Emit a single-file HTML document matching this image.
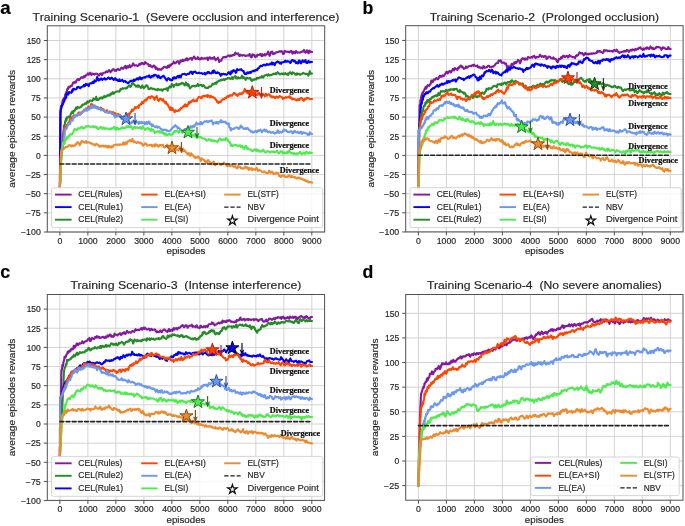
<!DOCTYPE html><html><head><meta charset="utf-8"><style>html,body{margin:0;padding:0;background:#fff;}body{width:685px;height:526px;overflow:hidden;}svg{display:block;}</style></head><body>
<svg width="685" height="526" viewBox="0 0 685 526" style="will-change:transform">
<rect width="685" height="526" fill="#fff"/>
<g>
<g stroke="#d3d3d3" stroke-width="1">
<line x1="59.90" y1="25.8" x2="59.90" y2="232.0"/>
<line x1="87.89" y1="25.8" x2="87.89" y2="232.0"/>
<line x1="115.88" y1="25.8" x2="115.88" y2="232.0"/>
<line x1="143.87" y1="25.8" x2="143.87" y2="232.0"/>
<line x1="171.86" y1="25.8" x2="171.86" y2="232.0"/>
<line x1="199.85" y1="25.8" x2="199.85" y2="232.0"/>
<line x1="227.84" y1="25.8" x2="227.84" y2="232.0"/>
<line x1="255.83" y1="25.8" x2="255.83" y2="232.0"/>
<line x1="283.82" y1="25.8" x2="283.82" y2="232.0"/>
<line x1="311.81" y1="25.8" x2="311.81" y2="232.0"/>
<line x1="47.3" y1="232.00" x2="324.7" y2="232.00"/>
<line x1="47.3" y1="212.85" x2="324.7" y2="212.85"/>
<line x1="47.3" y1="193.70" x2="324.7" y2="193.70"/>
<line x1="47.3" y1="174.55" x2="324.7" y2="174.55"/>
<line x1="47.3" y1="155.40" x2="324.7" y2="155.40"/>
<line x1="47.3" y1="136.25" x2="324.7" y2="136.25"/>
<line x1="47.3" y1="117.10" x2="324.7" y2="117.10"/>
<line x1="47.3" y1="97.95" x2="324.7" y2="97.95"/>
<line x1="47.3" y1="78.80" x2="324.7" y2="78.80"/>
<line x1="47.3" y1="59.65" x2="324.7" y2="59.65"/>
<line x1="47.3" y1="40.50" x2="324.7" y2="40.50"/>
</g>
<clipPath id="cpa"><rect x="47.3" y="25.8" width="277.4" height="206.2"/></clipPath>
<g clip-path="url(#cpa)" fill="none" stroke-width="2.1" stroke-linejoin="round" stroke-linecap="round">
<path d="M59.9,188.0 59.9,187.3 59.9,186.6 59.9,186.2 59.9,185.1 59.9,184.6 59.9,184.1 59.9,182.3 59.9,182.0 59.9,182.0 59.9,180.7 59.9,179.9 59.9,179.8 59.9,178.5 59.9,178.1 59.9,176.0 59.9,176.0 59.9,175.5 60.0,175.2 60.0,174.7 60.0,173.7 60.0,172.1 60.0,171.5 60.0,172.1 60.0,169.6 60.0,168.4 60.0,168.9 60.0,168.8 60.0,167.8 60.0,168.7 60.0,169.5 60.0,166.3 60.0,165.6 60.0,164.8 60.0,164.4 60.0,163.6 60.0,163.0 60.0,162.7 60.0,162.3 60.0,160.2 60.0,160.4 60.0,159.7 60.0,158.5 60.0,158.0 60.0,157.6 60.0,155.5 60.0,154.4 60.0,155.1 60.0,154.1 60.0,153.5 60.0,154.0 60.0,152.2 60.0,150.8 60.1,150.2 60.1,151.9 60.1,151.4 60.1,148.3 60.1,146.7 60.1,147.0 60.1,146.7 60.1,145.1 60.1,144.9 60.1,144.5 60.1,143.3 60.1,143.3 60.1,142.4 60.1,140.4 60.1,141.1 60.1,141.3 60.1,139.8 60.1,138.9 60.1,136.0 60.1,136.9 60.1,136.8 60.1,135.9 60.1,135.0 60.1,134.4 60.1,134.2 60.1,132.4 60.1,130.8 60.1,131.9 60.1,131.6 60.1,129.8 60.1,130.4 60.1,128.8 60.1,128.0 60.1,126.1 60.1,124.5 60.2,127.1 60.2,125.5 60.2,123.9 60.2,124.5 60.2,123.5 60.2,122.6 60.2,122.1 60.2,121.8 60.2,120.5 60.2,119.5 60.2,118.3 60.2,119.2 60.2,118.4 60.2,117.6 60.2,115.6 60.2,113.1 60.2,114.1 60.2,111.9 60.3,112.5 60.4,112.0 60.4,112.3 60.5,112.4 60.6,111.6 60.7,110.4 60.8,109.0 60.8,109.6 60.9,107.3 61.0,105.8 61.2,106.4 61.5,105.7 61.8,105.1 62.0,105.4 62.2,102.9 62.5,101.4 62.7,100.4 63.0,100.5 63.2,99.4 63.4,99.2 63.7,98.4 63.9,99.4 64.1,98.4 64.4,98.4 64.6,97.5 64.9,96.8 65.1,95.6 65.3,94.2 65.6,94.3 65.8,93.7 66.0,94.2 66.3,92.2 66.5,91.8 66.8,92.2 67.0,90.2 67.5,88.6 68.0,88.9 68.5,86.7 69.0,87.5 69.5,87.4 70.0,86.9 70.5,85.9 71.0,86.2 71.5,85.9 72.0,85.7 72.5,84.2 73.0,82.8 73.5,82.3 74.0,82.8 74.5,82.3 75.0,82.8 75.5,81.7 76.0,82.4 76.5,80.7 77.0,79.9 77.6,79.2 78.3,79.0 78.9,80.2 79.6,79.3 80.2,78.6 80.9,77.8 81.5,77.2 82.2,77.8 82.8,77.4 83.5,77.5 84.1,76.0 84.8,76.9 85.4,76.2 86.1,75.0 86.7,74.9 87.4,74.4 88.0,73.4 88.7,74.6 89.4,74.4 90.2,72.7 90.9,74.4 91.6,74.9 92.3,73.6 93.1,73.9 93.8,73.8 94.5,74.6 95.2,74.2 95.9,73.6 96.7,73.8 97.4,74.0 98.1,74.8 98.8,75.7 99.6,74.5 100.3,73.7 101.0,73.4 101.7,75.2 102.3,74.7 103.0,73.1 103.7,72.8 104.3,72.7 105.0,72.8 105.7,72.1 106.3,71.3 107.0,72.1 107.7,72.0 108.4,70.9 109.1,70.1 109.8,70.7 110.5,72.2 111.2,71.3 111.8,70.9 112.5,69.4 113.2,69.1 113.9,69.4 114.6,70.6 115.3,70.0 116.0,71.0 116.7,69.5 117.4,69.7 118.0,68.9 118.7,69.6 119.4,70.0 120.1,69.8 120.8,68.5 121.5,67.5 122.1,68.0 122.8,68.6 123.5,68.6 124.2,67.2 124.9,66.5 125.5,65.8 126.2,68.4 126.9,67.4 127.6,66.2 128.3,67.5 129.0,66.3 129.6,65.2 130.3,67.2 131.0,66.5 131.7,66.3 132.4,65.0 133.1,63.4 133.8,64.6 134.5,65.6 135.2,65.4 135.9,65.1 136.6,65.5 137.3,66.0 138.0,65.7 138.7,65.1 139.4,63.9 140.1,64.7 140.8,64.1 141.5,62.8 142.2,63.7 142.9,63.1 143.6,64.2 144.3,64.1 145.0,62.1 145.7,63.3 146.3,63.1 147.0,63.6 147.7,64.0 148.3,64.2 149.0,66.1 149.7,65.5 150.3,65.0 151.0,66.5 151.7,66.6 152.3,67.3 153.0,66.3 153.7,65.5 154.3,65.7 155.0,66.7 155.7,68.9 156.3,67.5 157.0,68.4 157.7,69.7 158.3,69.8 159.0,68.9 159.7,69.6 160.5,69.4 161.2,69.8 161.9,68.5 162.6,68.6 163.4,67.4 164.1,66.9 164.8,66.7 165.5,67.4 166.3,67.4 167.0,67.9 167.7,66.1 168.3,65.5 169.0,67.3 169.7,66.1 170.3,64.6 171.0,65.3 171.7,64.0 172.3,64.0 173.0,63.4 173.7,61.7 174.3,62.9 175.0,63.4 175.7,63.1 176.4,62.0 177.1,61.5 177.8,61.1 178.5,62.1 179.2,63.8 179.8,62.3 180.5,60.4 181.2,61.4 181.9,61.0 182.6,59.7 183.3,61.1 184.0,60.5 184.7,59.8 185.5,60.3 186.2,58.4 186.9,58.2 187.6,60.4 188.4,59.0 189.1,59.1 189.8,58.4 190.5,58.5 191.3,58.0 192.0,59.8 192.7,58.5 193.5,57.2 194.2,56.5 194.9,57.9 195.6,58.9 196.4,58.7 197.1,58.3 197.8,57.2 198.5,59.0 199.3,59.4 200.0,58.5 200.7,59.4 201.4,57.9 202.1,58.0 202.9,58.6 203.6,58.7 204.3,58.4 205.0,58.4 205.7,58.4 206.4,58.4 207.1,57.6 207.9,60.1 208.6,58.3 209.3,57.3 210.0,57.4 210.7,58.8 211.4,58.6 212.1,57.9 212.9,58.7 213.6,57.6 214.3,57.1 215.0,59.0 215.7,60.1 216.4,59.0 217.1,59.0 217.9,57.7 218.6,59.6 219.3,62.1 220.0,60.6 220.6,60.5 221.3,60.6 221.9,59.0 222.5,58.1 223.2,57.3 223.8,57.1 224.5,57.0 225.1,57.5 225.7,56.8 226.4,57.1 227.0,56.5 227.7,56.0 228.4,55.4 229.1,55.7 229.8,56.4 230.5,55.3 231.2,55.6 231.8,56.0 232.5,55.0 233.2,55.1 233.9,54.6 234.6,55.0 235.3,52.6 236.0,53.4 236.7,53.8 237.4,53.8 238.1,53.3 238.9,55.6 239.6,56.0 240.3,54.6 241.0,55.5 241.7,55.2 242.4,55.6 243.1,55.1 243.9,55.2 244.6,55.3 245.3,56.0 246.0,55.9 246.7,55.8 247.4,55.6 248.1,55.3 248.9,55.6 249.6,53.9 250.3,55.6 251.0,57.3 251.7,57.3 252.4,54.3 253.1,54.6 253.9,55.6 254.6,55.2 255.3,57.2 256.0,56.8 256.7,56.6 257.4,54.7 258.1,55.0 258.9,55.0 259.6,54.8 260.3,53.8 261.0,55.4 261.7,56.2 262.4,54.2 263.1,55.6 263.9,55.3 264.6,54.2 265.3,55.5 266.0,54.1 266.7,54.5 267.4,53.5 268.1,51.5 268.9,54.2 269.6,55.8 270.3,54.6 271.0,51.7 271.7,52.5 272.4,51.7 273.1,54.2 273.9,53.5 274.6,53.8 275.3,52.9 276.0,52.3 276.7,52.4 277.4,52.2 278.1,52.1 278.9,51.7 279.6,51.2 280.3,51.7 281.0,51.5 281.7,51.0 282.4,52.3 283.1,54.0 283.9,53.8 284.6,50.9 285.3,51.2 286.0,51.7 286.7,51.7 287.4,51.6 288.1,52.0 288.9,51.8 289.6,52.3 290.3,51.3 291.0,51.0 291.7,51.3 292.4,53.6 293.1,52.4 293.9,51.7 294.6,53.3 295.3,53.3 296.0,51.0 296.7,51.9 297.5,52.7 298.2,52.4 298.9,52.6 299.6,52.8 300.4,52.3 301.1,51.9 301.8,52.0 302.5,51.4 303.3,51.4 304.0,49.9 304.7,52.0 305.5,52.7 306.2,52.1 306.9,50.4 307.6,50.6 308.4,53.2 309.1,52.8 309.8,50.7 310.5,51.8 311.3,51.9 312.0,52.0" stroke="#84199f"/>
<path d="M59.9,188.0 59.9,187.3 59.9,186.6 59.9,184.1 59.9,186.2 59.9,186.0 59.9,184.2 59.9,183.0 60.0,182.2 60.0,181.4 60.0,180.3 60.0,179.4 60.0,179.1 60.0,178.7 60.0,177.6 60.0,177.2 60.0,176.5 60.0,176.3 60.0,176.4 60.0,175.4 60.0,173.2 60.0,174.6 60.0,171.9 60.0,171.7 60.1,171.1 60.1,169.4 60.1,170.6 60.1,169.1 60.1,168.6 60.1,167.8 60.1,166.3 60.1,165.7 60.1,165.2 60.1,164.3 60.1,164.5 60.1,163.6 60.1,163.4 60.1,164.1 60.1,160.7 60.1,161.1 60.2,161.3 60.2,160.2 60.2,159.1 60.2,158.5 60.2,158.0 60.2,156.8 60.2,156.5 60.2,156.4 60.2,155.1 60.2,153.0 60.2,153.4 60.2,152.1 60.2,150.4 60.2,151.7 60.2,149.8 60.2,149.1 60.3,148.8 60.3,148.8 60.3,145.3 60.3,146.7 60.3,146.5 60.3,145.9 60.3,145.3 60.3,144.7 60.3,144.0 60.3,144.3 60.3,142.8 60.3,140.9 60.3,139.7 60.3,139.9 60.3,138.2 60.3,137.5 60.4,140.6 60.4,138.9 60.4,137.4 60.4,135.4 60.4,134.2 60.4,133.7 60.4,133.2 60.4,133.5 60.4,133.4 60.4,131.6 60.4,129.7 60.4,129.3 60.4,130.1 60.4,126.7 60.4,126.3 60.4,126.5 60.5,125.2 60.5,124.4 60.5,124.1 60.5,123.6 60.5,121.8 60.5,121.4 60.5,121.9 60.5,121.9 60.5,121.0 60.5,118.7 60.5,118.0 60.5,118.4 60.5,117.3 60.5,117.7 60.5,116.4 60.5,115.8 60.6,113.6 60.6,113.0 60.6,112.8 60.6,112.4 60.6,112.0 60.6,112.2 60.6,111.8 60.6,111.3 60.8,109.3 61.1,108.4 61.3,108.4 61.5,107.8 61.8,106.7 62.0,105.2 62.3,105.6 62.6,104.8 62.8,104.2 63.1,103.8 63.4,102.9 63.7,101.9 63.9,101.5 64.2,101.3 64.5,99.5 64.8,99.9 65.1,98.4 65.3,98.7 65.6,97.8 65.9,98.1 66.2,97.4 66.4,95.6 66.7,93.0 67.0,93.8 67.6,94.3 68.2,94.6 68.9,92.1 69.5,92.5 70.1,92.6 70.8,92.4 71.4,92.7 72.0,90.4 72.6,91.3 73.2,88.8 73.9,88.7 74.5,89.4 75.1,89.5 75.8,89.3 76.4,89.1 77.0,87.4 77.7,87.5 78.4,86.8 79.1,87.1 79.8,88.0 80.4,88.2 81.1,87.0 81.8,87.0 82.5,86.5 83.2,86.4 83.9,84.8 84.6,86.2 85.2,85.5 85.9,83.8 86.6,84.9 87.3,84.3 88.0,85.3 88.7,86.2 89.3,83.9 90.0,83.4 90.6,83.2 91.2,83.3 91.9,83.4 92.5,81.9 93.2,82.9 93.8,82.9 94.5,80.4 95.2,81.4 95.8,81.4 96.5,79.5 97.1,77.1 97.8,78.6 98.4,80.4 99.0,79.5 99.7,80.1 100.3,78.9 101.0,78.5 101.7,78.8 102.4,79.8 103.1,78.9 103.9,78.7 104.6,78.2 105.3,79.6 106.0,79.2 106.7,79.1 107.4,78.4 108.1,77.6 108.9,77.8 109.6,78.7 110.3,79.0 111.0,78.1 111.7,77.7 112.4,78.5 113.1,79.3 113.9,79.9 114.6,78.7 115.3,78.1 116.0,80.0 116.7,79.6 117.4,80.3 118.1,80.9 118.8,81.0 119.4,79.4 120.1,81.1 120.8,80.9 121.5,80.3 122.2,79.8 122.9,80.9 123.6,81.8 124.2,81.2 124.9,81.0 125.6,81.3 126.3,82.3 127.0,82.5 127.7,83.1 128.4,83.0 129.1,82.2 129.8,81.5 130.5,81.1 131.2,80.7 131.9,81.1 132.6,80.6 133.3,81.1 134.0,79.6 134.7,80.8 135.3,79.8 136.0,79.7 136.7,78.5 137.4,78.3 138.1,79.6 138.8,79.1 139.5,77.3 140.2,77.3 140.9,79.2 141.6,79.3 142.3,77.8 143.0,77.7 143.7,77.6 144.4,77.2 145.1,77.6 145.8,76.7 146.5,76.5 147.2,76.3 147.9,76.7 148.6,76.6 149.3,75.4 150.0,77.2 150.7,77.6 151.4,77.3 152.1,75.8 152.8,75.7 153.5,76.5 154.2,74.8 154.9,75.2 155.6,74.9 156.3,75.7 157.0,76.1 157.7,77.5 158.4,75.5 159.1,76.4 159.8,77.6 160.5,78.2 161.2,77.4 161.9,76.8 162.6,76.3 163.3,75.7 164.0,76.3 164.7,77.4 165.4,78.5 166.1,79.7 166.8,80.6 167.5,79.3 168.2,78.2 168.9,78.7 169.6,78.8 170.3,80.2 171.0,80.2 171.7,80.0 172.3,80.1 172.9,77.9 173.6,78.4 174.2,77.1 174.9,78.5 175.6,77.9 176.2,78.2 176.8,76.7 177.5,76.4 178.2,75.8 178.8,77.4 179.4,75.8 180.1,76.4 180.8,77.3 181.4,75.2 182.1,74.4 182.7,74.0 183.3,74.0 184.0,74.0 184.7,73.7 185.4,74.5 186.1,74.9 186.9,74.2 187.6,73.9 188.3,73.9 189.0,73.9 189.7,72.9 190.4,72.0 191.1,71.6 191.9,73.2 192.6,74.0 193.3,71.9 194.0,71.9 194.7,71.8 195.4,71.6 196.1,72.8 196.9,73.1 197.6,73.2 198.3,73.0 199.0,72.6 199.7,73.0 200.4,73.2 201.1,73.2 201.9,73.1 202.6,73.9 203.3,73.8 204.0,73.8 204.7,72.9 205.4,74.5 206.1,73.4 206.9,73.4 207.6,72.0 208.3,72.8 209.0,72.0 209.7,73.3 210.4,73.3 211.1,73.4 211.9,72.8 212.6,71.0 213.3,72.8 214.0,70.4 214.7,71.6 215.3,72.7 216.0,73.2 216.7,72.9 217.3,72.2 218.0,73.0 218.7,72.7 219.3,73.3 220.0,74.3 220.7,75.8 221.3,74.3 222.0,73.8 222.7,74.3 223.4,73.7 224.1,73.9 224.9,74.4 225.6,74.2 226.3,74.6 227.0,74.5 227.7,73.5 228.4,72.4 229.1,72.3 229.9,74.1 230.6,74.4 231.3,71.3 232.0,72.6 232.7,70.9 233.5,70.2 234.2,71.0 234.9,70.5 235.6,72.8 236.4,72.4 237.1,69.1 237.8,69.6 238.5,70.0 239.3,69.8 240.0,69.5 240.6,69.7 241.2,69.2 241.8,70.2 242.4,70.4 243.0,71.1 243.6,71.0 244.2,73.1 244.8,74.0 245.4,74.1 246.0,73.4 246.7,73.8 247.3,72.4 248.0,72.2 248.7,73.2 249.3,72.8 250.0,72.0 250.7,72.9 251.3,71.5 252.0,71.5 252.7,71.4 253.3,70.5 254.0,71.3 254.6,71.3 255.2,70.1 255.9,70.1 256.5,69.7 257.1,70.2 257.8,68.7 258.4,68.0 259.0,68.0 259.6,67.0 260.2,66.2 260.9,65.7 261.5,66.0 262.1,66.2 262.8,65.3 263.4,64.7 264.0,65.0 264.7,64.8 265.4,65.5 266.1,64.7 266.9,63.9 267.6,64.7 268.3,64.4 269.0,64.8 269.7,64.2 270.4,63.5 271.1,64.3 271.9,62.4 272.6,64.4 273.3,62.9 274.0,63.8 274.7,65.1 275.4,63.1 276.1,62.5 276.8,62.2 277.5,61.3 278.2,62.2 278.9,62.0 279.6,63.4 280.4,62.5 281.1,63.8 281.8,62.2 282.5,62.4 283.2,62.1 283.9,62.0 284.6,61.9 285.3,60.6 286.0,61.8 286.7,61.8 287.4,61.1 288.1,61.5 288.9,61.6 289.6,61.7 290.3,63.0 291.0,62.3 291.7,60.2 292.4,60.1 293.1,60.2 293.9,61.5 294.6,60.6 295.3,61.5 296.0,63.1 296.7,62.3 297.5,63.4 298.2,63.2 298.9,60.6 299.6,60.6 300.4,62.9 301.1,63.3 301.8,62.2 302.5,60.3 303.3,61.2 304.0,62.0 304.7,60.9 305.5,60.1 306.2,62.8 306.9,62.9 307.6,62.9 308.4,60.9 309.1,61.5 309.8,62.5 310.5,61.9 311.3,62.0 312.0,62.0" stroke="#0000ff"/>
<path d="M59.9,188.0 59.9,187.3 59.9,186.6 60.0,186.7 60.0,184.2 60.0,184.9 60.0,184.2 60.0,182.2 60.1,183.5 60.1,182.0 60.1,180.5 60.1,179.3 60.1,180.0 60.2,179.6 60.2,177.2 60.2,177.1 60.2,176.1 60.2,176.0 60.3,175.3 60.3,173.3 60.3,173.3 60.3,172.6 60.3,171.5 60.4,171.7 60.4,170.4 60.4,171.1 60.4,171.1 60.4,169.6 60.5,165.6 60.5,165.9 60.5,166.7 60.5,165.9 60.5,165.3 60.6,165.6 60.6,163.6 60.6,162.2 60.7,162.2 60.7,161.8 60.8,161.8 60.9,162.1 60.9,160.7 61.0,158.0 61.0,156.8 61.1,157.1 61.2,157.2 61.2,156.6 61.3,156.3 61.4,155.5 61.4,155.2 61.5,152.8 61.6,150.8 61.6,150.4 61.7,152.2 61.8,150.4 61.8,149.4 61.9,148.9 61.9,148.2 62.0,147.3 62.1,146.6 62.1,146.9 62.2,146.7 62.3,145.8 62.3,144.1 62.4,143.9 62.5,141.5 62.5,141.3 62.6,139.8 62.7,141.2 62.7,139.7 62.8,139.2 62.8,138.4 62.9,137.8 63.0,135.9 63.0,134.7 63.1,134.7 63.2,134.0 63.2,133.0 63.3,135.1 63.4,133.4 63.4,132.8 63.5,130.4 63.6,131.3 63.6,132.0 63.7,130.4 63.7,130.6 63.8,129.2 63.9,128.3 63.9,125.9 64.0,126.0 64.2,126.0 64.5,125.5 64.8,124.3 65.0,123.0 65.2,121.0 65.5,121.8 65.8,120.5 66.0,118.6 66.2,119.3 66.5,120.3 66.8,118.1 67.0,117.3 67.5,118.0 68.0,117.3 68.5,116.5 69.0,116.7 69.5,117.2 70.0,117.2 70.5,114.9 71.0,113.7 71.5,112.6 72.0,111.9 72.5,111.4 73.0,113.1 73.5,111.0 74.0,111.0 74.5,111.1 75.0,110.0 75.5,109.1 76.0,107.7 76.5,109.0 77.0,108.5 77.6,106.8 78.3,107.7 78.9,107.7 79.6,107.7 80.2,107.1 80.9,106.5 81.5,106.6 82.2,105.0 82.8,104.4 83.5,104.6 84.1,104.5 84.8,104.0 85.4,103.2 86.1,103.8 86.7,103.0 87.4,101.4 88.0,102.5 88.7,102.4 89.4,100.8 90.1,100.5 90.7,100.6 91.4,100.9 92.1,101.0 92.8,100.3 93.5,98.4 94.2,99.5 94.8,99.0 95.5,99.4 96.2,96.8 96.9,100.0 97.6,99.2 98.3,99.9 98.9,99.5 99.6,98.3 100.3,97.7 101.0,98.4 101.7,97.4 102.3,98.3 103.0,97.4 103.6,97.6 104.3,95.9 104.9,97.1 105.6,96.9 106.2,96.2 106.9,96.2 107.5,95.1 108.2,95.2 108.8,95.6 109.5,94.5 110.1,95.4 110.8,93.7 111.4,94.3 112.1,92.9 112.7,92.1 113.4,93.8 114.0,93.6 114.7,92.4 115.3,92.1 116.0,91.7 116.7,91.6 117.3,91.4 118.0,91.3 118.6,91.5 119.3,91.6 119.9,90.8 120.6,88.9 121.2,89.4 121.9,88.9 122.5,88.2 123.2,88.8 123.8,88.3 124.5,88.3 125.1,88.3 125.8,88.7 126.4,87.7 127.1,88.0 127.7,86.8 128.4,86.2 129.0,85.4 129.7,85.5 130.3,87.0 131.0,86.4 131.7,84.7 132.4,82.6 133.1,83.7 133.8,83.9 134.5,85.0 135.2,85.2 135.9,86.6 136.6,86.5 137.4,85.4 138.1,86.8 138.8,85.4 139.5,86.6 140.2,86.7 140.9,87.9 141.6,87.3 142.3,85.4 143.0,86.8 143.7,88.2 144.4,87.8 145.1,87.1 145.9,85.5 146.6,85.2 147.3,85.6 148.0,87.4 148.7,89.2 149.4,88.9 150.1,88.7 150.9,87.9 151.6,88.4 152.3,88.6 153.0,89.1 153.7,88.8 154.4,89.1 155.1,89.8 155.9,89.6 156.6,89.5 157.3,90.2 158.0,88.9 158.7,89.4 159.4,89.8 160.1,89.9 160.9,89.6 161.6,89.4 162.3,90.9 163.0,89.9 163.7,89.2 164.3,89.2 165.0,88.8 165.7,89.2 166.3,88.5 167.0,88.2 167.7,90.7 168.3,88.5 169.0,87.2 169.7,86.4 170.3,87.4 171.0,87.2 171.7,83.9 172.3,84.7 173.0,85.1 173.7,86.9 174.3,85.6 175.0,84.7 175.7,84.6 176.4,83.7 177.1,85.3 177.8,84.6 178.5,85.2 179.2,83.9 179.8,84.1 180.5,84.3 181.2,83.3 181.9,82.8 182.6,83.5 183.3,83.4 184.0,84.4 184.7,85.4 185.3,84.4 186.0,82.4 186.7,83.9 187.3,85.7 188.0,84.2 188.7,84.7 189.3,86.6 190.0,88.4 190.7,87.5 191.3,87.0 192.0,86.1 192.7,86.2 193.5,85.7 194.2,85.9 194.9,86.4 195.6,85.7 196.4,85.9 197.1,85.4 197.8,83.9 198.5,85.9 199.3,85.4 200.0,85.3 200.7,84.9 201.5,84.8 202.2,86.3 202.9,85.8 203.6,85.2 204.4,86.1 205.1,87.6 205.8,87.7 206.5,87.9 207.3,87.9 208.0,88.0 208.7,87.1 209.3,86.3 210.0,86.7 210.7,86.5 211.3,86.1 212.0,84.8 212.7,83.6 213.3,84.3 214.0,83.8 214.7,83.6 215.3,82.7 216.0,83.8 216.7,83.0 217.3,81.5 218.0,81.5 218.7,80.9 219.3,80.9 220.0,80.4 220.7,80.0 221.3,80.4 222.0,79.6 222.7,79.9 223.3,79.7 224.0,79.2 224.7,80.1 225.5,79.1 226.2,78.8 226.9,78.9 227.6,78.1 228.4,78.2 229.1,78.0 229.8,78.8 230.5,78.9 231.3,78.4 232.0,77.2 232.7,79.1 233.4,78.1 234.1,77.0 234.9,76.4 235.6,76.3 236.3,78.6 237.0,77.3 237.7,78.4 238.4,77.4 239.1,78.2 239.9,78.2 240.6,77.5 241.3,77.6 242.0,75.7 242.7,78.3 243.4,76.9 244.1,77.7 244.8,78.2 245.5,79.9 246.2,78.6 246.9,77.6 247.6,78.3 248.4,78.5 249.1,78.4 249.8,77.8 250.5,78.2 251.2,80.4 251.9,80.9 252.6,79.8 253.3,79.9 254.0,79.8 254.7,79.0 255.4,79.2 256.1,79.6 256.9,77.8 257.6,78.4 258.3,78.0 259.0,78.3 259.7,77.4 260.4,77.5 261.1,77.5 261.9,76.1 262.6,77.0 263.3,77.6 264.0,76.1 264.7,75.4 265.4,75.4 266.1,75.1 266.9,74.6 267.6,75.7 268.3,74.3 269.0,74.7 269.7,75.4 270.4,74.9 271.1,75.3 271.9,74.6 272.6,74.5 273.3,73.7 274.0,74.0 274.7,74.0 275.4,73.2 276.1,74.2 276.9,73.6 277.6,72.1 278.3,72.9 279.0,73.5 279.7,74.4 280.4,74.0 281.1,73.7 281.9,73.5 282.6,74.0 283.3,73.4 284.0,74.3 284.7,73.7 285.4,73.1 286.1,74.1 286.9,74.4 287.6,73.6 288.3,74.9 289.0,73.2 289.7,72.3 290.4,72.4 291.1,73.6 291.9,74.1 292.6,72.3 293.3,73.2 294.0,73.1 294.7,73.4 295.4,74.7 296.1,74.8 296.9,73.3 297.6,74.4 298.3,73.7 299.0,73.8 299.7,74.6 300.4,74.8 301.1,74.1 301.9,74.0 302.6,73.4 303.3,72.9 304.0,73.3 304.7,73.6 305.5,74.1 306.2,73.7 306.9,73.9 307.6,74.0 308.4,75.7 309.1,73.4 309.8,71.2 310.5,73.7 311.3,73.6 312.0,73.6" stroke="#268b26"/>
<path d="M59.9,188.0 59.9,187.3 59.9,186.6 60.0,184.6 60.0,185.4 60.0,184.4 60.0,183.2 60.1,182.3 60.1,181.8 60.1,180.7 60.1,180.7 60.2,179.6 60.2,179.9 60.2,178.9 60.2,176.2 60.3,175.4 60.3,176.1 60.3,175.6 60.4,174.8 60.4,175.3 60.4,173.3 60.4,174.1 60.5,172.6 60.5,171.7 60.5,171.4 60.5,171.1 60.5,171.5 60.6,167.7 60.6,168.0 60.6,167.2 60.6,166.7 60.7,166.0 60.7,165.3 60.7,163.7 60.8,163.2 60.8,164.8 60.8,162.8 60.8,161.6 60.9,161.8 60.9,160.5 60.9,159.3 60.9,157.3 61.0,156.9 61.0,158.5 61.0,157.2 61.1,156.2 61.2,157.0 61.3,155.3 61.4,153.1 61.5,153.4 61.6,152.1 61.7,151.8 61.8,149.5 61.9,149.4 62.0,149.3 62.1,150.3 62.2,147.4 62.3,147.5 62.4,146.7 62.5,145.2 62.6,144.6 62.7,144.8 62.8,145.8 62.9,144.3 63.0,143.2 63.1,143.3 63.1,142.6 63.2,140.4 63.2,140.9 63.3,139.1 63.3,138.3 63.4,138.1 63.4,136.0 63.5,135.5 63.6,135.3 63.6,136.9 63.7,136.6 63.7,134.9 63.8,132.1 63.8,132.2 63.9,131.8 63.9,131.6 64.0,129.2 64.4,128.6 64.7,127.6 65.1,127.4 65.5,128.4 65.8,128.0 66.2,126.0 66.6,125.2 66.9,125.3 67.3,124.3 67.7,124.6 68.1,123.6 68.4,122.6 68.8,122.4 69.2,121.9 69.5,121.4 69.9,119.5 70.3,119.0 70.6,119.4 71.0,118.1 71.7,117.7 72.3,117.0 73.0,116.9 73.7,115.3 74.3,115.9 75.0,116.6 75.7,115.5 76.3,115.0 77.0,115.8 77.7,114.3 78.3,113.0 79.0,112.4 79.6,114.8 80.2,114.7 80.8,112.6 81.4,113.5 82.0,113.0 82.5,111.5 83.1,111.6 83.7,110.7 84.3,109.5 84.9,109.6 85.5,110.4 86.1,108.4 86.7,109.2 87.3,108.4 87.9,107.5 88.5,106.4 89.0,108.3 89.6,107.7 90.2,106.9 90.8,105.6 91.4,103.9 92.0,104.2 92.7,105.8 93.4,106.4 94.1,105.4 94.8,106.1 95.5,107.7 96.2,107.1 96.9,107.1 97.6,107.1 98.3,108.3 99.0,109.0 99.7,108.4 100.3,107.6 101.0,107.7 101.7,108.7 102.3,109.4 103.0,109.0 103.7,109.7 104.3,110.7 105.0,111.2 105.7,111.1 106.3,111.2 107.0,110.2 107.7,112.3 108.3,112.7 109.0,112.0 109.7,111.5 110.3,111.8 111.0,111.9 111.7,112.7 112.3,113.9 113.0,112.1 113.7,113.1 114.3,114.1 115.0,113.2 115.7,113.6 116.3,116.4 117.0,115.0 117.7,114.3 118.3,114.0 119.0,114.7 119.7,114.8 120.3,115.2 121.0,116.2 121.7,117.2 122.3,118.2 123.0,118.3 123.7,118.1 124.3,117.4 125.0,118.4 125.5,117.3 126.0,115.9 126.5,115.6 127.0,114.7 127.5,114.3 128.0,114.1 128.5,114.7 129.0,115.0 129.5,113.4 130.0,113.6 130.5,112.9 131.0,111.7 131.5,111.0 132.0,109.5 132.5,110.9 133.0,110.7 133.5,109.6 134.0,109.3 134.5,108.5 135.0,107.0 135.6,107.7 136.2,108.0 136.8,107.5 137.4,106.7 138.0,107.0 138.6,107.9 139.1,105.0 139.7,105.1 140.3,104.4 140.9,103.6 141.5,104.3 142.1,101.9 142.7,102.2 143.3,103.2 143.9,101.6 144.5,100.6 145.1,100.7 145.7,99.5 146.3,100.4 146.9,99.4 147.4,98.2 148.0,97.5 148.6,97.4 149.2,96.9 149.8,97.8 150.4,98.2 151.0,96.7 151.7,96.2 152.4,96.4 153.1,97.3 153.8,97.9 154.5,100.0 155.2,97.7 155.9,97.2 156.6,96.0 157.4,99.0 158.1,100.3 158.8,100.9 159.5,99.8 160.2,98.5 160.9,98.9 161.6,99.4 162.3,100.2 163.0,99.2 163.5,101.5 164.0,101.3 164.5,101.5 165.0,102.6 165.5,103.4 166.0,102.1 166.5,103.4 167.0,104.0 167.5,104.2 168.0,105.5 168.5,106.2 169.0,107.2 169.5,107.4 170.0,109.8 170.5,107.4 171.0,107.9 171.5,110.1 172.0,109.3 172.5,108.0 173.0,110.3 173.5,110.3 174.0,110.4 174.5,112.2 175.0,111.9 175.6,110.3 176.2,110.6 176.8,110.9 177.4,111.1 178.0,110.8 178.6,110.2 179.2,110.6 179.8,109.9 180.4,108.8 181.0,108.0 181.6,108.1 182.2,107.5 182.8,107.0 183.4,106.0 184.0,106.5 184.6,105.2 185.2,104.3 185.8,106.2 186.5,105.0 187.1,106.3 187.7,105.0 188.3,103.7 188.9,102.1 189.5,103.5 190.2,102.4 190.8,101.4 191.4,101.9 192.0,100.9 192.7,100.3 193.3,99.7 194.0,101.4 194.7,101.0 195.3,100.5 196.0,100.4 196.7,101.2 197.3,99.3 198.0,98.2 198.7,96.9 199.3,97.0 200.0,97.1 200.7,97.8 201.5,98.2 202.2,96.9 202.9,96.0 203.6,96.1 204.4,96.3 205.1,96.0 205.8,95.7 206.5,95.3 207.3,96.8 208.0,95.1 208.7,96.5 209.3,96.0 210.0,97.3 210.7,95.9 211.3,96.3 212.0,97.2 212.6,97.3 213.2,97.1 213.8,97.7 214.3,97.9 214.9,98.3 215.5,99.6 216.1,99.6 216.7,100.7 217.2,102.0 217.8,102.3 218.4,102.9 219.0,101.6 219.6,102.5 220.3,102.0 220.9,101.7 221.6,100.2 222.2,99.7 222.9,99.0 223.5,99.4 224.1,99.3 224.8,98.3 225.4,98.1 226.1,98.2 226.7,97.1 227.4,96.1 228.0,96.8 228.7,96.9 229.3,95.3 230.0,95.8 230.7,95.1 231.3,95.5 232.0,95.7 232.7,94.5 233.3,94.0 234.0,92.8 234.7,93.6 235.3,93.7 236.0,94.8 236.7,94.5 237.5,96.0 238.2,94.3 238.9,94.3 239.6,93.3 240.4,94.1 241.1,93.3 241.8,94.1 242.5,92.6 243.3,92.8 244.0,91.5 244.7,88.9 245.5,90.5 246.2,91.9 246.9,92.7 247.6,92.8 248.4,93.8 249.1,92.9 249.8,93.1 250.5,94.1 251.3,93.9 252.0,93.2 252.7,93.0 253.5,94.1 254.2,94.4 254.9,93.1 255.6,94.3 256.4,94.9 257.1,95.0 257.8,94.6 258.5,92.5 259.3,93.3 260.0,94.8 260.7,95.4 261.4,94.5 262.1,95.1 262.9,94.4 263.6,94.7 264.3,95.3 265.0,96.3 265.7,93.7 266.4,94.5 267.1,95.7 267.9,94.5 268.6,94.3 269.3,94.5 270.0,95.9 270.7,95.6 271.4,97.2 272.1,97.3 272.9,96.3 273.6,96.9 274.3,97.1 275.0,98.2 275.7,97.3 276.4,96.5 277.1,96.9 277.9,97.6 278.6,97.4 279.3,96.0 280.0,96.3 280.7,96.5 281.5,96.7 282.2,97.4 282.9,99.0 283.6,98.0 284.4,98.2 285.1,97.5 285.8,97.0 286.5,97.6 287.3,97.4 288.0,97.5 288.7,96.8 289.4,96.2 290.1,97.9 290.9,97.4 291.6,98.8 292.3,99.4 293.0,98.6 293.7,99.0 294.4,99.1 295.1,99.4 295.9,99.9 296.6,100.4 297.3,100.3 298.0,99.1 298.7,100.0 299.4,100.0 300.1,98.5 300.8,98.0 301.5,98.1 302.2,98.6 302.9,100.0 303.6,100.7 304.3,100.5 305.0,98.7 305.7,98.6 306.4,98.9 307.1,97.9 307.8,97.9 308.5,98.3 309.2,98.6 309.9,98.9 310.6,99.1 311.3,99.0 312.0,99.0" stroke="#ff4500"/>
<path d="M59.9,188.0 59.9,187.3 60.0,186.6 60.0,186.4 60.0,184.2 60.0,183.2 60.1,182.9 60.1,182.7 60.1,182.6 60.2,180.7 60.2,179.6 60.2,179.1 60.3,180.0 60.3,180.4 60.3,177.9 60.4,177.0 60.4,177.4 60.4,175.5 60.4,175.4 60.5,174.7 60.5,173.9 60.5,174.2 60.6,173.4 60.6,171.8 60.6,171.2 60.6,169.4 60.7,169.0 60.7,169.0 60.7,169.4 60.8,168.5 60.8,167.4 60.8,166.8 60.9,166.1 60.9,165.2 60.9,165.1 60.9,163.4 61.0,163.9 61.0,163.3 61.0,161.0 61.1,160.3 61.1,160.0 61.1,160.1 61.2,158.8 61.2,158.1 61.2,158.5 61.2,155.3 61.3,155.5 61.3,156.5 61.3,154.1 61.4,153.5 61.4,152.9 61.6,152.7 61.7,151.7 61.9,150.8 62.0,152.7 62.2,150.3 62.3,149.4 62.5,147.8 62.6,147.2 62.8,148.3 62.9,146.5 63.1,146.4 63.2,144.8 63.4,143.3 63.5,143.5 63.7,142.4 63.8,141.4 64.0,140.7 64.1,138.7 64.1,137.6 64.2,137.1 64.3,137.6 64.3,137.6 64.4,135.8 64.5,134.0 64.5,134.4 64.6,135.2 64.7,134.3 64.7,133.0 64.8,131.5 64.9,131.2 64.9,131.3 65.0,130.9 65.4,129.1 65.8,129.0 66.2,128.2 66.6,128.8 67.0,127.5 67.4,126.4 67.8,125.3 68.2,123.8 68.6,123.7 69.0,123.6 69.4,124.1 69.8,124.2 70.2,123.8 70.6,121.3 71.0,121.0 71.4,120.7 71.8,119.9 72.2,119.3 72.6,120.8 73.0,118.9 73.6,116.9 74.2,117.7 74.8,116.5 75.4,115.2 76.0,115.8 76.6,115.2 77.2,114.8 77.8,114.9 78.3,115.0 78.9,114.6 79.5,113.9 80.1,113.0 80.7,113.9 81.3,113.4 81.9,112.6 82.5,111.3 83.1,111.5 83.7,111.6 84.3,110.5 84.9,109.7 85.5,109.1 86.1,108.7 86.7,110.6 87.2,110.5 87.8,110.0 88.4,109.4 89.0,108.4 89.6,109.5 90.2,106.9 90.8,106.4 91.4,106.3 92.0,108.1 92.7,107.9 93.3,105.6 94.0,106.3 94.6,107.5 95.3,105.7 95.9,107.3 96.6,108.5 97.2,108.3 97.9,107.3 98.5,109.2 99.2,108.3 99.8,108.4 100.5,108.9 101.1,110.3 101.8,109.7 102.4,109.9 103.1,110.2 103.7,110.9 104.4,110.6 105.0,112.1 105.7,111.3 106.3,112.4 107.0,112.1 107.7,112.3 108.3,112.5 109.0,112.8 109.7,112.8 110.3,112.2 111.0,112.7 111.7,113.3 112.3,114.0 113.0,113.5 113.7,114.8 114.3,115.8 115.0,117.3 115.7,115.5 116.3,114.9 117.0,115.2 117.7,116.4 118.3,115.8 119.0,114.9 119.7,116.6 120.3,116.8 121.0,116.5 121.7,119.2 122.3,118.6 123.0,116.6 123.7,116.1 124.3,118.1 125.0,119.9 125.7,119.5 126.3,118.0 127.0,118.6 127.7,120.4 128.3,120.4 129.0,121.6 129.7,123.5 130.3,122.5 131.0,122.5 131.7,123.1 132.3,121.4 133.0,121.6 133.7,121.4 134.4,122.7 135.1,123.3 135.8,122.5 136.5,122.4 137.2,122.4 137.9,122.3 138.6,123.8 139.3,121.9 140.0,123.2 140.7,122.4 141.4,121.8 142.1,123.3 142.8,122.8 143.5,122.8 144.2,122.2 144.9,124.3 145.6,123.1 146.3,122.0 147.0,124.1 147.7,123.5 148.4,121.8 149.1,121.6 149.9,123.8 150.6,123.5 151.3,125.0 152.0,126.1 152.6,124.5 153.2,125.9 153.8,126.3 154.4,126.2 155.0,127.0 155.6,127.1 156.2,126.3 156.8,126.2 157.4,127.6 158.0,127.5 158.7,126.8 159.4,127.3 160.1,128.1 160.9,129.0 161.6,129.8 162.3,129.6 163.0,130.5 163.7,129.5 164.4,129.8 165.1,130.0 165.9,129.6 166.6,130.7 167.3,130.4 168.0,131.0 168.6,131.2 169.2,131.5 169.8,131.0 170.5,130.0 171.1,129.7 171.7,128.8 172.3,128.0 172.9,127.2 173.5,127.4 174.2,126.5 174.8,125.6 175.4,125.2 176.0,126.0 176.5,126.5 177.1,126.7 177.6,128.4 178.2,127.5 178.7,127.8 179.2,128.4 179.8,128.6 180.3,129.8 180.8,130.3 181.4,130.3 181.9,132.2 182.5,132.7 183.0,131.4 183.6,130.4 184.2,131.7 184.8,129.1 185.4,128.9 186.0,132.2 186.6,129.7 187.2,128.4 187.8,129.0 188.4,127.9 189.0,128.2 189.6,128.5 190.2,126.5 190.8,126.3 191.4,127.0 192.0,127.7 192.7,126.3 193.5,125.5 194.2,126.9 194.9,125.5 195.6,124.4 196.4,122.6 197.1,124.4 197.8,124.4 198.5,123.9 199.3,123.5 200.0,124.2 200.7,122.0 201.3,122.6 202.0,124.4 202.7,122.7 203.3,122.8 204.0,121.8 204.7,121.4 205.3,121.5 206.0,121.4 206.7,120.9 207.3,121.6 208.0,122.2 208.7,121.2 209.5,121.4 210.2,120.9 210.9,120.7 211.6,120.4 212.4,122.2 213.1,124.4 213.8,122.7 214.5,122.8 215.3,122.3 216.0,123.3 216.7,121.9 217.4,123.0 218.1,123.7 218.9,121.8 219.6,122.5 220.3,121.4 221.0,120.2 221.7,122.4 222.4,121.3 223.1,121.7 223.9,122.4 224.6,122.1 225.3,121.6 226.0,123.0 226.5,122.8 226.9,123.7 227.4,123.7 227.8,124.2 228.3,123.6 228.8,123.6 229.2,127.1 229.7,127.6 230.2,127.9 230.6,130.0 231.1,130.4 231.5,128.4 232.0,128.9 232.7,129.1 233.5,128.6 234.2,128.6 234.9,128.0 235.6,127.8 236.4,127.5 237.1,127.4 237.8,127.7 238.5,128.9 239.3,128.6 240.0,127.4 240.7,125.6 241.3,127.2 242.0,126.6 242.7,127.9 243.3,128.6 244.0,128.7 244.7,128.9 245.3,128.2 246.0,129.0 246.7,128.6 247.3,127.8 248.0,128.4 248.7,129.6 249.3,130.3 250.0,130.4 250.7,131.4 251.3,131.8 252.0,131.4 252.7,132.5 253.3,132.2 254.0,132.4 254.7,131.6 255.4,131.0 256.1,131.0 256.9,132.2 257.6,130.9 258.3,130.4 259.0,130.9 259.7,130.5 260.4,129.7 261.1,130.5 261.9,132.3 262.6,131.1 263.3,130.3 264.0,129.8 264.7,129.6 265.3,131.3 266.0,130.0 266.7,130.4 267.3,131.6 268.0,132.4 268.7,132.3 269.3,131.3 270.0,131.9 270.7,132.4 271.3,132.9 272.0,132.6 272.7,132.1 273.3,132.3 274.0,133.0 274.7,133.6 275.4,132.8 276.1,133.0 276.9,132.6 277.6,130.3 278.3,130.9 279.0,132.9 279.7,131.9 280.4,131.8 281.1,132.5 281.9,132.4 282.6,131.8 283.3,130.2 284.0,129.5 284.7,130.7 285.4,130.6 286.1,130.0 286.9,131.1 287.6,132.1 288.3,132.3 289.0,132.0 289.7,131.9 290.4,131.3 291.1,131.2 291.9,131.8 292.6,133.3 293.3,132.8 294.0,131.1 294.7,130.8 295.4,132.1 296.1,132.4 296.9,132.6 297.6,131.6 298.3,132.6 299.0,133.3 299.7,133.0 300.4,131.9 301.1,131.9 301.9,134.0 302.6,133.0 303.3,132.3 304.0,132.5 304.7,132.9 305.5,133.2 306.2,133.3 306.9,133.3 307.6,134.9 308.4,134.4 309.1,134.8 309.8,132.3 310.5,133.8 311.3,133.9 312.0,134.0" stroke="#6a98ee"/>
<path d="M59.9,188.0 59.9,187.3 60.0,186.6 60.0,185.7 60.0,185.4 60.1,184.0 60.1,182.7 60.2,182.8 60.2,183.3 60.2,182.5 60.3,181.7 60.3,180.2 60.3,179.5 60.4,178.2 60.4,177.2 60.4,177.3 60.5,176.5 60.5,175.4 60.6,174.7 60.6,173.7 60.6,174.9 60.7,174.3 60.7,173.5 60.7,172.4 60.8,171.5 60.8,170.7 60.8,169.1 60.9,168.9 60.9,168.6 61.0,167.6 61.0,166.7 61.0,165.1 61.1,164.7 61.1,164.2 61.1,163.5 61.2,162.5 61.2,162.2 61.2,161.4 61.3,160.1 61.3,160.3 61.3,159.3 61.4,159.9 61.4,159.7 61.5,159.0 61.5,157.9 61.5,156.9 61.6,155.1 61.6,154.1 61.6,153.5 61.7,153.2 61.7,152.3 61.7,151.7 61.8,151.4 61.8,149.0 61.9,149.2 61.9,147.9 61.9,148.2 62.0,147.0 62.0,147.2 62.3,146.7 62.7,144.1 63.0,144.2 63.3,142.8 63.7,142.7 64.0,143.6 64.3,143.8 64.7,143.0 65.0,141.1 65.3,138.7 65.7,139.9 66.0,140.1 66.3,139.8 66.7,138.5 67.0,137.0 67.6,138.3 68.1,136.4 68.7,136.8 69.2,136.4 69.8,134.5 70.3,134.6 70.9,134.4 71.4,134.3 72.0,134.4 72.6,133.3 73.1,132.5 73.7,131.4 74.2,129.4 74.8,129.0 75.3,129.6 75.9,129.5 76.4,129.6 77.0,130.1 77.7,128.4 78.4,128.3 79.1,128.5 79.9,128.8 80.6,127.7 81.3,127.0 82.0,127.1 82.7,128.0 83.4,128.6 84.1,127.6 84.9,127.8 85.6,126.9 86.3,126.0 87.0,126.4 87.7,126.6 88.4,125.9 89.1,126.2 89.9,126.7 90.6,127.1 91.3,126.7 92.0,126.5 92.7,126.6 93.4,126.2 94.1,127.4 94.9,126.7 95.6,126.4 96.3,127.9 97.0,127.1 97.7,128.8 98.4,129.0 99.1,128.6 99.9,127.7 100.6,127.1 101.3,127.1 102.0,128.0 102.7,129.0 103.4,127.5 104.1,127.5 104.9,129.0 105.6,128.6 106.3,128.4 107.0,128.5 107.7,128.6 108.4,129.1 109.1,129.4 109.8,129.1 110.5,128.4 111.2,129.1 111.9,128.3 112.6,128.7 113.3,127.8 114.0,126.9 114.7,127.1 115.4,129.6 116.1,129.7 116.8,127.7 117.5,127.6 118.2,129.5 118.9,129.0 119.6,129.0 120.3,128.7 121.0,128.2 121.7,128.6 122.4,127.3 123.1,127.6 123.9,128.3 124.6,127.8 125.3,127.9 126.0,127.2 126.7,126.1 127.4,126.8 128.1,127.2 128.8,126.1 129.5,126.9 130.2,127.4 130.9,126.2 131.6,126.6 132.3,128.5 133.0,129.2 133.7,128.1 134.4,127.3 135.1,126.8 135.8,127.9 136.5,127.4 137.2,127.2 137.9,127.9 138.6,127.9 139.3,128.3 140.0,127.1 140.7,127.6 141.4,129.0 142.1,127.3 142.9,126.3 143.6,128.0 144.3,128.6 145.0,129.9 145.7,129.1 146.4,128.5 147.1,128.3 147.9,128.0 148.6,129.3 149.3,128.6 150.0,129.8 150.7,130.9 151.4,128.7 152.1,130.3 152.9,129.6 153.6,130.6 154.3,131.8 155.0,132.8 155.7,132.1 156.4,132.1 157.1,131.7 157.9,131.3 158.6,131.7 159.3,131.1 160.0,132.6 160.7,131.6 161.5,132.6 162.2,131.8 162.9,133.4 163.6,132.6 164.4,134.5 165.1,133.2 165.8,133.4 166.5,135.4 167.3,135.0 168.0,134.7 168.7,134.1 169.4,134.1 170.1,134.8 170.9,134.6 171.6,134.6 172.3,134.5 173.0,132.8 173.7,132.8 174.4,131.2 175.1,131.8 175.9,130.7 176.6,131.3 177.3,130.8 178.0,131.1 178.7,132.5 179.4,132.1 180.1,130.8 180.9,130.2 181.6,131.0 182.3,131.4 183.0,131.4 183.7,132.1 184.4,131.9 185.1,132.5 185.9,132.9 186.6,132.3 187.3,133.1 188.0,133.2 188.7,132.3 189.3,133.8 190.0,133.8 190.7,133.7 191.3,134.1 192.0,134.7 192.7,135.4 193.3,135.1 194.0,136.1 194.7,134.5 195.3,136.6 196.0,136.4 196.7,137.5 197.4,136.7 198.1,137.3 198.9,136.8 199.6,137.3 200.3,137.0 201.0,137.0 201.7,137.9 202.4,138.2 203.1,138.5 203.9,138.8 204.6,138.4 205.3,139.4 206.0,140.0 206.7,140.8 207.4,140.5 208.1,140.1 208.9,139.1 209.6,139.8 210.3,140.4 211.0,139.6 211.7,140.9 212.4,140.8 213.1,140.3 213.9,141.3 214.6,140.5 215.3,141.0 216.0,141.4 216.7,141.4 217.4,142.1 218.1,140.8 218.9,139.7 219.6,138.6 220.3,138.6 221.0,140.2 221.7,139.9 222.4,139.5 223.1,140.2 223.9,139.3 224.6,139.8 225.3,140.2 226.0,138.0 226.5,138.7 227.0,139.2 227.5,139.2 228.0,140.7 228.5,141.2 229.0,141.4 229.5,141.6 230.0,143.3 230.5,143.3 231.0,145.9 231.5,145.5 232.0,145.0 232.7,146.2 233.5,145.2 234.2,145.2 234.9,144.6 235.6,144.9 236.4,145.1 237.1,145.9 237.8,146.3 238.5,145.6 239.3,145.5 240.0,145.4 240.7,147.1 241.3,146.0 242.0,146.6 242.7,146.1 243.3,148.0 244.0,148.9 244.7,147.9 245.3,146.4 246.0,145.9 246.7,147.0 247.3,149.1 248.0,148.2 248.7,149.1 249.5,149.5 250.2,149.8 250.9,149.5 251.6,150.6 252.4,151.3 253.1,150.4 253.8,150.4 254.5,149.4 255.3,150.3 256.0,149.3 256.7,150.9 257.5,149.7 258.2,151.4 258.9,150.6 259.6,151.3 260.4,151.7 261.1,151.6 261.8,150.6 262.5,150.9 263.3,149.7 264.0,150.9 264.8,152.1 265.6,152.8 266.4,152.0 267.2,151.2 268.0,151.1 268.7,151.4 269.4,152.2 270.1,152.5 270.8,151.8 271.5,151.7 272.2,151.3 272.9,152.0 273.6,151.5 274.4,152.5 275.1,152.2 275.8,151.9 276.5,151.0 277.2,150.6 277.9,152.5 278.6,153.5 279.3,153.1 280.0,152.3 280.7,151.2 281.4,151.5 282.1,151.3 282.8,153.6 283.5,153.0 284.2,152.3 284.9,153.3 285.6,153.5 286.4,152.6 287.1,151.8 287.8,153.0 288.5,150.9 289.2,150.8 289.9,152.2 290.6,152.7 291.3,153.4 292.0,153.1 292.7,153.1 293.4,154.1 294.1,153.1 294.8,153.7 295.5,153.8 296.2,154.4 296.9,153.3 297.6,153.2 298.4,153.8 299.1,153.0 299.8,152.1 300.5,152.0 301.2,153.9 301.9,153.9 302.6,153.8 303.3,152.8 304.0,152.6 304.7,153.8 305.5,153.7 306.2,151.8 306.9,151.8 307.6,152.7 308.4,153.7 309.1,153.0 309.8,152.0 310.5,153.0 311.3,153.0 312.0,153.0" stroke="#4deb4d"/>
<path d="M59.9,188.0 59.9,187.3 59.9,186.6 60.0,184.8 60.0,185.3 60.0,184.7 60.0,185.1 60.0,183.6 60.1,182.6 60.1,180.5 60.1,181.0 60.1,180.8 60.2,179.3 60.2,179.3 60.2,177.3 60.2,177.5 60.2,176.3 60.3,176.0 60.3,176.1 60.3,174.9 60.3,174.0 60.3,173.7 60.4,173.8 60.4,172.9 60.4,170.4 60.4,171.0 60.5,168.4 60.5,168.2 60.5,167.8 60.5,165.5 60.5,166.2 60.6,165.9 60.6,165.0 60.6,163.2 60.6,162.8 60.6,163.4 60.7,163.9 60.7,161.6 60.7,159.5 60.7,159.0 60.7,158.6 60.8,160.0 60.8,160.5 60.8,159.0 60.8,155.7 60.9,155.3 60.9,154.4 60.9,154.8 60.9,156.0 60.9,153.9 61.0,152.5 61.0,151.8 61.0,151.6 61.5,150.4 62.0,149.6 62.5,147.9 63.0,148.7 63.5,149.2 64.0,148.5 64.5,148.3 65.0,147.9 65.7,146.9 66.5,147.0 67.2,146.7 67.9,146.6 68.6,145.3 69.4,145.2 70.1,145.6 70.8,145.3 71.5,146.3 72.3,145.3 73.0,146.0 73.7,146.3 74.3,145.7 75.0,145.5 75.7,144.0 76.3,144.3 77.0,142.7 77.7,142.1 78.3,142.8 79.0,143.2 79.7,145.4 80.3,144.5 81.0,142.4 81.7,140.9 82.3,142.0 83.0,141.3 83.7,141.7 84.3,142.2 85.0,142.8 85.7,141.6 86.3,141.2 87.0,142.8 87.7,142.4 88.3,142.2 89.0,142.5 89.7,142.6 90.3,143.3 91.0,142.8 91.7,143.8 92.3,143.9 93.0,144.6 93.7,144.2 94.4,144.4 95.1,145.4 95.8,144.4 96.5,143.8 97.2,144.5 97.9,144.8 98.6,145.4 99.4,146.7 100.1,145.9 100.8,146.2 101.5,146.5 102.2,145.6 102.9,146.4 103.6,145.7 104.3,146.5 105.0,146.7 105.7,145.6 106.4,146.1 107.1,147.3 107.9,145.8 108.6,147.5 109.3,146.0 110.0,147.3 110.7,147.5 111.4,146.3 112.1,147.5 112.9,146.8 113.6,145.3 114.3,145.3 115.0,145.1 115.7,144.6 116.4,144.7 117.1,144.8 117.8,144.5 118.5,144.9 119.2,144.7 119.9,144.3 120.6,144.8 121.3,144.6 122.0,144.4 122.7,144.6 123.3,142.6 124.0,144.0 124.7,144.6 125.4,142.2 126.1,142.8 126.8,143.8 127.5,141.6 128.2,141.2 128.9,141.4 129.6,140.1 130.3,140.6 131.0,141.4 131.7,140.3 132.4,138.9 133.1,141.5 133.8,142.2 134.5,141.4 135.2,142.3 135.9,142.7 136.6,142.9 137.4,142.1 138.1,142.3 138.8,142.8 139.5,142.5 140.2,143.5 140.9,142.7 141.6,143.3 142.3,144.4 143.0,145.6 143.7,144.6 144.5,144.6 145.2,143.3 145.9,143.7 146.6,144.5 147.4,145.7 148.1,145.2 148.8,145.2 149.5,145.3 150.3,144.9 151.0,144.6 151.7,145.9 152.4,146.3 153.1,145.0 153.8,145.2 154.5,146.3 155.2,144.2 155.9,145.6 156.6,144.6 157.4,145.2 158.1,146.6 158.8,146.6 159.5,145.3 160.2,145.0 160.9,145.0 161.6,145.6 162.3,144.8 163.0,144.7 163.7,147.0 164.4,147.4 165.1,147.2 165.8,146.4 166.5,146.2 167.2,144.6 167.8,146.0 168.5,148.3 169.2,148.7 169.9,149.1 170.6,147.5 171.3,147.9 172.0,148.5 172.0,151.0 172.7,149.6 173.5,147.0 174.2,147.7 174.9,147.2 175.6,149.0 176.4,149.6 177.1,149.7 177.8,149.3 178.5,150.3 179.3,148.4 180.0,147.2 180.7,147.9 181.3,149.5 182.0,150.6 182.7,151.3 183.3,150.1 184.0,149.7 184.7,151.2 185.3,151.1 186.0,152.4 186.7,152.7 187.3,154.0 188.0,154.4 188.7,153.0 189.3,154.0 190.0,155.9 190.7,155.4 191.3,153.3 192.0,155.0 192.7,154.9 193.3,156.1 194.0,156.9 194.7,157.0 195.3,158.4 196.0,157.1 196.7,157.4 197.3,157.6 198.0,156.6 198.7,157.0 199.3,158.2 200.0,158.7 200.7,161.0 201.3,158.2 202.0,158.7 202.7,159.0 203.3,159.9 204.0,159.8 204.7,161.3 205.3,160.9 206.0,162.0 206.7,162.9 207.4,160.7 208.1,160.0 208.9,161.5 209.6,161.7 210.3,162.8 211.0,163.3 211.7,162.9 212.4,164.3 213.1,162.3 213.9,161.6 214.6,164.8 215.3,165.1 216.0,164.5 216.7,163.8 217.4,164.0 218.1,163.7 218.9,163.6 219.6,163.7 220.3,164.7 221.0,165.0 221.7,164.1 222.4,164.2 223.1,163.3 223.9,162.7 224.6,163.6 225.3,164.1 226.0,164.2 226.7,165.9 227.4,166.3 228.1,165.8 228.9,165.1 229.6,165.5 230.3,166.5 231.0,165.5 231.7,165.4 232.4,165.3 233.1,166.6 233.9,166.7 234.6,166.7 235.3,166.2 236.0,167.4 236.7,168.2 237.4,168.3 238.1,166.0 238.8,167.1 239.5,166.5 240.2,166.7 240.9,168.3 241.6,168.0 242.4,168.4 243.1,168.8 243.8,168.3 244.5,167.8 245.2,166.6 245.9,166.7 246.6,168.1 247.3,167.3 248.0,168.1 248.7,170.0 249.4,168.0 250.1,169.0 250.8,169.1 251.5,168.0 252.2,170.4 252.9,169.0 253.6,169.5 254.4,169.3 255.1,170.0 255.8,169.0 256.5,167.8 257.2,169.3 257.9,170.7 258.6,170.6 259.3,169.7 260.0,170.5 260.7,170.8 261.4,171.1 262.1,171.9 262.8,172.2 263.5,172.3 264.2,171.4 265.0,172.1 265.7,172.5 266.4,173.2 267.1,172.9 267.8,173.2 268.5,172.4 269.2,170.7 269.9,171.4 270.6,172.9 271.3,172.8 272.0,171.7 272.8,172.5 273.5,174.2 274.2,173.9 274.9,173.6 275.6,173.7 276.3,172.6 277.0,173.3 277.7,172.8 278.4,173.5 279.1,176.1 279.8,175.6 280.5,176.8 281.2,177.0 281.9,176.0 282.6,175.4 283.3,175.1 284.0,176.1 284.7,176.7 285.4,176.4 286.1,177.0 286.8,176.5 287.5,177.0 288.2,176.4 288.9,175.5 289.6,175.8 290.4,177.0 291.1,177.5 291.8,176.0 292.5,176.4 293.2,177.0 293.9,177.1 294.6,177.7 295.3,177.2 296.0,177.9 296.7,178.5 297.5,177.8 298.2,178.3 298.9,177.3 299.6,178.2 300.4,178.7 301.1,178.3 301.8,179.0 302.5,179.2 303.3,179.9 304.0,179.7 304.7,180.4 305.3,180.1 306.0,181.2 306.7,180.6 307.3,181.7 308.0,181.4 308.7,182.5 309.3,182.1 310.0,182.0 310.7,182.2 311.3,182.4 312.0,182.6" stroke="#ee8a2c"/>
<line x1="59.9" y1="164.0" x2="311.8" y2="164.0" stroke="#222" stroke-width="1.6" stroke-dasharray="3.95,2.2"/>
</g>
<path d="M126.00,112.10 L124.45,116.87 L119.44,116.87 L123.49,119.81 L121.94,124.58 L126.00,121.64 L130.06,124.58 L128.51,119.81 L132.56,116.87 L127.55,116.87Z" fill="#6a98ee" stroke="#2f4f9a" stroke-width="1" stroke-linejoin="miter"/>
<path d="M188.00,125.50 L186.45,130.27 L181.44,130.27 L185.49,133.21 L183.94,137.98 L188.00,135.04 L192.06,137.98 L190.51,133.21 L194.56,130.27 L189.55,130.27Z" fill="#4deb4d" stroke="#1f7a1f" stroke-width="1" stroke-linejoin="miter"/>
<path d="M172.00,141.10 L170.45,145.87 L165.44,145.87 L169.49,148.81 L167.94,153.58 L172.00,150.64 L176.06,153.58 L174.51,148.81 L178.56,145.87 L173.55,145.87Z" fill="#ee8a2c" stroke="#8a4a12" stroke-width="1" stroke-linejoin="miter"/>
<path d="M252.30,85.60 L250.75,90.37 L245.74,90.37 L249.79,93.31 L248.24,98.08 L252.30,95.14 L256.36,98.08 L254.81,93.31 L258.86,90.37 L253.85,90.37Z" fill="#ff4500" stroke="#b5231a" stroke-width="1" stroke-linejoin="miter"/>
<line x1="135" y1="113" x2="135" y2="123" stroke="#2f4f9a" stroke-width="1.15"/>
<path d="M133.1,119.8 L135,121.4 L136.9,119.8 L135,125 Z" fill="#2f4f9a" stroke="#2f4f9a" stroke-width="0.6" stroke-linejoin="round"/>
<line x1="197" y1="127" x2="197" y2="136.5" stroke="#1f7a1f" stroke-width="1.15"/>
<path d="M195.1,133.3 L197,134.9 L198.9,133.3 L197,138.5 Z" fill="#1f7a1f" stroke="#1f7a1f" stroke-width="0.6" stroke-linejoin="round"/>
<line x1="181.4" y1="142" x2="181.4" y2="151" stroke="#8a4a12" stroke-width="1.15"/>
<path d="M179.5,147.8 L181.4,149.4 L183.3,147.8 L181.4,153 Z" fill="#8a4a12" stroke="#8a4a12" stroke-width="0.6" stroke-linejoin="round"/>
<line x1="261.5" y1="87" x2="261.5" y2="96.5" stroke="#b5231a" stroke-width="1.15"/>
<path d="M259.6,93.3 L261.5,94.9 L263.4,93.3 L261.5,98.5 Z" fill="#b5231a" stroke="#b5231a" stroke-width="0.6" stroke-linejoin="round"/>
<text transform="translate(269.80,92.70) scale(0.9822,1)" font-family="Liberation Serif" font-size="8.40" font-weight="bold" text-anchor="start" fill="#111" stroke="#111" stroke-width="0.25" xml:space="preserve">Divergence</text>
<text transform="translate(269.80,126.30) scale(0.9822,1)" font-family="Liberation Serif" font-size="8.40" font-weight="bold" text-anchor="start" fill="#111" stroke="#111" stroke-width="0.25" xml:space="preserve">Divergence</text>
<text transform="translate(269.80,148.30) scale(0.9822,1)" font-family="Liberation Serif" font-size="8.40" font-weight="bold" text-anchor="start" fill="#111" stroke="#111" stroke-width="0.25" xml:space="preserve">Divergence</text>
<text transform="translate(279.80,172.90) scale(0.9822,1)" font-family="Liberation Serif" font-size="8.40" font-weight="bold" text-anchor="start" fill="#111" stroke="#111" stroke-width="0.25" xml:space="preserve">Divergence</text>
<rect x="47.3" y="25.8" width="277.40" height="206.20" fill="none" stroke="#505050" stroke-width="1"/>
<g stroke="#505050" stroke-width="1">
<line x1="59.90" y1="232.0" x2="59.90" y2="235.5"/>
<line x1="87.89" y1="232.0" x2="87.89" y2="235.5"/>
<line x1="115.88" y1="232.0" x2="115.88" y2="235.5"/>
<line x1="143.87" y1="232.0" x2="143.87" y2="235.5"/>
<line x1="171.86" y1="232.0" x2="171.86" y2="235.5"/>
<line x1="199.85" y1="232.0" x2="199.85" y2="235.5"/>
<line x1="227.84" y1="232.0" x2="227.84" y2="235.5"/>
<line x1="255.83" y1="232.0" x2="255.83" y2="235.5"/>
<line x1="283.82" y1="232.0" x2="283.82" y2="235.5"/>
<line x1="311.81" y1="232.0" x2="311.81" y2="235.5"/>
<line x1="43.8" y1="232.00" x2="47.3" y2="232.00"/>
<line x1="43.8" y1="212.85" x2="47.3" y2="212.85"/>
<line x1="43.8" y1="193.70" x2="47.3" y2="193.70"/>
<line x1="43.8" y1="174.55" x2="47.3" y2="174.55"/>
<line x1="43.8" y1="155.40" x2="47.3" y2="155.40"/>
<line x1="43.8" y1="136.25" x2="47.3" y2="136.25"/>
<line x1="43.8" y1="117.10" x2="47.3" y2="117.10"/>
<line x1="43.8" y1="97.95" x2="47.3" y2="97.95"/>
<line x1="43.8" y1="78.80" x2="47.3" y2="78.80"/>
<line x1="43.8" y1="59.65" x2="47.3" y2="59.65"/>
<line x1="43.8" y1="40.50" x2="47.3" y2="40.50"/>
</g>
<text transform="translate(59.90,243.80) scale(1.0528,1)" font-family="Liberation Sans" font-size="8.30" text-anchor="middle" fill="#262626" stroke="#262626" stroke-width="0.17" xml:space="preserve">0</text>
<text transform="translate(87.89,243.80) scale(1.0528,1)" font-family="Liberation Sans" font-size="8.30" text-anchor="middle" fill="#262626" stroke="#262626" stroke-width="0.17" xml:space="preserve">1000</text>
<text transform="translate(115.88,243.80) scale(1.0528,1)" font-family="Liberation Sans" font-size="8.30" text-anchor="middle" fill="#262626" stroke="#262626" stroke-width="0.17" xml:space="preserve">2000</text>
<text transform="translate(143.87,243.80) scale(1.0528,1)" font-family="Liberation Sans" font-size="8.30" text-anchor="middle" fill="#262626" stroke="#262626" stroke-width="0.17" xml:space="preserve">3000</text>
<text transform="translate(171.86,243.80) scale(1.0528,1)" font-family="Liberation Sans" font-size="8.30" text-anchor="middle" fill="#262626" stroke="#262626" stroke-width="0.17" xml:space="preserve">4000</text>
<text transform="translate(199.85,243.80) scale(1.0528,1)" font-family="Liberation Sans" font-size="8.30" text-anchor="middle" fill="#262626" stroke="#262626" stroke-width="0.17" xml:space="preserve">5000</text>
<text transform="translate(227.84,243.80) scale(1.0528,1)" font-family="Liberation Sans" font-size="8.30" text-anchor="middle" fill="#262626" stroke="#262626" stroke-width="0.17" xml:space="preserve">6000</text>
<text transform="translate(255.83,243.80) scale(1.0528,1)" font-family="Liberation Sans" font-size="8.30" text-anchor="middle" fill="#262626" stroke="#262626" stroke-width="0.17" xml:space="preserve">7000</text>
<text transform="translate(283.82,243.80) scale(1.0528,1)" font-family="Liberation Sans" font-size="8.30" text-anchor="middle" fill="#262626" stroke="#262626" stroke-width="0.17" xml:space="preserve">8000</text>
<text transform="translate(311.81,243.80) scale(1.0528,1)" font-family="Liberation Sans" font-size="8.30" text-anchor="middle" fill="#262626" stroke="#262626" stroke-width="0.17" xml:space="preserve">9000</text>
<text transform="translate(40.80,235.30) scale(1.0623,1)" font-family="Liberation Sans" font-size="8.30" text-anchor="end" fill="#262626" stroke="#262626" stroke-width="0.17" xml:space="preserve">−100</text>
<text transform="translate(40.80,216.15) scale(1.0753,1)" font-family="Liberation Sans" font-size="8.30" text-anchor="end" fill="#262626" stroke="#262626" stroke-width="0.17" xml:space="preserve">−75</text>
<text transform="translate(40.80,197.00) scale(1.0753,1)" font-family="Liberation Sans" font-size="8.30" text-anchor="end" fill="#262626" stroke="#262626" stroke-width="0.17" xml:space="preserve">−50</text>
<text transform="translate(40.80,177.85) scale(1.0753,1)" font-family="Liberation Sans" font-size="8.30" text-anchor="end" fill="#262626" stroke="#262626" stroke-width="0.17" xml:space="preserve">−25</text>
<text transform="translate(40.80,158.70) scale(1.0225,1)" font-family="Liberation Sans" font-size="8.30" text-anchor="end" fill="#262626" stroke="#262626" stroke-width="0.17" xml:space="preserve">0</text>
<text transform="translate(40.80,139.55) scale(1.0225,1)" font-family="Liberation Sans" font-size="8.30" text-anchor="end" fill="#262626" stroke="#262626" stroke-width="0.17" xml:space="preserve">25</text>
<text transform="translate(40.80,120.40) scale(1.0225,1)" font-family="Liberation Sans" font-size="8.30" text-anchor="end" fill="#262626" stroke="#262626" stroke-width="0.17" xml:space="preserve">50</text>
<text transform="translate(40.80,101.25) scale(1.0225,1)" font-family="Liberation Sans" font-size="8.30" text-anchor="end" fill="#262626" stroke="#262626" stroke-width="0.17" xml:space="preserve">75</text>
<text transform="translate(40.80,82.10) scale(1.0225,1)" font-family="Liberation Sans" font-size="8.30" text-anchor="end" fill="#262626" stroke="#262626" stroke-width="0.17" xml:space="preserve">100</text>
<text transform="translate(40.80,62.95) scale(1.0225,1)" font-family="Liberation Sans" font-size="8.30" text-anchor="end" fill="#262626" stroke="#262626" stroke-width="0.17" xml:space="preserve">125</text>
<text transform="translate(40.80,43.80) scale(1.0225,1)" font-family="Liberation Sans" font-size="8.30" text-anchor="end" fill="#262626" stroke="#262626" stroke-width="0.17" xml:space="preserve">150</text>
<text transform="translate(186.00,254.40) scale(1.0364,1)" font-family="Liberation Sans" font-size="9.40" text-anchor="middle" fill="#262626" stroke="#262626" stroke-width="0.17" xml:space="preserve">episodes</text>
<text transform="translate(15.20,128.90) rotate(-90) scale(1.0671,1)" font-family="Liberation Sans" font-size="9.40" text-anchor="middle" fill="#262626" stroke="#262626" stroke-width="0.17" xml:space="preserve">average episodes rewards</text>
<text transform="translate(186.00,20.60) scale(1.0766,1)" font-family="Liberation Sans" font-size="11.40" text-anchor="middle" fill="#262626" stroke="#262626" stroke-width="0.17" xml:space="preserve">Training Scenario-1  (Severe occlusion and interference)</text>
</g>
<g>
<g stroke="#d3d3d3" stroke-width="1">
<line x1="418.40" y1="25.7" x2="418.40" y2="231.9"/>
<line x1="446.39" y1="25.7" x2="446.39" y2="231.9"/>
<line x1="474.38" y1="25.7" x2="474.38" y2="231.9"/>
<line x1="502.37" y1="25.7" x2="502.37" y2="231.9"/>
<line x1="530.36" y1="25.7" x2="530.36" y2="231.9"/>
<line x1="558.35" y1="25.7" x2="558.35" y2="231.9"/>
<line x1="586.34" y1="25.7" x2="586.34" y2="231.9"/>
<line x1="614.33" y1="25.7" x2="614.33" y2="231.9"/>
<line x1="642.32" y1="25.7" x2="642.32" y2="231.9"/>
<line x1="670.31" y1="25.7" x2="670.31" y2="231.9"/>
<line x1="405.7" y1="231.95" x2="683.1" y2="231.95"/>
<line x1="405.7" y1="212.80" x2="683.1" y2="212.80"/>
<line x1="405.7" y1="193.65" x2="683.1" y2="193.65"/>
<line x1="405.7" y1="174.50" x2="683.1" y2="174.50"/>
<line x1="405.7" y1="155.35" x2="683.1" y2="155.35"/>
<line x1="405.7" y1="136.20" x2="683.1" y2="136.20"/>
<line x1="405.7" y1="117.05" x2="683.1" y2="117.05"/>
<line x1="405.7" y1="97.90" x2="683.1" y2="97.90"/>
<line x1="405.7" y1="78.75" x2="683.1" y2="78.75"/>
<line x1="405.7" y1="59.60" x2="683.1" y2="59.60"/>
<line x1="405.7" y1="40.45" x2="683.1" y2="40.45"/>
</g>
<clipPath id="cpb"><rect x="405.7" y="25.7" width="277.40000000000003" height="206.20000000000002"/></clipPath>
<g clip-path="url(#cpb)" fill="none" stroke-width="2.1" stroke-linejoin="round" stroke-linecap="round">
<path d="M418.4,188.0 418.4,187.3 418.4,186.6 418.4,184.7 418.4,184.5 418.5,183.0 418.5,183.7 418.5,182.9 418.5,183.4 418.5,180.8 418.5,181.6 418.5,179.2 418.5,180.0 418.5,180.1 418.5,178.0 418.6,179.1 418.6,177.6 418.6,176.5 418.6,175.3 418.6,173.3 418.6,174.6 418.6,175.3 418.6,174.0 418.6,172.2 418.6,171.6 418.7,171.0 418.7,171.2 418.7,170.1 418.7,169.1 418.7,167.9 418.7,167.3 418.7,165.9 418.7,164.3 418.7,164.0 418.7,164.1 418.8,164.2 418.8,162.3 418.8,160.8 418.8,161.4 418.8,160.7 418.8,160.8 418.8,159.9 418.8,157.7 418.8,156.8 418.9,155.3 418.9,156.2 418.9,157.0 418.9,155.4 418.9,154.6 418.9,154.1 418.9,152.2 418.9,152.1 418.9,150.5 418.9,151.1 419.0,149.7 419.0,148.8 419.0,147.3 419.0,148.1 419.0,146.9 419.0,145.4 419.0,146.0 419.0,146.0 419.0,144.3 419.0,143.0 419.1,141.2 419.1,141.1 419.1,140.1 419.1,140.6 419.1,141.2 419.1,139.6 419.1,138.1 419.1,139.2 419.1,138.5 419.1,136.6 419.2,137.4 419.2,136.4 419.2,136.0 419.2,135.1 419.2,133.8 419.2,132.5 419.2,130.2 419.2,130.0 419.2,130.1 419.3,129.5 419.3,128.8 419.3,128.4 419.3,127.4 419.3,127.5 419.3,127.5 419.3,124.4 419.3,124.5 419.3,124.0 419.3,124.2 419.4,123.5 419.4,123.0 419.4,121.9 419.4,119.8 419.4,119.9 419.4,119.6 419.4,119.7 419.4,117.7 419.4,116.1 419.4,116.2 419.5,116.3 419.5,114.9 419.5,114.2 419.5,114.1 419.5,113.6 419.5,111.7 419.5,112.0 419.5,111.0 419.5,110.2 419.5,109.9 419.6,109.0 419.6,108.9 419.6,108.9 419.6,106.4 419.6,105.1 419.7,105.9 419.9,105.9 420.0,105.0 420.2,104.5 420.3,103.8 420.4,100.5 420.6,100.6 420.7,99.3 420.9,101.0 421.0,100.0 421.2,97.7 421.3,96.0 421.4,96.2 421.6,96.0 421.7,95.1 421.9,97.2 422.0,93.9 422.4,93.0 422.8,92.9 423.2,91.6 423.6,91.4 424.0,90.4 424.4,89.7 424.8,88.5 425.2,88.6 425.6,86.9 426.0,88.7 426.5,88.3 427.1,86.1 427.6,85.1 428.1,85.6 428.6,85.4 429.2,85.8 429.7,85.1 430.2,84.2 430.7,83.9 431.3,80.6 431.8,80.7 432.3,80.8 432.8,82.1 433.4,80.7 433.9,79.3 434.4,79.6 434.9,79.8 435.5,79.5 436.0,78.5 436.6,77.9 437.3,78.7 437.9,79.3 438.6,78.3 439.2,76.5 439.9,75.5 440.5,76.8 441.2,76.3 441.8,76.6 442.5,75.4 443.1,75.6 443.8,76.0 444.4,75.1 445.1,74.0 445.7,73.1 446.4,71.9 447.0,71.8 447.6,73.5 448.3,72.6 448.9,71.7 449.6,70.9 450.2,71.2 450.9,72.5 451.5,71.2 452.2,70.5 452.8,68.8 453.5,70.3 454.1,70.5 454.8,68.1 455.4,68.6 456.1,69.1 456.7,69.5 457.4,69.9 458.0,67.9 458.7,68.4 459.5,66.5 460.2,66.4 460.9,65.5 461.6,67.2 462.4,66.6 463.1,67.7 463.8,68.8 464.5,68.5 465.3,68.3 466.0,66.5 466.7,67.7 467.5,67.4 468.2,66.7 468.9,66.2 469.6,66.1 470.4,65.9 471.1,66.3 471.8,65.5 472.5,65.0 473.3,65.8 474.0,64.6 474.7,65.5 475.3,65.8 476.0,66.2 476.7,66.0 477.3,65.4 478.0,67.3 478.7,67.4 479.3,66.8 480.0,67.8 480.7,68.1 481.3,67.5 482.0,67.5 482.7,68.5 483.5,66.0 484.2,66.9 484.9,67.9 485.6,67.6 486.4,67.4 487.1,67.0 487.8,66.0 488.5,65.7 489.3,65.9 490.0,67.1 490.7,67.1 491.3,67.2 492.0,66.6 492.7,66.5 493.3,66.6 494.0,65.9 494.7,65.2 495.3,64.5 496.0,63.4 496.7,63.1 497.3,62.7 498.0,63.0 498.7,60.5 499.3,61.1 500.0,60.5 500.7,60.3 501.3,62.1 502.0,62.9 502.7,62.6 503.3,62.5 504.0,62.6 504.7,63.5 505.3,63.8 506.0,63.5 506.6,65.5 507.1,68.0 507.7,66.5 508.3,66.4 508.9,66.4 509.4,66.5 510.0,68.8 510.6,67.2 511.1,65.3 511.7,63.8 512.3,64.9 512.9,64.8 513.4,64.1 514.0,62.5 514.6,63.7 515.1,62.5 515.7,61.8 516.3,62.9 516.9,62.0 517.4,61.2 518.0,59.9 518.7,60.5 519.4,61.5 520.1,63.3 520.8,61.4 521.5,59.2 522.2,58.5 522.9,58.2 523.6,59.0 524.4,59.6 525.1,58.3 525.8,59.5 526.5,59.1 527.2,59.5 527.9,57.0 528.6,57.4 529.3,57.6 530.0,57.5 530.7,57.8 531.4,57.0 532.2,57.7 532.9,56.3 533.6,56.2 534.3,55.9 535.1,57.7 535.8,57.9 536.5,56.9 537.2,57.1 537.9,57.0 538.7,56.8 539.4,56.4 540.1,54.7 540.8,55.8 541.6,56.9 542.3,56.1 543.0,56.2 543.7,57.0 544.5,56.4 545.2,55.8 545.9,56.6 546.6,58.9 547.4,58.4 548.1,57.3 548.8,56.5 549.5,56.8 550.3,57.0 551.0,58.2 551.6,58.3 552.2,58.2 552.8,58.4 553.4,57.4 554.0,58.7 554.6,58.7 555.2,58.9 555.8,59.1 556.4,60.3 557.0,61.6 557.6,62.1 558.2,61.6 558.8,58.8 559.4,59.1 560.0,59.0 560.6,58.8 561.2,57.1 561.8,58.1 562.4,57.7 563.0,55.9 563.7,55.6 564.4,56.6 565.1,57.2 565.9,56.2 566.6,55.9 567.3,56.0 568.0,57.5 568.7,57.0 569.4,55.1 570.1,56.1 570.9,56.2 571.6,56.7 572.3,57.1 573.0,57.0 573.7,57.1 574.4,57.1 575.1,58.1 575.9,56.0 576.6,55.1 577.3,55.8 578.0,55.2 578.7,53.9 579.4,52.3 580.1,52.8 580.9,53.4 581.6,53.4 582.3,53.0 583.0,54.1 583.7,55.3 584.5,54.5 585.2,53.0 585.9,53.3 586.6,54.5 587.4,54.3 588.1,53.7 588.8,54.4 589.5,53.9 590.3,53.5 591.0,54.0 591.7,53.4 592.5,53.8 593.2,53.3 593.9,53.4 594.6,53.5 595.4,53.3 596.1,52.9 596.8,52.9 597.5,50.9 598.3,51.6 599.0,51.8 599.7,50.9 600.5,51.2 601.2,52.3 601.9,52.4 602.6,52.9 603.4,52.5 604.1,50.1 604.8,50.4 605.5,50.7 606.3,50.2 607.0,50.5 607.7,51.1 608.5,51.0 609.2,50.7 609.9,51.2 610.6,51.2 611.4,51.1 612.1,51.1 612.8,51.7 613.5,50.4 614.3,50.1 615.0,50.7 615.7,51.1 616.5,49.7 617.2,50.7 617.9,51.7 618.6,52.2 619.4,52.9 620.1,52.3 620.8,52.3 621.5,51.9 622.3,51.8 623.0,51.5 623.7,51.8 624.5,50.8 625.2,51.5 625.9,51.5 626.6,50.1 627.4,50.0 628.1,50.9 628.8,51.9 629.5,51.3 630.3,50.0 631.0,49.8 631.7,50.7 632.5,49.3 633.2,49.8 633.9,49.7 634.6,50.5 635.4,48.9 636.1,49.7 636.8,49.6 637.5,48.8 638.3,49.0 639.0,47.7 639.7,47.9 640.5,47.4 641.2,48.9 641.9,48.7 642.6,49.8 643.4,48.5 644.1,49.7 644.8,48.7 645.5,48.0 646.3,48.8 647.0,47.4 647.7,47.6 648.5,48.8 649.2,48.9 649.9,47.7 650.6,46.4 651.4,48.0 652.1,48.7 652.8,47.8 653.5,49.2 654.3,49.1 655.0,48.3 655.7,48.3 656.5,46.8 657.2,47.3 657.9,47.1 658.6,47.1 659.4,47.4 660.1,47.6 660.8,48.1 661.5,49.8 662.3,48.4 663.0,47.3 663.8,48.0 664.5,47.9 665.3,48.9 666.0,49.0 666.8,48.9 667.6,49.1 668.3,47.0 669.1,48.9 669.8,48.9 670.6,49.0" stroke="#84199f"/>
<path d="M418.4,188.0 418.4,187.3 418.4,186.6 418.4,186.6 418.4,187.0 418.4,185.0 418.4,184.0 418.4,182.9 418.4,182.3 418.4,181.3 418.4,181.9 418.5,179.0 418.5,178.9 418.5,178.6 418.5,179.2 418.5,175.7 418.5,176.0 418.5,175.1 418.5,174.6 418.5,174.6 418.5,174.2 418.5,174.3 418.5,173.9 418.5,172.8 418.5,170.9 418.5,170.5 418.5,169.1 418.5,168.3 418.5,167.4 418.5,168.4 418.5,166.2 418.6,165.7 418.6,165.0 418.6,165.4 418.6,164.3 418.6,163.3 418.6,162.6 418.6,161.6 418.6,160.9 418.6,160.5 418.6,159.0 418.6,158.4 418.6,158.8 418.6,158.0 418.6,157.4 418.6,156.2 418.6,155.1 418.6,155.0 418.6,154.1 418.6,153.3 418.6,153.4 418.7,152.6 418.7,152.5 418.7,151.5 418.7,150.0 418.7,149.7 418.7,149.0 418.7,147.0 418.7,146.4 418.7,147.3 418.7,147.0 418.7,144.5 418.7,143.9 418.7,142.5 418.7,142.6 418.7,140.7 418.7,139.1 418.7,140.3 418.7,138.7 418.7,137.6 418.7,138.4 418.8,137.6 418.8,135.4 418.8,135.2 418.8,135.9 418.8,135.8 418.8,134.4 418.8,134.1 418.8,133.9 418.8,132.0 418.8,132.5 418.8,130.8 418.9,130.1 418.9,128.8 419.0,128.2 419.1,128.3 419.1,128.6 419.2,126.5 419.2,125.2 419.3,124.8 419.4,123.6 419.4,124.1 419.5,125.0 419.6,123.3 419.6,122.6 419.7,122.5 419.7,120.2 419.8,119.5 419.9,118.5 419.9,117.3 420.0,117.6 420.1,116.5 420.1,115.8 420.2,116.1 420.2,115.7 420.3,115.8 420.4,113.0 420.4,112.0 420.5,112.7 420.6,111.7 420.6,109.4 420.7,109.0 420.7,108.4 420.8,108.4 420.9,106.4 420.9,104.9 421.0,104.0 421.2,103.8 421.4,104.0 421.6,103.6 421.8,103.6 421.9,102.2 422.1,100.5 422.3,100.3 422.5,100.3 422.7,100.1 422.9,99.5 423.1,96.5 423.2,96.1 423.4,96.5 423.6,96.7 423.8,96.5 424.0,95.6 424.5,94.0 425.1,93.8 425.6,94.1 426.2,92.3 426.7,92.3 427.3,92.9 427.8,93.2 428.4,91.9 428.9,91.4 429.5,91.8 430.0,91.5 430.7,90.6 431.3,89.5 432.0,89.0 432.7,88.6 433.3,87.8 434.0,88.3 434.7,87.7 435.3,86.9 436.0,86.5 436.7,85.7 437.3,85.1 438.0,86.7 438.6,86.5 439.3,86.2 439.9,84.7 440.6,85.2 441.2,84.3 441.9,83.5 442.5,83.7 443.1,84.7 443.8,84.1 444.4,83.5 445.1,83.3 445.7,83.4 446.4,82.6 447.0,81.1 447.7,82.8 448.4,81.0 449.1,81.0 449.8,82.1 450.4,81.3 451.1,81.0 451.8,80.6 452.5,80.8 453.2,79.8 453.9,80.4 454.6,80.0 455.2,79.4 455.9,81.6 456.6,79.9 457.3,79.6 458.0,78.2 458.7,77.4 459.5,77.8 460.2,78.0 460.9,78.3 461.6,78.9 462.4,79.1 463.1,78.6 463.8,80.1 464.5,79.1 465.3,78.6 466.0,78.2 466.7,78.1 467.3,77.1 468.0,77.1 468.7,76.3 469.3,78.0 470.0,76.9 470.7,75.8 471.3,76.4 472.0,75.6 472.7,75.0 473.3,74.8 474.0,74.6 474.5,74.8 475.0,76.0 475.5,76.7 476.0,77.3 476.5,77.3 477.0,78.5 477.5,80.1 478.0,80.6 478.5,78.1 479.0,80.0 479.5,77.4 479.9,76.7 480.4,77.7 480.9,78.9 481.3,77.3 481.8,75.5 482.3,75.7 482.7,75.3 483.2,76.1 483.7,75.4 484.1,74.2 484.6,72.3 485.1,72.7 485.5,72.3 486.0,71.4 486.8,71.0 487.5,71.2 488.2,71.2 489.0,69.9 489.8,70.3 490.5,71.8 491.2,71.4 492.0,69.7 492.7,70.9 493.3,73.3 494.0,72.3 494.7,72.2 495.3,71.7 496.0,73.7 496.7,72.1 497.3,73.0 498.0,72.6 498.7,74.1 499.3,74.2 500.0,74.9 500.7,75.1 501.3,75.4 502.0,74.1 502.7,73.2 503.3,72.7 504.0,72.3 504.7,71.5 505.3,72.2 506.0,70.4 506.7,69.5 507.3,71.7 508.0,70.3 508.6,68.3 509.3,69.1 509.9,69.9 510.5,68.1 511.2,67.4 511.8,68.1 512.5,67.4 513.1,67.7 513.7,66.9 514.4,67.0 515.0,67.4 515.7,68.1 516.4,68.3 517.1,68.2 517.8,68.5 518.5,69.0 519.2,68.2 519.9,68.4 520.6,69.0 521.3,69.5 522.0,69.1 522.7,69.4 523.3,71.9 524.0,70.3 524.7,70.0 525.3,70.0 526.0,68.7 526.7,67.9 527.3,69.1 528.0,68.1 528.7,68.7 529.3,68.3 530.0,67.8 530.7,67.6 531.3,66.4 532.0,65.2 532.7,64.5 533.3,65.7 534.0,66.8 534.7,65.0 535.3,63.5 536.0,63.6 536.7,63.8 537.3,64.4 538.0,64.2 538.7,64.3 539.4,65.2 540.1,64.5 540.9,65.7 541.6,64.4 542.3,64.7 543.0,65.1 543.7,65.9 544.4,65.1 545.1,65.3 545.9,66.0 546.6,66.3 547.3,67.8 548.0,66.2 548.7,66.5 549.4,66.6 550.1,66.7 550.9,68.4 551.6,68.4 552.3,66.7 553.0,66.3 553.7,66.6 554.3,67.5 555.0,66.5 555.7,68.2 556.3,66.7 557.0,65.8 557.7,66.6 558.3,67.1 559.0,66.8 559.7,65.6 560.3,65.8 561.0,67.0 561.7,65.5 562.3,65.7 563.0,66.2 563.7,66.9 564.3,65.9 565.0,67.1 565.7,66.4 566.3,67.8 567.0,68.1 567.7,66.1 568.3,65.1 569.0,65.5 569.7,66.6 570.3,64.4 571.0,64.8 571.7,62.9 572.3,63.4 573.0,63.7 573.7,63.4 574.5,63.9 575.2,64.5 575.9,64.0 576.6,64.7 577.4,63.9 578.1,63.9 578.8,61.6 579.5,62.1 580.3,61.3 581.0,62.6 581.5,62.7 582.0,62.5 582.5,62.8 583.0,61.4 583.5,60.8 584.0,59.2 584.5,59.8 585.0,59.3 585.5,58.4 586.0,58.6 586.6,57.7 587.3,58.0 587.9,57.9 588.6,58.7 589.2,60.3 589.9,60.1 590.5,60.5 591.1,61.0 591.8,61.0 592.4,61.3 593.1,62.6 593.7,62.5 594.4,63.2 595.0,62.8 595.7,61.8 596.3,62.5 597.0,63.5 597.7,62.7 598.3,60.8 599.0,62.2 599.7,63.5 600.3,60.8 601.0,60.8 601.7,60.5 602.3,60.8 603.0,59.4 603.7,59.5 604.4,59.8 605.1,59.9 605.9,60.0 606.6,58.9 607.3,59.8 608.0,59.3 608.7,59.2 609.4,61.3 610.1,61.6 610.9,59.3 611.6,59.1 612.3,59.8 613.0,59.8 613.7,58.5 614.4,58.8 615.1,57.7 615.8,57.9 616.5,57.2 617.2,57.8 617.9,58.1 618.6,57.7 619.4,57.3 620.1,57.9 620.8,57.3 621.5,56.5 622.2,55.9 622.9,55.3 623.6,56.7 624.3,57.5 625.0,55.7 625.7,56.5 626.4,57.1 627.1,56.9 627.9,55.2 628.6,56.1 629.3,57.2 630.0,58.3 630.7,57.3 631.4,57.1 632.1,56.2 632.9,56.4 633.6,57.7 634.3,56.2 635.0,56.9 635.7,56.1 636.4,56.4 637.1,56.7 637.8,57.4 638.5,56.8 639.2,56.3 639.9,55.5 640.6,55.8 641.4,56.9 642.1,56.7 642.8,55.4 643.5,53.9 644.2,56.6 644.9,56.7 645.6,56.2 646.3,55.9 647.0,56.3 647.7,55.6 648.5,55.2 649.2,55.3 649.9,55.1 650.6,56.6 651.4,54.7 652.1,55.4 652.8,55.9 653.5,54.7 654.3,55.4 655.0,57.4 655.7,56.9 656.5,55.8 657.2,56.2 657.9,56.4 658.6,56.0 659.4,55.6 660.1,56.6 660.8,56.7 661.5,57.0 662.3,57.3 663.0,56.7 663.8,56.8 664.5,55.3 665.3,55.2 666.0,55.2 666.8,55.2 667.6,57.5 668.3,56.7 669.1,55.6 669.8,55.6 670.6,55.6" stroke="#0000ff"/>
<path d="M418.4,188.0 418.4,187.3 418.4,186.6 418.4,186.3 418.4,186.2 418.4,184.4 418.4,183.1 418.4,182.4 418.4,182.6 418.4,182.3 418.4,181.0 418.5,179.9 418.5,180.1 418.5,178.6 418.5,178.2 418.5,176.9 418.5,177.7 418.5,177.1 418.5,175.4 418.5,174.3 418.5,174.0 418.5,173.2 418.5,172.4 418.5,170.5 418.5,170.5 418.5,170.4 418.5,169.0 418.5,169.4 418.5,168.6 418.5,168.2 418.5,165.2 418.6,164.1 418.6,165.2 418.6,166.5 418.6,164.5 418.6,164.4 418.6,163.3 418.6,161.4 418.6,160.6 418.6,160.6 418.6,159.6 418.6,159.3 418.6,157.9 418.6,155.9 418.6,156.3 418.6,158.0 418.6,157.0 418.6,154.7 418.6,153.3 418.6,154.0 418.6,152.0 418.7,150.0 418.7,151.9 418.7,151.2 418.7,150.5 418.7,148.5 418.7,146.5 418.7,145.9 418.7,148.2 418.7,146.7 418.7,145.0 418.7,144.6 418.7,143.8 418.7,143.4 418.7,143.2 418.7,143.1 418.7,141.4 418.7,142.1 418.7,140.2 418.7,140.2 418.7,139.1 418.8,137.0 418.8,136.8 418.8,137.7 418.8,135.6 418.8,134.7 418.8,135.2 418.8,134.3 418.8,134.1 418.8,132.2 418.8,132.8 418.8,132.9 418.9,130.6 419.0,129.0 419.2,128.7 419.3,129.0 419.4,127.0 419.5,127.3 419.6,127.1 419.7,126.0 419.9,125.7 420.0,125.7 420.1,123.2 420.2,122.4 420.3,122.1 420.5,122.4 420.6,121.7 420.7,119.6 420.8,118.7 420.9,117.9 421.1,117.5 421.2,116.8 421.3,114.4 421.4,113.5 421.5,114.5 421.6,114.5 421.8,113.7 421.9,113.3 422.0,112.5 422.3,111.2 422.5,110.7 422.8,111.6 423.1,110.3 423.3,108.1 423.6,106.6 423.9,105.9 424.1,106.4 424.4,105.4 424.7,105.8 424.9,105.5 425.2,103.7 425.5,102.3 425.7,104.0 426.0,102.6 426.6,103.2 427.1,100.6 427.7,100.0 428.3,100.0 428.9,101.9 429.4,100.1 430.0,99.1 430.6,98.5 431.1,98.9 431.7,98.1 432.3,96.8 432.9,97.1 433.4,97.3 434.0,96.1 434.6,96.1 435.3,95.4 435.9,95.9 436.5,96.2 437.2,94.8 437.8,95.7 438.4,93.1 439.1,94.3 439.7,94.9 440.3,92.8 440.9,91.0 441.6,91.5 442.2,91.5 442.8,91.0 443.5,91.2 444.1,91.7 444.7,91.6 445.4,90.8 446.0,89.9 446.7,90.8 447.5,91.1 448.2,90.0 448.9,89.9 449.6,90.5 450.4,89.1 451.1,89.5 451.8,89.6 452.5,89.6 453.3,88.9 454.0,90.0 454.7,89.1 455.3,89.3 456.0,88.8 456.7,88.8 457.3,90.1 458.0,91.4 458.7,91.5 459.3,91.9 460.0,89.9 460.7,91.7 461.3,91.5 462.0,92.0 462.6,92.0 463.1,92.7 463.7,93.6 464.3,92.6 464.9,93.4 465.4,93.8 466.0,96.5 466.6,96.0 467.1,95.8 467.7,96.5 468.3,96.6 468.9,97.8 469.4,97.7 470.0,97.2 470.7,96.8 471.5,96.4 472.2,97.2 472.9,97.9 473.6,96.8 474.4,96.3 475.1,95.0 475.8,96.1 476.5,97.2 477.3,97.0 478.0,96.0 478.6,96.6 479.2,95.9 479.8,95.3 480.4,93.0 481.0,93.9 481.6,93.3 482.2,92.4 482.8,93.2 483.4,93.6 484.0,94.0 484.6,93.2 485.2,91.6 485.8,91.4 486.4,89.0 487.0,88.7 487.6,89.0 488.2,89.6 488.8,88.2 489.4,88.7 490.0,88.2 490.7,88.6 491.3,88.9 492.0,87.5 492.7,86.9 493.3,86.4 494.0,85.7 494.7,85.9 495.3,86.3 496.0,86.2 496.7,87.1 497.3,84.9 498.0,84.1 498.7,84.4 499.3,84.5 500.0,84.0 500.7,84.6 501.3,85.1 502.0,83.4 502.7,84.5 503.4,83.8 504.1,82.8 504.9,82.6 505.6,83.3 506.3,84.6 507.0,82.6 507.7,82.2 508.4,82.0 509.1,82.3 509.9,81.9 510.6,82.4 511.3,80.4 512.0,80.2 512.7,81.4 513.5,81.9 514.2,82.2 514.9,81.2 515.6,80.9 516.4,81.9 517.1,81.5 517.8,82.5 518.5,82.7 519.3,84.3 520.0,83.5 520.6,84.0 521.2,84.2 521.8,84.7 522.5,83.4 523.1,84.4 523.7,86.3 524.3,86.2 524.9,86.6 525.5,88.4 526.2,88.0 526.8,87.6 527.4,88.3 528.0,87.8 528.7,87.4 529.3,87.2 530.0,87.5 530.7,87.3 531.3,87.1 532.0,87.3 532.7,86.0 533.3,85.6 534.0,85.9 534.7,86.3 535.4,87.8 536.1,85.8 536.8,86.0 537.5,84.7 538.2,86.9 538.8,86.7 539.5,84.7 540.2,83.5 540.9,84.9 541.6,84.8 542.3,83.8 543.0,84.6 543.7,85.3 544.3,84.3 545.0,82.8 545.7,82.5 546.3,81.5 547.0,82.1 547.7,82.8 548.3,81.5 549.0,81.9 549.7,81.3 550.3,80.4 551.0,80.6 551.7,80.0 552.3,80.2 553.0,80.5 553.7,80.3 554.4,81.2 555.1,80.2 555.9,80.8 556.6,81.0 557.3,80.9 558.0,81.0 558.7,80.8 559.4,80.7 560.1,79.2 560.9,78.9 561.6,79.6 562.3,81.9 563.0,81.4 563.6,81.3 564.2,80.8 564.8,80.9 565.5,79.1 566.1,80.1 566.7,82.5 567.3,81.7 567.9,82.8 568.5,84.1 569.2,83.8 569.8,83.3 570.4,84.1 571.0,84.7 571.6,84.7 572.1,84.5 572.7,84.0 573.3,82.9 573.9,81.8 574.4,81.2 575.0,82.1 575.6,81.3 576.1,80.6 576.7,80.2 577.3,80.1 577.9,79.7 578.4,80.1 579.0,79.9 579.7,78.8 580.4,78.1 581.1,77.8 581.9,78.8 582.6,79.7 583.3,80.7 584.0,80.9 584.7,81.8 585.4,80.8 586.1,81.7 586.9,79.9 587.6,79.8 588.3,80.2 589.0,79.2 589.7,79.1 590.5,80.6 591.2,81.0 591.9,81.0 592.6,82.6 593.4,82.4 594.1,82.6 594.8,81.7 595.5,83.0 596.3,84.4 597.0,83.0 597.7,82.6 598.3,83.5 599.0,84.2 599.7,83.9 600.3,83.3 601.0,83.9 601.7,84.3 602.3,83.7 603.0,83.2 603.7,83.7 604.4,84.1 605.1,85.1 605.9,86.0 606.6,84.8 607.3,84.8 608.0,85.2 608.7,85.6 609.4,85.4 610.1,86.3 610.9,86.2 611.6,87.0 612.3,87.2 613.0,86.5 613.7,86.8 614.4,85.7 615.1,85.9 615.9,87.1 616.6,87.2 617.3,88.0 618.0,86.8 618.7,86.9 619.4,87.7 620.1,87.4 620.9,87.6 621.6,88.9 622.3,90.0 623.0,91.2 623.7,90.3 624.5,89.5 625.2,89.4 625.9,90.1 626.6,89.7 627.4,89.1 628.1,88.9 628.8,89.2 629.5,90.2 630.3,90.5 631.0,90.3 631.7,90.2 632.4,89.0 633.1,90.1 633.8,89.2 634.5,92.1 635.2,91.1 635.9,90.7 636.6,91.8 637.4,93.2 638.1,92.1 638.8,91.3 639.5,90.1 640.2,91.3 640.9,91.2 641.6,92.0 642.3,92.1 643.0,92.0 643.7,93.4 644.4,92.5 645.1,91.6 645.8,92.1 646.5,92.4 647.2,90.3 647.9,92.1 648.6,91.6 649.4,92.5 650.1,93.1 650.8,93.6 651.5,93.2 652.2,94.4 652.9,93.5 653.6,92.9 654.3,92.2 655.0,92.9 655.7,95.8 656.4,94.5 657.1,94.0 657.8,95.2 658.5,94.4 659.3,93.2 660.0,94.0 660.7,94.2 661.4,95.4 662.1,95.4 662.8,92.6 663.5,93.1 664.2,94.4 664.9,93.4 665.6,92.6 666.3,92.9 667.1,92.0 667.8,93.5 668.5,93.3 669.2,94.0 669.9,94.0 670.6,94.0" stroke="#268b26"/>
<path d="M418.4,188.0 418.4,187.3 418.4,186.6 418.4,185.2 418.4,184.8 418.4,185.1 418.5,184.8 418.5,184.4 418.5,182.5 418.5,180.2 418.5,180.6 418.5,178.4 418.5,179.7 418.5,177.8 418.5,177.5 418.5,178.3 418.6,177.1 418.6,177.3 418.6,176.4 418.6,174.5 418.6,173.6 418.6,172.4 418.6,171.0 418.6,170.4 418.6,169.7 418.6,170.2 418.7,170.8 418.7,169.7 418.7,169.0 418.7,168.8 418.7,166.6 418.7,165.5 418.7,167.3 418.7,167.2 418.7,165.6 418.7,163.1 418.8,163.0 418.8,162.9 418.8,160.2 418.8,159.3 418.8,159.7 418.8,160.0 418.8,159.5 418.8,157.3 418.8,157.4 418.8,157.8 418.9,157.0 418.9,155.6 418.9,154.2 418.9,152.8 418.9,153.3 418.9,152.2 418.9,151.1 418.9,148.9 418.9,149.5 418.9,150.9 419.0,150.1 419.0,148.0 419.0,147.3 419.0,146.9 419.0,146.1 419.0,146.0 419.0,145.3 419.0,143.4 419.0,141.9 419.0,142.0 419.1,143.6 419.1,142.7 419.1,140.7 419.1,141.1 419.1,140.5 419.1,138.6 419.1,137.3 419.1,137.3 419.1,135.2 419.1,134.7 419.2,135.7 419.2,135.9 419.2,133.9 419.2,133.1 419.2,130.7 419.2,130.2 419.3,130.0 419.4,129.1 419.6,128.9 419.7,127.4 419.8,126.9 419.9,126.5 420.0,125.9 420.2,125.7 420.3,124.1 420.4,124.1 420.5,122.2 420.6,122.0 420.8,121.1 420.9,120.7 421.0,119.7 421.3,117.5 421.7,118.5 422.0,119.1 422.3,117.3 422.7,116.4 423.0,114.3 423.3,114.4 423.7,114.6 424.0,114.2 424.3,113.7 424.7,112.5 425.0,110.8 425.3,112.2 425.7,110.2 426.0,109.9 426.4,109.5 426.9,109.2 427.3,108.4 427.7,108.2 428.1,106.6 428.6,106.7 429.0,106.3 429.4,105.6 429.9,103.3 430.3,102.6 430.7,101.6 431.1,102.9 431.6,102.9 432.0,102.7 432.7,102.5 433.3,102.2 434.0,100.9 434.7,100.2 435.3,101.0 436.0,100.8 436.7,100.3 437.3,100.3 438.0,99.3 438.5,100.0 439.1,99.6 439.6,99.2 440.1,100.0 440.7,98.3 441.2,96.9 441.7,95.9 442.3,95.5 442.8,96.4 443.3,96.3 443.9,95.4 444.4,95.7 444.9,95.9 445.5,94.3 446.0,94.0 446.7,92.9 447.5,92.4 448.2,94.3 448.9,94.9 449.6,94.6 450.4,94.4 451.1,93.4 451.8,95.0 452.5,95.3 453.3,94.9 454.0,94.9 454.6,94.8 455.3,95.1 455.9,96.3 456.5,97.7 457.2,99.1 457.8,96.9 458.4,97.5 459.1,96.7 459.7,97.0 460.3,97.7 460.9,98.8 461.6,98.5 462.2,98.8 462.8,99.7 463.5,99.2 464.1,98.7 464.7,99.4 465.4,100.0 466.0,101.0 466.5,99.6 467.1,99.9 467.6,98.5 468.1,99.0 468.7,98.5 469.2,98.7 469.7,99.5 470.3,98.2 470.8,96.7 471.3,96.3 471.9,94.8 472.4,95.0 472.9,95.0 473.5,95.1 474.0,94.4 474.6,93.3 475.1,92.6 475.7,94.3 476.3,93.1 476.9,91.8 477.4,91.6 478.0,91.4 478.4,93.3 478.9,91.5 479.3,92.3 479.7,93.4 480.1,94.3 480.6,95.0 481.0,95.7 481.4,96.4 481.9,97.6 482.3,96.8 482.7,98.5 483.1,98.8 483.6,98.0 484.0,99.1 484.7,98.5 485.3,97.7 486.0,97.7 486.7,96.6 487.3,96.1 488.0,97.2 488.7,96.0 489.3,95.8 490.0,96.0 490.6,94.7 491.1,94.4 491.7,94.3 492.3,95.1 492.9,94.4 493.4,93.7 494.0,93.3 494.6,93.2 495.1,92.6 495.7,93.1 496.3,91.1 496.9,91.2 497.4,90.5 498.0,89.5 498.7,91.9 499.3,91.7 500.0,91.1 500.7,90.8 501.3,90.7 502.0,92.2 502.7,92.8 503.3,92.9 504.0,93.8 504.4,92.5 504.8,92.7 505.2,92.4 505.6,91.6 506.0,90.4 506.4,89.5 506.8,87.5 507.2,88.1 507.6,89.2 508.0,87.8 508.4,85.9 508.8,84.7 509.2,84.4 509.6,85.4 510.0,84.6 510.7,84.1 511.5,85.1 512.2,85.1 512.9,84.3 513.6,83.6 514.4,83.2 515.1,84.0 515.8,82.4 516.5,82.0 517.3,82.1 518.0,82.2 518.7,83.3 519.3,84.4 520.0,84.4 520.7,83.4 521.3,84.2 522.0,84.8 522.7,85.3 523.3,86.1 524.0,87.3 524.7,87.7 525.3,85.5 526.0,86.0 526.6,88.7 527.1,89.0 527.7,90.2 528.3,88.6 528.9,87.9 529.4,90.0 530.0,90.2 530.7,90.0 531.3,89.8 532.0,89.1 532.7,88.0 533.3,87.6 534.0,85.9 534.7,87.0 535.3,88.1 536.0,88.0 536.7,87.9 537.3,86.7 538.0,86.3 538.7,85.3 539.4,85.7 540.1,86.2 540.9,85.4 541.6,85.8 542.3,86.2 543.0,86.9 543.7,85.9 544.5,85.7 545.2,86.3 545.9,87.0 546.6,86.6 547.4,86.3 548.1,86.6 548.8,86.2 549.5,85.1 550.3,84.7 551.0,83.6 551.7,84.2 552.3,85.2 553.0,83.9 553.7,82.8 554.3,83.4 555.0,82.9 555.7,81.5 556.3,82.9 557.0,82.3 557.7,82.3 558.3,80.9 559.0,80.5 559.7,80.4 560.5,79.0 561.2,79.4 561.9,79.2 562.6,78.7 563.4,78.6 564.1,77.9 564.8,78.1 565.5,78.1 566.3,77.8 567.0,77.6 567.7,78.0 568.5,78.5 569.2,79.5 569.9,79.0 570.6,80.0 571.4,80.8 572.1,79.1 572.8,78.7 573.5,79.7 574.3,79.9 575.0,80.2 575.6,80.5 576.1,80.2 576.7,81.5 577.3,81.0 577.9,81.0 578.4,81.0 579.0,82.6 579.6,83.1 580.1,82.2 580.7,83.6 581.3,83.8 581.9,85.5 582.4,87.1 583.0,85.6 583.7,85.6 584.3,86.7 585.0,87.8 585.7,87.5 586.3,85.8 587.0,86.9 587.7,87.1 588.3,88.6 589.0,88.8 589.7,88.1 590.3,89.4 591.0,90.3 591.7,90.5 592.3,90.1 593.0,90.3 593.7,90.2 594.3,90.6 595.0,89.7 595.7,90.3 596.3,90.0 597.0,90.5 597.7,91.9 598.3,92.8 599.0,91.7 599.7,92.6 600.3,93.5 601.0,92.4 601.7,92.0 602.3,92.9 603.0,92.9 603.7,93.7 604.3,94.8 605.0,96.2 605.7,94.7 606.3,96.5 607.0,94.9 607.7,95.3 608.5,94.8 609.2,94.9 609.9,95.6 610.6,95.8 611.4,97.4 612.1,96.0 612.8,95.6 613.5,95.3 614.3,94.3 615.0,95.5 615.7,93.9 616.4,93.1 617.1,95.1 617.8,95.7 618.5,96.7 619.2,97.4 619.9,97.0 620.6,96.2 621.4,95.5 622.1,94.9 622.8,95.4 623.5,94.7 624.2,95.5 624.9,94.5 625.6,95.3 626.3,94.8 627.0,94.3 627.7,94.7 628.4,95.7 629.1,96.3 629.9,96.6 630.6,96.6 631.3,97.3 632.0,95.0 632.7,95.0 633.4,96.0 634.1,95.5 634.9,94.7 635.6,95.3 636.3,96.0 637.0,96.3 637.7,97.9 638.4,97.3 639.1,96.6 639.9,96.5 640.6,96.5 641.3,97.5 642.0,97.5 642.7,95.9 643.4,96.9 644.1,96.0 644.9,96.7 645.6,97.9 646.3,96.5 647.0,96.3 647.7,96.3 648.4,96.6 649.1,96.5 649.8,97.0 650.5,95.9 651.2,96.7 651.9,96.6 652.6,98.4 653.4,96.9 654.1,96.7 654.8,97.1 655.5,96.9 656.2,98.5 656.9,98.1 657.6,97.9 658.3,98.3 659.0,98.0 659.7,97.1 660.5,95.8 661.2,97.8 661.9,98.8 662.6,98.3 663.4,98.5 664.1,98.6 664.8,96.9 665.5,97.4 666.2,98.3 667.0,97.2 667.7,98.1 668.4,97.3 669.1,98.0 669.9,98.0 670.6,98.0" stroke="#ff4500"/>
<path d="M418.4,188.0 418.4,187.3 418.4,186.6 418.4,185.4 418.4,183.2 418.4,182.8 418.4,183.9 418.4,183.7 418.4,182.8 418.4,182.0 418.4,181.6 418.5,179.2 418.5,178.9 418.5,179.4 418.5,179.0 418.5,178.0 418.5,177.9 418.5,176.3 418.5,175.0 418.5,174.1 418.5,171.4 418.5,171.8 418.5,171.7 418.5,172.2 418.5,170.6 418.5,170.4 418.5,169.3 418.5,169.3 418.5,168.8 418.5,167.8 418.5,166.9 418.6,166.9 418.6,165.7 418.6,164.6 418.6,162.7 418.6,161.9 418.6,163.2 418.6,162.7 418.6,161.3 418.6,158.7 418.6,159.2 418.6,158.3 418.6,158.6 418.6,158.1 418.6,157.0 418.6,155.7 418.6,155.1 418.6,156.0 418.6,155.2 418.6,153.9 418.6,153.4 418.7,151.8 418.7,150.3 418.7,149.2 418.7,148.3 418.7,148.2 418.7,149.0 418.7,147.1 418.7,146.8 418.7,146.4 418.7,145.1 418.7,145.9 418.7,144.9 418.7,144.0 418.7,142.8 418.7,143.4 418.7,142.4 418.7,139.1 418.7,139.6 418.7,138.9 418.7,138.9 418.8,136.9 418.8,135.4 418.8,136.4 418.8,135.6 418.8,134.0 418.8,134.0 418.8,133.9 418.8,133.3 418.8,132.9 418.8,131.3 418.8,130.0 419.2,129.6 419.6,129.8 420.0,128.6 420.4,128.4 420.8,128.7 421.2,126.8 421.6,128.0 422.0,127.7 422.4,127.0 422.8,125.3 423.2,125.6 423.6,124.2 424.0,124.3 424.4,122.5 424.8,122.5 425.2,120.5 425.6,118.9 426.0,120.0 426.4,118.5 426.9,116.9 427.3,117.1 427.8,118.2 428.2,118.8 428.7,117.9 429.1,117.0 429.6,115.9 430.0,116.0 430.4,115.7 430.9,115.7 431.3,114.7 431.8,113.7 432.2,113.7 432.7,113.6 433.1,112.3 433.6,110.5 434.0,110.4 434.6,110.1 435.2,110.0 435.8,110.6 436.4,108.6 437.0,108.3 437.6,108.0 438.2,108.9 438.8,107.6 439.4,105.9 440.0,105.8 440.6,105.6 441.2,105.8 441.8,105.0 442.4,105.8 443.0,105.2 443.6,104.0 444.2,103.4 444.8,102.2 445.4,103.4 446.0,102.1 446.7,101.5 447.3,102.7 448.0,103.1 448.7,102.3 449.3,101.6 450.0,103.5 450.7,103.9 451.3,102.9 452.0,104.4 452.7,104.4 453.3,103.7 454.0,105.4 454.7,105.5 455.3,106.3 456.0,105.0 456.7,105.2 457.3,106.3 458.0,105.5 458.6,104.7 459.3,107.3 459.9,106.9 460.5,106.6 461.2,107.8 461.8,107.6 462.4,108.3 463.1,107.4 463.7,108.2 464.3,109.5 464.9,110.7 465.6,111.1 466.2,111.1 466.8,109.8 467.5,110.2 468.1,111.6 468.7,111.7 469.4,111.9 470.0,111.7 470.7,111.7 471.3,112.0 472.0,111.9 472.7,112.7 473.3,113.8 474.0,113.7 474.7,113.0 475.3,113.0 476.0,112.6 476.7,114.1 477.3,114.8 478.0,115.2 478.7,115.5 479.3,116.5 480.0,117.6 480.7,116.5 481.3,117.9 482.0,117.2 482.7,117.6 483.3,116.3 484.0,115.6 484.7,116.0 485.3,115.6 486.0,116.1 486.7,115.7 487.3,116.2 488.0,114.3 488.7,113.9 489.3,115.1 490.0,115.4 490.4,113.6 490.9,113.9 491.3,112.6 491.7,112.1 492.1,110.6 492.6,110.3 493.0,109.9 493.4,108.7 493.9,107.7 494.3,107.6 494.7,107.7 495.1,106.8 495.6,106.0 496.0,107.1 496.6,106.3 497.2,104.5 497.8,103.1 498.4,103.9 499.0,104.1 499.6,103.0 500.2,103.2 500.8,102.0 501.4,102.0 502.0,100.4 502.6,103.3 503.1,103.2 503.7,103.5 504.3,103.3 504.9,102.2 505.4,103.2 506.0,105.6 506.6,106.1 507.1,107.7 507.7,108.4 508.3,107.8 508.9,107.0 509.4,107.5 510.0,109.2 510.4,109.1 510.8,109.3 511.2,110.3 511.6,110.4 512.0,111.2 512.4,111.0 512.8,111.7 513.2,112.6 513.6,112.4 514.0,115.3 514.4,115.9 514.8,114.7 515.2,115.4 515.6,115.0 516.0,114.8 516.4,117.5 516.8,119.5 517.2,118.7 517.6,120.5 518.0,120.2 518.7,119.6 519.3,120.6 520.0,121.6 520.7,121.4 521.3,122.4 522.0,121.7 522.7,122.8 523.3,125.3 524.0,123.4 524.7,122.8 525.4,124.4 526.1,124.5 526.9,122.6 527.6,121.4 528.3,121.7 529.0,121.8 529.7,122.8 530.4,121.3 531.1,121.1 531.9,121.4 532.6,119.3 533.3,119.7 534.0,119.4 534.7,119.8 535.4,119.4 536.1,120.0 536.8,120.8 537.5,119.9 538.2,120.0 538.8,119.7 539.5,117.0 540.2,116.0 540.9,116.1 541.6,116.4 542.3,118.0 543.0,116.4 543.7,117.8 544.3,118.9 545.0,119.0 545.7,118.3 546.3,117.4 547.0,117.0 547.7,116.4 548.3,117.2 549.0,118.2 549.7,119.5 550.3,118.4 551.0,117.1 551.6,118.8 552.2,122.4 552.8,123.0 553.3,121.7 553.9,122.3 554.5,122.3 555.1,123.1 555.7,122.3 556.2,122.7 556.8,124.5 557.4,124.2 558.0,124.7 558.6,122.9 559.2,124.4 559.8,123.5 560.3,122.5 560.9,121.8 561.5,122.2 562.1,121.6 562.7,123.0 563.2,120.0 563.8,119.1 564.4,118.8 565.0,119.7 565.8,118.3 566.5,118.7 567.2,120.1 568.0,121.9 568.8,121.1 569.5,120.2 570.2,120.3 571.0,121.6 571.7,120.2 572.3,121.4 573.0,122.5 573.7,120.9 574.3,121.8 575.0,122.5 575.7,123.1 576.3,122.4 577.0,121.9 577.7,123.4 578.3,123.7 579.0,122.7 579.7,123.1 580.3,122.6 581.0,124.5 581.7,124.8 582.3,125.4 583.0,124.3 583.5,126.0 584.0,126.8 584.7,126.8 585.4,126.1 586.1,126.6 586.9,126.8 587.6,127.3 588.3,127.9 589.0,128.4 589.7,127.4 590.4,127.3 591.1,126.8 591.9,127.4 592.6,129.7 593.3,128.0 594.0,128.7 594.7,129.0 595.4,127.7 596.1,127.9 596.9,130.0 597.6,129.1 598.3,128.7 599.0,128.6 599.7,129.0 600.4,128.9 601.1,128.2 601.9,127.4 602.6,127.8 603.3,127.2 604.0,129.2 604.7,130.5 605.4,129.4 606.1,130.2 606.9,129.3 607.6,129.4 608.3,131.2 609.0,131.2 609.7,129.2 610.4,130.7 611.1,131.1 611.9,130.6 612.6,130.6 613.3,130.6 614.0,130.6 614.7,131.3 615.4,131.4 616.1,132.3 616.9,131.4 617.6,132.1 618.3,132.8 619.0,132.1 619.7,130.0 620.4,130.8 621.1,131.3 621.9,131.6 622.6,131.1 623.3,130.7 624.0,130.0 624.7,129.2 625.4,129.5 626.2,130.2 626.9,132.7 627.6,131.8 628.3,131.5 629.1,131.3 629.8,131.5 630.5,132.5 631.2,132.6 631.9,132.5 632.7,133.1 633.4,133.1 634.1,133.3 634.8,133.4 635.6,132.9 636.3,134.6 637.0,132.4 637.8,132.6 638.5,132.6 639.2,132.9 640.0,131.1 640.8,132.9 641.5,131.9 642.2,131.6 643.0,132.0 643.7,131.6 644.4,133.3 645.1,133.8 645.8,134.3 646.5,134.9 647.2,134.5 647.9,133.3 648.6,131.8 649.4,132.6 650.1,132.4 650.8,133.3 651.5,133.7 652.2,133.0 652.9,134.0 653.6,133.7 654.3,131.6 655.0,132.3 655.7,133.1 656.5,133.7 657.2,132.5 657.9,132.3 658.6,132.2 659.4,133.7 660.1,133.8 660.8,132.7 661.5,133.2 662.3,132.5 663.0,134.2 663.8,134.4 664.5,133.5 665.3,134.1 666.0,133.5 666.8,133.8 667.6,135.3 668.3,134.1 669.1,134.4 669.8,134.5 670.6,134.6" stroke="#6a98ee"/>
<path d="M418.4,188.0 418.4,187.3 418.5,186.6 418.5,184.0 418.5,186.2 418.6,185.9 418.6,184.1 418.6,182.9 418.6,182.2 418.7,181.3 418.7,180.2 418.7,179.3 418.8,179.0 418.8,178.6 418.8,177.5 418.9,177.0 418.9,176.4 418.9,176.2 419.0,176.3 419.0,175.2 419.0,173.1 419.0,174.4 419.1,171.7 419.1,171.5 419.1,170.9 419.2,169.2 419.2,170.4 419.2,168.8 419.3,168.4 419.3,167.5 419.3,166.1 419.4,165.5 419.4,164.9 419.4,164.0 419.4,164.2 419.5,163.3 419.5,163.1 419.5,163.8 419.6,160.3 419.6,160.8 419.6,160.9 419.7,159.8 419.7,158.7 419.7,158.1 419.8,157.6 419.8,156.4 419.8,156.1 419.8,156.0 419.9,154.7 419.9,152.5 419.9,152.9 420.0,151.6 420.0,149.9 420.2,151.3 420.4,149.4 420.6,148.6 420.8,148.4 421.0,148.4 421.2,144.9 421.4,146.3 421.7,146.2 421.9,145.6 422.1,144.9 422.3,144.4 422.5,143.7 422.7,144.0 422.9,142.5 423.1,140.7 423.3,139.4 423.5,139.6 423.7,138.0 423.9,137.3 424.1,140.4 424.3,138.7 424.6,137.3 424.8,135.2 425.0,134.0 425.2,133.6 425.4,133.1 425.6,133.4 425.8,133.3 426.0,131.5 426.5,129.9 427.0,129.7 427.5,130.7 428.0,127.4 428.5,127.2 429.0,127.6 429.5,126.6 430.0,125.9 430.6,125.9 431.1,125.6 431.7,124.1 432.3,124.0 432.9,124.8 433.4,125.1 434.0,124.4 434.6,122.5 435.3,122.2 435.9,123.0 436.5,122.3 437.2,123.0 437.8,122.1 438.4,122.0 439.1,120.2 439.7,119.9 440.3,120.1 440.9,120.2 441.6,120.1 442.2,120.7 442.8,120.7 443.5,120.6 444.1,118.9 444.7,118.4 445.4,118.7 446.0,118.4 446.7,117.9 447.5,117.0 448.2,118.0 448.9,117.8 449.6,117.8 450.4,117.9 451.1,117.6 451.8,117.1 452.5,117.4 453.3,117.7 454.0,116.5 454.7,117.7 455.4,117.1 456.1,118.2 456.8,118.2 457.5,119.3 458.2,119.4 458.9,118.5 459.6,116.7 460.4,118.4 461.1,119.4 461.8,120.3 462.5,118.3 463.2,119.3 463.9,120.0 464.6,120.3 465.3,121.2 466.0,119.4 466.7,120.9 467.4,119.0 468.1,119.4 468.9,120.7 469.6,121.5 470.3,121.8 471.0,122.2 471.7,121.2 472.4,121.6 473.1,121.3 473.9,122.0 474.6,123.4 475.3,124.0 476.0,123.1 476.7,123.5 477.4,123.3 478.1,123.5 478.9,122.3 479.6,124.0 480.3,123.6 481.0,122.2 481.7,123.7 482.4,123.4 483.1,124.7 483.9,126.1 484.6,124.3 485.3,124.2 486.0,124.4 486.7,124.8 487.4,125.2 488.1,124.0 488.8,125.2 489.5,125.5 490.2,123.2 490.9,124.5 491.6,124.8 492.4,123.1 493.1,121.0 493.8,122.7 494.5,124.9 495.2,124.2 495.9,125.0 496.6,124.1 497.3,123.9 498.0,124.2 498.7,125.2 499.4,124.3 500.1,124.2 500.8,123.7 501.5,125.1 502.2,124.8 502.9,124.8 503.6,124.1 504.4,123.4 505.1,123.6 505.8,124.5 506.5,124.8 507.2,124.0 507.9,123.7 508.6,124.5 509.3,125.3 510.0,126.0 510.7,124.7 511.5,123.9 512.2,125.7 512.9,125.1 513.6,125.4 514.4,125.8 515.1,125.6 515.8,123.8 516.5,125.2 517.3,124.7 518.0,123.8 518.5,123.6 519.0,125.0 519.5,126.2 520.0,125.9 520.5,126.1 521.0,126.6 521.5,128.0 522.0,128.5 522.7,129.6 523.3,130.0 524.0,129.7 524.7,129.6 525.3,129.7 526.0,129.8 526.7,130.6 527.3,130.6 528.0,131.7 528.7,130.7 529.3,132.3 530.0,131.9 530.6,132.4 531.1,131.8 531.7,132.2 532.3,134.1 532.9,134.2 533.4,133.0 534.0,133.7 534.6,136.1 535.1,136.8 535.7,135.9 536.3,136.4 536.9,136.8 537.4,137.0 538.0,138.0 538.7,137.3 539.4,137.4 540.1,137.5 540.9,138.1 541.6,138.3 542.3,137.3 543.0,139.4 543.7,140.1 544.4,140.1 545.1,138.8 545.9,138.9 546.6,140.0 547.3,138.6 548.0,139.2 548.7,139.3 549.5,140.3 550.2,141.0 550.9,142.4 551.6,140.4 552.4,141.3 553.1,142.5 553.8,143.0 554.5,142.2 555.3,141.6 556.0,141.1 556.7,140.5 557.4,141.0 558.1,142.1 558.9,143.0 559.6,144.2 560.3,145.1 561.0,143.7 561.7,142.6 562.4,143.0 563.1,143.0 563.9,144.4 564.6,144.4 565.3,144.5 566.0,145.1 566.7,143.3 567.4,144.2 568.1,143.3 568.9,145.1 569.6,145.0 570.3,145.7 571.0,144.6 571.7,144.7 572.4,144.6 573.1,146.6 573.9,145.4 574.6,146.5 575.3,147.7 576.0,146.1 576.7,145.6 577.4,145.6 578.1,145.9 578.9,146.3 579.6,146.1 580.3,147.0 581.0,147.6 581.7,147.1 582.4,146.9 583.1,147.1 583.9,147.2 584.6,146.3 585.3,145.6 586.0,145.3 586.7,147.0 587.4,148.0 588.1,146.1 588.8,146.3 589.5,146.2 590.2,146.1 590.9,147.3 591.6,147.7 592.3,147.8 593.0,147.6 593.7,147.2 594.4,147.6 595.1,147.9 595.8,147.9 596.5,147.8 597.2,148.6 597.9,148.6 598.6,148.6 599.3,148.0 600.0,149.8 600.7,148.9 601.4,149.1 602.1,148.1 602.8,149.0 603.5,148.5 604.2,150.1 604.9,150.3 605.6,150.6 606.3,150.3 607.0,148.8 607.7,150.8 608.4,148.6 609.1,149.7 609.8,150.6 610.5,151.0 611.2,150.5 611.9,149.7 612.6,150.3 613.3,149.9 614.0,150.3 614.7,151.1 615.4,152.4 616.1,150.8 616.9,150.1 617.6,150.9 618.3,150.5 619.0,151.0 619.7,151.8 620.4,152.0 621.1,152.6 621.9,152.8 622.6,152.1 623.3,151.2 624.0,151.4 624.7,153.3 625.4,153.7 626.1,150.8 626.8,152.2 627.5,150.6 628.2,150.0 628.9,150.8 629.6,150.4 630.3,152.8 631.0,152.5 631.7,149.4 632.4,150.2 633.1,150.8 633.8,150.9 634.5,150.8 635.2,150.7 635.9,149.8 636.6,150.5 637.4,150.4 638.1,150.7 638.8,150.2 639.5,152.0 640.2,152.5 640.9,152.3 641.6,151.3 642.3,152.0 643.0,150.9 643.7,150.9 644.4,152.2 645.1,152.0 645.8,151.5 646.5,152.6 647.2,151.5 647.9,151.8 648.6,151.9 649.4,151.2 650.1,152.3 650.8,152.7 651.5,151.8 652.2,152.2 652.9,152.2 653.6,153.1 654.3,151.9 655.0,151.7 655.7,152.0 656.4,151.3 657.1,150.9 657.8,150.9 658.5,151.5 659.3,152.0 660.0,151.6 660.7,151.3 661.4,152.0 662.1,151.9 662.8,152.6 663.5,151.9 664.2,151.1 664.9,152.0 665.6,151.8 666.3,152.3 667.1,151.8 667.8,151.1 668.5,152.0 669.2,152.0 669.9,152.0 670.6,152.0" stroke="#4deb4d"/>
<path d="M418.4,188.0 418.4,187.3 418.4,186.6 418.4,184.1 418.4,184.7 418.5,185.3 418.5,184.2 418.5,183.3 418.5,181.4 418.5,181.1 418.5,178.6 418.5,178.8 418.5,178.6 418.6,178.4 418.6,179.0 418.6,176.7 418.6,175.8 418.6,174.7 418.6,174.8 418.6,175.2 418.6,175.5 418.7,175.2 418.7,175.2 418.7,172.6 418.7,171.5 418.7,171.5 418.7,169.2 418.7,168.5 418.7,168.2 418.7,167.8 418.8,167.3 418.8,167.2 418.8,166.7 418.8,164.9 418.8,162.8 418.8,162.6 418.8,163.5 418.8,161.2 418.9,161.5 418.9,161.6 418.9,162.2 418.9,159.3 418.9,157.8 418.9,157.6 418.9,157.8 418.9,156.7 419.0,154.2 419.0,155.3 419.0,155.8 419.0,154.2 419.0,152.7 419.2,151.8 419.4,150.5 419.5,150.8 419.7,150.1 419.9,151.2 420.1,149.3 420.2,149.1 420.4,148.6 420.6,147.1 420.8,147.3 420.9,146.3 421.1,144.7 421.3,141.6 421.5,142.4 421.6,142.1 421.8,142.2 422.0,142.2 422.6,140.1 423.1,139.6 423.7,140.6 424.3,141.0 424.9,139.0 425.4,138.3 426.0,139.3 426.7,138.9 427.3,138.4 428.0,138.7 428.7,138.9 429.3,140.5 430.0,140.8 430.7,141.0 431.3,141.3 432.0,141.3 432.7,141.5 433.3,142.3 434.0,142.3 434.7,143.0 435.3,141.3 436.0,140.8 436.7,140.9 437.3,143.3 438.0,141.5 438.7,139.5 439.3,140.7 440.0,141.8 440.7,138.8 441.3,138.0 442.0,138.0 442.7,138.1 443.3,138.3 444.0,137.5 444.7,136.2 445.3,137.4 446.0,137.0 446.7,137.4 447.4,138.3 448.1,138.9 448.9,138.6 449.6,138.2 450.3,136.8 451.0,136.8 451.7,135.7 452.4,136.9 453.1,137.9 453.9,137.3 454.6,137.7 455.3,138.2 456.0,138.4 456.7,137.3 457.4,136.9 458.1,136.1 458.9,135.5 459.6,136.8 460.3,135.5 461.0,135.6 461.7,134.4 462.4,135.9 463.1,134.6 463.9,134.4 464.6,133.4 465.3,134.0 466.0,134.0 466.7,134.6 467.3,135.2 468.0,135.8 468.7,134.7 469.3,135.6 470.0,136.8 470.7,136.7 471.3,135.9 472.0,137.8 472.7,136.9 473.3,137.6 474.0,138.7 474.6,138.5 475.2,139.7 475.8,139.1 476.5,139.1 477.1,140.0 477.7,140.7 478.3,140.6 478.9,141.4 479.5,141.8 480.2,142.6 480.8,141.0 481.4,141.2 482.0,143.2 482.7,143.3 483.3,142.6 484.0,142.2 484.7,142.6 485.3,141.9 486.0,141.6 486.7,140.3 487.3,139.7 488.0,140.2 488.7,140.8 489.3,141.2 490.0,140.1 490.7,139.5 491.5,138.2 492.2,139.5 492.9,140.3 493.6,139.5 494.4,140.4 495.1,139.3 495.8,140.8 496.5,139.1 497.3,139.6 498.0,139.1 498.6,139.2 499.2,139.1 499.8,140.5 500.5,141.3 501.1,141.2 501.7,140.1 502.3,142.1 502.9,141.2 503.5,143.4 504.2,144.1 504.8,143.3 505.4,143.0 506.0,145.5 506.7,144.9 507.5,144.7 508.2,144.2 508.9,145.2 509.6,147.1 510.4,147.3 511.1,146.7 511.8,146.4 512.5,147.3 513.3,147.0 514.0,146.0 514.7,145.2 515.3,144.2 516.0,144.2 516.7,143.2 517.3,145.1 518.0,143.9 518.7,144.9 519.3,144.5 520.0,145.6 520.7,144.1 521.3,143.0 522.0,143.3 522.7,142.4 523.3,142.0 524.0,143.1 524.7,142.6 525.3,141.2 526.0,141.0 526.0,141.5 526.7,141.7 527.5,141.5 528.2,141.3 528.9,141.4 529.6,141.1 530.4,140.3 531.1,142.2 531.8,142.1 532.5,142.3 533.3,142.6 534.0,142.8 534.7,142.4 535.3,143.9 536.0,144.9 536.7,144.7 537.3,144.1 538.0,144.2 538.7,143.6 539.3,142.7 540.0,144.7 540.7,144.9 541.5,145.9 542.2,145.3 542.9,146.8 543.6,147.0 544.4,146.0 545.1,145.9 545.8,146.5 546.5,147.2 547.3,145.4 548.0,145.4 548.7,146.3 549.5,146.5 550.2,146.4 550.9,148.1 551.6,147.5 552.4,148.5 553.1,146.9 553.8,146.2 554.5,147.8 555.3,148.0 556.0,147.8 556.7,147.5 557.4,148.8 558.1,148.9 558.9,148.1 559.6,148.0 560.3,150.3 561.0,149.5 561.7,149.5 562.4,150.4 563.1,149.0 563.9,151.1 564.6,149.9 565.3,152.5 566.0,151.2 566.7,148.7 567.4,149.8 568.1,149.3 568.9,151.0 569.6,152.2 570.3,152.0 571.0,152.3 571.7,152.7 572.4,154.3 573.1,153.9 573.9,152.9 574.6,152.3 575.3,152.5 576.0,154.0 576.7,153.4 577.4,152.3 578.1,154.5 578.9,155.6 579.6,153.8 580.3,153.3 581.0,153.6 581.7,153.5 582.4,154.1 583.1,156.0 583.9,157.1 584.6,157.0 585.3,154.9 586.0,152.5 586.7,153.8 587.4,154.9 588.1,155.4 588.8,156.2 589.5,156.6 590.2,154.7 590.9,155.1 591.6,155.5 592.3,157.8 593.0,158.4 593.7,157.2 594.4,156.5 595.1,157.1 595.8,157.3 596.5,158.4 597.2,158.1 597.9,158.0 598.6,158.0 599.3,158.4 600.0,158.9 600.7,160.7 601.4,159.1 602.1,158.8 602.8,157.8 603.5,159.3 604.2,160.1 604.9,160.0 605.6,159.3 606.3,157.5 607.0,157.2 607.7,158.9 608.4,159.2 609.1,161.1 609.8,161.2 610.5,161.1 611.2,160.7 611.9,159.6 612.6,160.1 613.3,161.8 614.0,161.6 614.7,161.2 615.4,160.6 616.1,162.3 616.9,161.9 617.6,161.6 618.3,159.9 619.0,160.5 619.7,161.8 620.5,162.9 621.2,163.0 621.9,163.3 622.6,161.4 623.4,161.4 624.1,163.8 624.8,164.7 625.5,164.2 626.3,162.1 627.0,162.5 627.7,163.3 628.5,162.3 629.2,162.1 629.9,162.9 630.6,163.5 631.4,163.3 632.1,163.0 632.8,163.1 633.5,163.2 634.3,162.6 635.0,164.8 635.7,163.2 636.5,164.3 637.2,163.4 637.9,165.6 638.6,165.5 639.4,164.5 640.1,164.4 640.8,164.3 641.5,165.1 642.3,166.9 643.0,165.2 643.7,164.9 644.4,166.0 645.1,166.5 645.8,165.9 646.5,164.8 647.2,165.2 647.9,166.3 648.6,166.0 649.4,166.1 650.1,166.8 650.8,165.4 651.5,165.7 652.2,165.4 652.9,164.6 653.6,165.9 654.3,165.8 655.0,167.0 655.7,167.6 656.5,168.0 657.2,167.9 657.9,168.0 658.6,167.3 659.4,167.1 660.1,168.4 660.8,168.6 661.5,169.0 662.3,168.2 663.0,170.5 663.7,171.1 664.4,171.7 665.1,169.7 665.8,169.0 666.5,170.3 667.1,169.8 667.8,169.0 668.5,171.1 669.2,170.6 669.9,170.8 670.6,171.0" stroke="#ee8a2c"/>
<line x1="418.4" y1="155.2" x2="670.3" y2="155.2" stroke="#222" stroke-width="1.6" stroke-dasharray="3.95,2.2"/>
</g>
<path d="M521.60,120.10 L520.05,124.87 L515.04,124.87 L519.09,127.81 L517.54,132.58 L521.60,129.64 L525.66,132.58 L524.11,127.81 L528.16,124.87 L523.15,124.87Z" fill="#4deb4d" stroke="#1f7a1f" stroke-width="1" stroke-linejoin="miter"/>
<path d="M538.00,137.10 L536.45,141.87 L531.44,141.87 L535.49,144.81 L533.94,149.58 L538.00,146.64 L542.06,149.58 L540.51,144.81 L544.56,141.87 L539.55,141.87Z" fill="#ee8a2c" stroke="#8a4a12" stroke-width="1" stroke-linejoin="miter"/>
<path d="M570.00,113.10 L568.45,117.87 L563.44,117.87 L567.49,120.81 L565.94,125.58 L570.00,122.64 L574.06,125.58 L572.51,120.81 L576.56,117.87 L571.55,117.87Z" fill="#6a98ee" stroke="#2f4f9a" stroke-width="1" stroke-linejoin="miter"/>
<path d="M568.00,71.10 L566.45,75.87 L561.44,75.87 L565.49,78.81 L563.94,83.58 L568.00,80.64 L572.06,83.58 L570.51,78.81 L574.56,75.87 L569.55,75.87Z" fill="#ff4500" stroke="#b5231a" stroke-width="1" stroke-linejoin="miter"/>
<path d="M594.60,77.10 L593.05,81.87 L588.04,81.87 L592.09,84.81 L590.54,89.58 L594.60,86.64 L598.66,89.58 L597.11,84.81 L601.16,81.87 L596.15,81.87Z" fill="#268b26" stroke="#0d3d0d" stroke-width="1" stroke-linejoin="miter"/>
<line x1="530.4" y1="121" x2="530.4" y2="131" stroke="#1f7a1f" stroke-width="1.15"/>
<path d="M528.5,127.8 L530.4,129.4 L532.3,127.8 L530.4,133 Z" fill="#1f7a1f" stroke="#1f7a1f" stroke-width="0.6" stroke-linejoin="round"/>
<line x1="547.4" y1="138" x2="547.4" y2="148" stroke="#8a4a12" stroke-width="1.15"/>
<path d="M545.5,144.8 L547.4,146.4 L549.3,144.8 L547.4,150 Z" fill="#8a4a12" stroke="#8a4a12" stroke-width="0.6" stroke-linejoin="round"/>
<line x1="579.4" y1="114" x2="579.4" y2="124" stroke="#2f4f9a" stroke-width="1.15"/>
<path d="M577.5,120.8 L579.4,122.4 L581.3,120.8 L579.4,126 Z" fill="#2f4f9a" stroke="#2f4f9a" stroke-width="0.6" stroke-linejoin="round"/>
<line x1="577" y1="72" x2="577" y2="82" stroke="#b5231a" stroke-width="1.15"/>
<path d="M575.1,78.8 L577,80.4 L578.9,78.8 L577,84 Z" fill="#b5231a" stroke="#b5231a" stroke-width="0.6" stroke-linejoin="round"/>
<line x1="603.4" y1="78" x2="603.4" y2="89" stroke="#0d3d0d" stroke-width="1.15"/>
<path d="M601.5,85.8 L603.4,87.4 L605.3,85.8 L603.4,91 Z" fill="#0d3d0d" stroke="#0d3d0d" stroke-width="0.6" stroke-linejoin="round"/>
<text transform="translate(628.20,88.90) scale(0.9822,1)" font-family="Liberation Serif" font-size="8.40" font-weight="bold" text-anchor="start" fill="#111" stroke="#111" stroke-width="0.25" xml:space="preserve">Divergence</text>
<text transform="translate(628.20,105.90) scale(0.9822,1)" font-family="Liberation Serif" font-size="8.40" font-weight="bold" text-anchor="start" fill="#111" stroke="#111" stroke-width="0.25" xml:space="preserve">Divergence</text>
<text transform="translate(628.20,128.90) scale(0.9822,1)" font-family="Liberation Serif" font-size="8.40" font-weight="bold" text-anchor="start" fill="#111" stroke="#111" stroke-width="0.25" xml:space="preserve">Divergence</text>
<text transform="translate(628.20,148.90) scale(0.9822,1)" font-family="Liberation Serif" font-size="8.40" font-weight="bold" text-anchor="start" fill="#111" stroke="#111" stroke-width="0.25" xml:space="preserve">Divergence</text>
<text transform="translate(638.60,163.30) scale(0.9822,1)" font-family="Liberation Serif" font-size="8.40" font-weight="bold" text-anchor="start" fill="#111" stroke="#111" stroke-width="0.25" xml:space="preserve">Divergence</text>
<rect x="405.7" y="25.7" width="277.40" height="206.20" fill="none" stroke="#505050" stroke-width="1"/>
<g stroke="#505050" stroke-width="1">
<line x1="418.40" y1="231.9" x2="418.40" y2="235.4"/>
<line x1="446.39" y1="231.9" x2="446.39" y2="235.4"/>
<line x1="474.38" y1="231.9" x2="474.38" y2="235.4"/>
<line x1="502.37" y1="231.9" x2="502.37" y2="235.4"/>
<line x1="530.36" y1="231.9" x2="530.36" y2="235.4"/>
<line x1="558.35" y1="231.9" x2="558.35" y2="235.4"/>
<line x1="586.34" y1="231.9" x2="586.34" y2="235.4"/>
<line x1="614.33" y1="231.9" x2="614.33" y2="235.4"/>
<line x1="642.32" y1="231.9" x2="642.32" y2="235.4"/>
<line x1="670.31" y1="231.9" x2="670.31" y2="235.4"/>
<line x1="402.2" y1="231.95" x2="405.7" y2="231.95"/>
<line x1="402.2" y1="212.80" x2="405.7" y2="212.80"/>
<line x1="402.2" y1="193.65" x2="405.7" y2="193.65"/>
<line x1="402.2" y1="174.50" x2="405.7" y2="174.50"/>
<line x1="402.2" y1="155.35" x2="405.7" y2="155.35"/>
<line x1="402.2" y1="136.20" x2="405.7" y2="136.20"/>
<line x1="402.2" y1="117.05" x2="405.7" y2="117.05"/>
<line x1="402.2" y1="97.90" x2="405.7" y2="97.90"/>
<line x1="402.2" y1="78.75" x2="405.7" y2="78.75"/>
<line x1="402.2" y1="59.60" x2="405.7" y2="59.60"/>
<line x1="402.2" y1="40.45" x2="405.7" y2="40.45"/>
</g>
<text transform="translate(418.40,243.70) scale(1.0528,1)" font-family="Liberation Sans" font-size="8.30" text-anchor="middle" fill="#262626" stroke="#262626" stroke-width="0.17" xml:space="preserve">0</text>
<text transform="translate(446.39,243.70) scale(1.0528,1)" font-family="Liberation Sans" font-size="8.30" text-anchor="middle" fill="#262626" stroke="#262626" stroke-width="0.17" xml:space="preserve">1000</text>
<text transform="translate(474.38,243.70) scale(1.0528,1)" font-family="Liberation Sans" font-size="8.30" text-anchor="middle" fill="#262626" stroke="#262626" stroke-width="0.17" xml:space="preserve">2000</text>
<text transform="translate(502.37,243.70) scale(1.0528,1)" font-family="Liberation Sans" font-size="8.30" text-anchor="middle" fill="#262626" stroke="#262626" stroke-width="0.17" xml:space="preserve">3000</text>
<text transform="translate(530.36,243.70) scale(1.0528,1)" font-family="Liberation Sans" font-size="8.30" text-anchor="middle" fill="#262626" stroke="#262626" stroke-width="0.17" xml:space="preserve">4000</text>
<text transform="translate(558.35,243.70) scale(1.0528,1)" font-family="Liberation Sans" font-size="8.30" text-anchor="middle" fill="#262626" stroke="#262626" stroke-width="0.17" xml:space="preserve">5000</text>
<text transform="translate(586.34,243.70) scale(1.0528,1)" font-family="Liberation Sans" font-size="8.30" text-anchor="middle" fill="#262626" stroke="#262626" stroke-width="0.17" xml:space="preserve">6000</text>
<text transform="translate(614.33,243.70) scale(1.0528,1)" font-family="Liberation Sans" font-size="8.30" text-anchor="middle" fill="#262626" stroke="#262626" stroke-width="0.17" xml:space="preserve">7000</text>
<text transform="translate(642.32,243.70) scale(1.0528,1)" font-family="Liberation Sans" font-size="8.30" text-anchor="middle" fill="#262626" stroke="#262626" stroke-width="0.17" xml:space="preserve">8000</text>
<text transform="translate(670.31,243.70) scale(1.0528,1)" font-family="Liberation Sans" font-size="8.30" text-anchor="middle" fill="#262626" stroke="#262626" stroke-width="0.17" xml:space="preserve">9000</text>
<text transform="translate(399.20,235.25) scale(1.0623,1)" font-family="Liberation Sans" font-size="8.30" text-anchor="end" fill="#262626" stroke="#262626" stroke-width="0.17" xml:space="preserve">−100</text>
<text transform="translate(399.20,216.10) scale(1.0753,1)" font-family="Liberation Sans" font-size="8.30" text-anchor="end" fill="#262626" stroke="#262626" stroke-width="0.17" xml:space="preserve">−75</text>
<text transform="translate(399.20,196.95) scale(1.0753,1)" font-family="Liberation Sans" font-size="8.30" text-anchor="end" fill="#262626" stroke="#262626" stroke-width="0.17" xml:space="preserve">−50</text>
<text transform="translate(399.20,177.80) scale(1.0753,1)" font-family="Liberation Sans" font-size="8.30" text-anchor="end" fill="#262626" stroke="#262626" stroke-width="0.17" xml:space="preserve">−25</text>
<text transform="translate(399.20,158.65) scale(1.0225,1)" font-family="Liberation Sans" font-size="8.30" text-anchor="end" fill="#262626" stroke="#262626" stroke-width="0.17" xml:space="preserve">0</text>
<text transform="translate(399.20,139.50) scale(1.0225,1)" font-family="Liberation Sans" font-size="8.30" text-anchor="end" fill="#262626" stroke="#262626" stroke-width="0.17" xml:space="preserve">25</text>
<text transform="translate(399.20,120.35) scale(1.0225,1)" font-family="Liberation Sans" font-size="8.30" text-anchor="end" fill="#262626" stroke="#262626" stroke-width="0.17" xml:space="preserve">50</text>
<text transform="translate(399.20,101.20) scale(1.0225,1)" font-family="Liberation Sans" font-size="8.30" text-anchor="end" fill="#262626" stroke="#262626" stroke-width="0.17" xml:space="preserve">75</text>
<text transform="translate(399.20,82.05) scale(1.0225,1)" font-family="Liberation Sans" font-size="8.30" text-anchor="end" fill="#262626" stroke="#262626" stroke-width="0.17" xml:space="preserve">100</text>
<text transform="translate(399.20,62.90) scale(1.0225,1)" font-family="Liberation Sans" font-size="8.30" text-anchor="end" fill="#262626" stroke="#262626" stroke-width="0.17" xml:space="preserve">125</text>
<text transform="translate(399.20,43.75) scale(1.0225,1)" font-family="Liberation Sans" font-size="8.30" text-anchor="end" fill="#262626" stroke="#262626" stroke-width="0.17" xml:space="preserve">150</text>
<text transform="translate(544.40,254.30) scale(1.0364,1)" font-family="Liberation Sans" font-size="9.40" text-anchor="middle" fill="#262626" stroke="#262626" stroke-width="0.17" xml:space="preserve">episodes</text>
<text transform="translate(373.60,128.80) rotate(-90) scale(1.0671,1)" font-family="Liberation Sans" font-size="9.40" text-anchor="middle" fill="#262626" stroke="#262626" stroke-width="0.17" xml:space="preserve">average episodes rewards</text>
<text transform="translate(544.40,20.50) scale(1.0655,1)" font-family="Liberation Sans" font-size="11.40" text-anchor="middle" fill="#262626" stroke="#262626" stroke-width="0.17" xml:space="preserve">Training Scenario-2  (Prolonged occlusion)</text>
</g>
<g>
<g stroke="#d3d3d3" stroke-width="1">
<line x1="59.90" y1="294.5" x2="59.90" y2="500.4"/>
<line x1="87.89" y1="294.5" x2="87.89" y2="500.4"/>
<line x1="115.88" y1="294.5" x2="115.88" y2="500.4"/>
<line x1="143.87" y1="294.5" x2="143.87" y2="500.4"/>
<line x1="171.86" y1="294.5" x2="171.86" y2="500.4"/>
<line x1="199.85" y1="294.5" x2="199.85" y2="500.4"/>
<line x1="227.84" y1="294.5" x2="227.84" y2="500.4"/>
<line x1="255.83" y1="294.5" x2="255.83" y2="500.4"/>
<line x1="283.82" y1="294.5" x2="283.82" y2="500.4"/>
<line x1="311.81" y1="294.5" x2="311.81" y2="500.4"/>
<line x1="47.3" y1="500.60" x2="324.6" y2="500.60"/>
<line x1="47.3" y1="481.45" x2="324.6" y2="481.45"/>
<line x1="47.3" y1="462.30" x2="324.6" y2="462.30"/>
<line x1="47.3" y1="443.15" x2="324.6" y2="443.15"/>
<line x1="47.3" y1="424.00" x2="324.6" y2="424.00"/>
<line x1="47.3" y1="404.85" x2="324.6" y2="404.85"/>
<line x1="47.3" y1="385.70" x2="324.6" y2="385.70"/>
<line x1="47.3" y1="366.55" x2="324.6" y2="366.55"/>
<line x1="47.3" y1="347.40" x2="324.6" y2="347.40"/>
<line x1="47.3" y1="328.25" x2="324.6" y2="328.25"/>
<line x1="47.3" y1="309.10" x2="324.6" y2="309.10"/>
</g>
<clipPath id="cpc"><rect x="47.3" y="294.5" width="277.3" height="205.89999999999998"/></clipPath>
<g clip-path="url(#cpc)" fill="none" stroke-width="2.1" stroke-linejoin="round" stroke-linecap="round">
<path d="M59.9,456.5 59.9,455.8 59.9,455.1 59.9,454.1 59.9,454.4 60.0,453.3 60.0,451.8 60.0,452.0 60.0,451.0 60.0,450.4 60.0,449.7 60.0,449.5 60.0,448.6 60.1,448.4 60.1,447.8 60.1,445.6 60.1,442.6 60.1,444.2 60.1,442.8 60.1,442.8 60.1,442.8 60.2,442.8 60.2,440.6 60.2,440.0 60.2,439.3 60.2,438.6 60.2,437.0 60.2,436.6 60.2,435.0 60.3,433.7 60.3,435.2 60.3,434.3 60.3,433.4 60.3,433.7 60.3,432.5 60.3,431.6 60.3,431.2 60.4,430.3 60.4,429.6 60.4,429.8 60.4,428.6 60.4,427.8 60.4,427.8 60.4,426.9 60.4,426.6 60.5,424.1 60.5,422.8 60.5,423.1 60.5,423.1 60.5,421.1 60.5,421.3 60.5,420.6 60.5,420.0 60.6,419.1 60.6,418.5 60.6,418.5 60.6,418.4 60.6,417.7 60.6,416.6 60.6,415.9 60.6,414.4 60.6,413.6 60.7,412.9 60.7,411.6 60.7,411.2 60.7,410.3 60.7,410.1 60.7,409.0 60.7,408.0 60.7,408.1 60.8,406.2 60.8,406.0 60.8,405.5 60.8,405.9 60.8,403.5 60.8,404.2 60.8,402.5 60.8,401.0 60.9,402.1 60.9,401.6 60.9,400.2 60.9,399.4 60.9,398.4 60.9,397.3 60.9,397.5 60.9,396.4 61.0,395.4 61.0,395.5 61.0,393.0 61.0,392.7 61.0,393.2 61.0,393.2 61.0,393.4 61.0,391.8 61.1,390.4 61.1,390.4 61.1,388.2 61.1,388.0 61.1,387.1 61.1,386.1 61.1,386.1 61.1,385.7 61.2,385.3 61.2,385.4 61.2,384.7 61.2,383.2 61.2,381.9 61.2,381.3 61.2,381.0 61.2,379.7 61.3,377.7 61.3,377.4 61.3,379.4 61.3,376.9 61.3,375.9 61.3,375.0 61.3,374.3 61.3,374.1 61.4,372.6 61.4,371.5 61.4,370.3 61.4,370.8 61.4,371.8 61.6,370.7 61.8,369.5 61.9,369.4 62.1,368.6 62.3,365.8 62.5,364.8 62.7,366.5 62.8,366.4 63.0,365.8 63.2,364.6 63.4,362.2 63.6,361.4 63.7,361.6 63.9,361.0 64.1,359.8 64.3,359.0 64.5,356.7 64.6,357.6 64.8,357.7 65.0,356.5 65.5,357.3 65.9,356.3 66.4,354.8 66.8,354.1 67.3,353.4 67.8,351.6 68.2,352.6 68.7,352.5 69.2,350.9 69.6,350.5 70.1,351.3 70.5,351.0 71.0,349.3 71.5,348.9 72.1,349.5 72.6,348.9 73.2,349.1 73.7,345.7 74.3,347.6 74.8,347.7 75.4,345.5 75.9,345.8 76.5,344.1 77.0,343.3 77.6,344.5 78.3,345.1 78.9,343.9 79.6,343.2 80.2,343.6 80.9,343.5 81.5,343.1 82.2,341.3 82.8,342.0 83.5,343.1 84.1,342.5 84.8,341.8 85.4,341.3 86.1,341.1 86.7,341.1 87.4,340.3 88.0,339.1 88.7,339.5 89.4,337.9 90.1,341.0 90.8,340.7 91.4,339.4 92.1,337.8 92.8,338.8 93.5,338.7 94.2,338.9 94.9,337.2 95.6,336.8 96.2,337.7 96.9,336.1 97.6,337.4 98.3,337.6 99.0,336.7 99.7,338.0 100.5,337.6 101.2,337.8 101.9,337.2 102.6,336.9 103.4,336.9 104.1,337.9 104.8,337.9 105.5,336.7 106.3,337.7 107.0,336.4 107.7,335.3 108.4,336.5 109.1,335.8 109.8,334.6 110.5,334.6 111.2,336.8 111.8,335.8 112.5,336.3 113.2,337.0 113.9,336.3 114.6,333.5 115.3,334.5 116.0,334.8 116.7,334.7 117.5,335.5 118.2,334.2 118.9,334.3 119.7,333.3 120.4,333.4 121.1,335.0 121.9,334.4 122.6,333.0 123.3,333.6 124.1,332.2 124.8,333.2 125.5,334.0 126.3,332.6 127.0,330.9 127.7,331.6 128.4,332.7 129.1,332.5 129.9,332.1 130.6,332.8 131.3,332.2 132.0,331.3 132.7,330.9 133.4,331.6 134.1,331.9 134.9,330.4 135.6,329.2 136.3,330.2 137.0,330.1 137.7,330.0 138.5,329.8 139.2,330.1 139.9,329.7 140.6,328.8 141.4,328.0 142.1,329.7 142.8,328.7 143.5,327.6 144.3,328.8 145.0,327.6 145.7,328.4 146.5,329.2 147.2,329.5 147.9,329.3 148.6,328.7 149.4,329.3 150.1,330.5 150.8,329.0 151.5,328.9 152.3,330.0 153.0,329.7 153.7,329.8 154.5,329.4 155.2,329.7 155.9,331.2 156.6,332.2 157.4,331.4 158.1,332.0 158.8,332.1 159.5,331.7 160.3,330.3 161.0,331.8 161.7,332.2 162.4,330.9 163.1,330.1 163.9,329.6 164.6,329.5 165.3,330.4 166.0,331.0 166.7,331.3 167.4,332.0 168.1,330.6 168.9,329.0 169.6,331.2 170.3,330.1 171.0,330.6 171.7,329.8 172.4,330.9 173.1,328.8 173.7,328.1 174.4,329.7 175.1,328.3 175.8,328.5 176.5,328.0 177.2,329.5 177.8,328.4 178.5,327.6 179.2,328.0 179.9,327.6 180.6,326.9 181.3,325.9 181.9,325.6 182.6,325.0 183.3,326.2 184.0,327.2 184.7,326.9 185.4,325.5 186.1,325.2 186.9,325.8 187.6,327.7 188.3,326.5 189.0,326.2 189.7,325.7 190.4,325.5 191.1,325.7 191.9,324.7 192.6,326.8 193.3,326.0 194.0,326.5 194.7,326.6 195.4,327.1 196.1,325.9 196.9,325.3 197.6,327.4 198.3,327.6 199.0,327.9 199.7,328.2 200.4,325.9 201.1,325.8 201.9,327.1 202.6,327.3 203.3,327.0 204.0,326.0 204.7,326.6 205.4,327.2 206.1,325.9 206.9,326.0 207.6,327.0 208.3,325.1 209.0,324.2 209.7,324.3 210.4,324.3 211.1,324.0 211.9,322.4 212.6,323.6 213.3,323.0 214.0,324.4 214.7,325.3 215.4,324.5 216.1,324.5 216.9,324.1 217.6,323.2 218.3,322.9 219.0,322.5 219.7,323.5 220.4,323.0 221.1,322.4 221.9,323.0 222.6,320.6 223.3,321.3 224.0,321.9 224.7,321.1 225.4,321.9 226.1,322.1 226.8,320.5 227.5,321.2 228.2,320.4 228.9,320.8 229.6,320.2 230.4,320.9 231.1,321.9 231.8,321.5 232.5,321.7 233.2,322.1 233.9,322.4 234.6,321.8 235.3,321.5 236.0,322.1 236.7,320.1 237.5,320.7 238.2,320.1 238.9,320.4 239.6,318.9 240.4,317.5 241.1,319.8 241.8,320.1 242.5,319.6 243.3,319.0 244.0,318.9 244.7,320.3 245.4,320.0 246.1,319.2 246.9,319.6 247.6,319.2 248.3,320.1 249.0,319.1 249.7,319.5 250.4,319.5 251.1,320.1 251.9,319.5 252.6,319.5 253.3,319.2 254.0,320.3 254.7,319.4 255.4,319.4 256.1,319.1 256.9,319.8 257.6,320.0 258.3,321.1 259.0,320.5 259.7,319.5 260.4,319.6 261.1,319.3 261.9,318.9 262.6,320.7 263.3,321.5 264.0,321.7 264.7,321.5 265.5,320.5 266.2,319.6 266.9,321.3 267.6,320.4 268.4,320.1 269.1,318.6 269.8,318.8 270.5,318.7 271.3,319.4 272.0,319.9 272.7,319.1 273.4,318.6 274.1,318.3 274.9,319.3 275.6,317.8 276.3,318.2 277.0,318.0 277.7,317.1 278.4,317.2 279.1,317.8 279.9,317.6 280.6,317.3 281.3,318.9 282.0,317.2 282.7,317.7 283.4,316.6 284.1,318.0 284.9,318.8 285.6,318.3 286.3,317.5 287.0,318.2 287.7,317.1 288.4,317.6 289.1,318.7 289.9,316.6 290.6,317.5 291.3,317.7 292.0,317.5 292.7,316.7 293.4,318.1 294.1,317.1 294.9,316.8 295.6,316.9 296.3,319.0 297.0,317.6 297.7,319.0 298.4,317.5 299.1,317.4 299.9,316.7 300.6,316.3 301.3,316.0 302.0,316.7 302.7,317.0 303.4,318.0 304.1,318.5 304.9,316.9 305.6,317.7 306.3,316.1 307.0,316.4 307.7,317.7 308.4,317.9 309.1,318.6 309.9,318.6 310.6,317.0 311.3,317.0 312.0,317.0" stroke="#84199f"/>
<path d="M59.9,456.5 59.9,455.8 60.0,455.1 60.0,454.8 60.0,455.2 60.1,452.8 60.1,451.9 60.1,452.2 60.2,452.2 60.2,450.7 60.2,450.0 60.3,448.5 60.3,446.7 60.3,446.8 60.4,446.9 60.4,445.6 60.4,446.6 60.5,446.1 60.5,443.4 60.5,442.2 60.6,442.5 60.6,441.8 60.6,440.1 60.7,439.6 60.7,439.5 60.7,438.1 60.8,436.9 60.8,435.8 60.8,436.9 60.9,436.6 60.9,434.6 60.9,434.4 61.0,434.4 61.0,434.2 61.0,433.5 61.1,432.0 61.1,431.5 61.1,431.1 61.2,430.6 61.2,429.3 61.2,428.5 61.3,428.2 61.3,426.5 61.3,427.5 61.4,425.6 61.4,426.0 61.4,425.9 61.5,423.9 61.5,422.0 61.5,422.3 61.6,421.1 61.6,420.8 61.6,420.7 61.7,418.8 61.7,417.4 61.7,417.0 61.8,416.4 61.8,416.7 61.8,417.8 61.9,415.1 61.9,415.0 62.0,412.0 62.0,410.4 62.0,412.0 62.1,411.2 62.1,409.9 62.1,410.0 62.2,410.9 62.2,408.8 62.2,406.5 62.3,408.0 62.3,407.0 62.3,405.7 62.4,405.6 62.4,404.5 62.4,404.7 62.5,402.2 62.5,402.3 62.5,402.6 62.6,400.6 62.6,399.9 62.6,400.7 62.7,399.0 62.7,399.2 62.7,398.5 62.8,396.9 62.8,396.0 62.8,396.2 62.9,395.3 62.9,395.1 62.9,392.9 63.0,392.4 63.0,392.4 63.0,391.8 63.1,390.6 63.1,389.1 63.1,388.7 63.2,390.2 63.2,388.4 63.2,388.1 63.3,387.1 63.3,385.1 63.3,383.6 63.4,384.3 63.4,384.1 63.4,383.9 63.5,382.0 63.5,380.6 63.5,381.3 63.6,379.6 63.6,380.6 63.6,378.3 63.7,377.5 63.7,377.7 63.7,376.8 63.8,376.3 63.8,374.7 63.8,373.8 63.9,372.7 63.9,372.4 63.9,371.8 64.0,373.0 64.0,372.2 64.2,370.5 64.5,369.0 64.7,368.1 64.9,367.5 65.2,367.5 65.4,366.7 65.6,365.9 65.8,364.8 66.1,363.8 66.3,364.3 66.5,364.8 66.8,362.0 67.0,359.7 67.5,361.2 68.1,360.2 68.6,359.9 69.1,359.9 69.7,359.5 70.2,358.9 70.7,359.1 71.3,357.9 71.8,357.6 72.3,356.8 72.9,357.1 73.4,355.7 73.9,354.9 74.5,355.5 75.0,356.4 75.7,354.9 76.4,353.5 77.1,352.7 77.7,354.9 78.4,354.0 79.1,353.6 79.8,352.0 80.5,352.8 81.2,352.7 81.8,353.0 82.5,352.0 83.2,352.2 83.9,352.3 84.6,352.5 85.3,350.8 85.9,350.4 86.6,350.7 87.3,350.5 88.0,348.7 88.7,347.8 89.4,348.8 90.1,350.3 90.8,349.6 91.4,349.8 92.1,348.6 92.8,348.7 93.5,348.3 94.2,348.4 94.9,347.0 95.6,347.5 96.2,348.4 96.9,348.5 97.6,347.7 98.3,347.1 99.0,347.4 99.7,347.8 100.4,345.9 101.1,347.9 101.8,346.0 102.5,345.8 103.2,346.4 104.0,347.2 104.7,346.7 105.4,345.5 106.1,344.9 106.8,346.7 107.5,345.8 108.2,345.5 108.9,345.8 109.6,346.4 110.3,344.9 111.0,343.5 111.8,343.4 112.5,344.0 113.2,344.9 113.9,344.0 114.6,344.3 115.3,344.8 116.0,343.5 116.7,344.8 117.4,345.3 118.1,344.7 118.9,342.7 119.6,343.6 120.3,342.9 121.0,342.6 121.7,341.9 122.4,342.3 123.1,342.8 123.9,344.7 124.6,343.8 125.3,342.6 126.0,341.8 126.7,342.0 127.4,341.3 128.1,341.7 128.9,341.4 129.6,339.5 130.3,339.3 131.0,340.3 131.7,339.9 132.4,340.7 133.1,343.5 133.8,341.8 134.5,339.6 135.2,340.3 135.9,340.6 136.6,341.1 137.4,339.8 138.1,341.0 138.8,341.0 139.5,340.5 140.2,340.4 140.9,341.2 141.6,341.2 142.3,339.7 143.0,340.1 143.7,339.8 144.4,339.6 145.1,339.6 145.8,339.4 146.5,340.7 147.2,338.4 147.9,339.6 148.6,338.8 149.4,338.4 150.1,340.0 150.8,339.3 151.5,338.4 152.2,339.1 152.9,339.3 153.6,338.6 154.3,339.7 155.0,339.8 155.7,339.2 156.4,338.5 157.1,338.8 157.8,338.7 158.5,338.0 159.2,339.4 159.9,338.4 160.6,338.7 161.4,338.5 162.1,336.7 162.8,336.0 163.5,336.3 164.2,337.9 164.9,338.1 165.6,338.4 166.3,339.0 167.0,337.6 167.7,335.5 168.5,337.4 169.2,336.6 169.9,335.3 170.6,336.1 171.4,336.5 172.1,334.5 172.8,334.4 173.5,335.2 174.3,334.4 175.0,335.1 175.8,335.4 176.5,335.5 177.2,335.9 178.0,335.3 178.8,335.8 179.5,336.9 180.2,336.6 181.0,335.0 181.8,335.9 182.5,335.3 183.2,337.3 184.0,337.1 184.7,336.5 185.3,336.4 186.0,336.2 186.7,336.0 187.3,337.0 188.0,337.4 188.7,337.2 189.3,337.9 190.0,338.3 190.7,338.4 191.3,339.2 192.0,339.2 192.8,338.4 193.5,339.3 194.2,338.7 195.0,337.9 195.8,339.4 196.5,339.9 197.2,339.0 198.0,339.0 198.5,339.2 198.9,337.5 199.4,337.5 199.8,337.5 200.3,336.1 200.8,335.8 201.2,335.9 201.7,335.0 202.2,335.1 202.6,332.6 203.1,332.6 203.5,333.7 204.0,331.7 204.7,332.2 205.5,333.2 206.2,334.1 206.9,333.2 207.6,333.4 208.4,333.3 209.1,331.8 209.8,331.0 210.5,331.9 211.3,330.0 212.0,330.3 212.7,331.3 213.3,330.5 214.0,330.5 214.7,333.3 215.3,334.3 216.0,333.9 216.7,333.0 217.3,333.0 218.0,333.9 218.4,333.5 218.9,334.2 219.3,333.5 219.8,332.0 220.2,332.8 220.7,331.0 221.1,331.1 221.6,330.8 222.0,330.2 222.7,327.7 223.5,328.3 224.2,327.1 224.9,327.8 225.6,329.4 226.4,328.6 227.1,327.4 227.8,326.4 228.5,326.6 229.3,326.2 230.0,326.5 230.7,326.5 231.4,326.4 232.1,327.9 232.9,326.4 233.6,326.1 234.3,326.8 235.0,327.2 235.7,326.3 236.4,324.5 237.1,327.4 237.9,326.1 238.6,325.4 239.3,325.1 240.0,324.4 240.7,325.1 241.5,325.4 242.2,324.6 242.9,325.6 243.6,326.0 244.4,325.4 245.1,324.9 245.8,324.4 246.5,326.0 247.3,325.5 248.0,326.1 248.7,326.0 249.3,326.8 250.0,325.4 250.7,327.0 251.3,329.0 252.0,328.3 252.7,326.6 253.3,326.5 254.0,327.5 254.5,327.4 255.0,329.3 255.5,330.4 256.0,331.1 256.5,330.9 257.0,332.8 257.6,331.8 258.2,330.0 258.8,330.0 259.3,330.1 259.9,329.3 260.5,329.2 261.1,327.0 261.7,326.4 262.2,325.0 262.8,326.6 263.4,326.7 264.0,325.8 264.7,326.4 265.4,326.0 266.1,325.4 266.9,325.3 267.6,323.8 268.3,322.7 269.0,323.4 269.7,323.8 270.4,324.5 271.1,322.7 271.9,323.0 272.6,324.2 273.3,323.1 274.0,323.3 274.7,321.5 275.4,322.0 276.1,322.8 276.9,324.1 277.6,323.9 278.3,322.3 279.0,322.7 279.7,323.4 280.4,323.1 281.1,322.1 281.9,322.3 282.6,322.0 283.3,322.7 284.0,322.4 284.7,322.5 285.4,321.7 286.1,320.7 286.8,321.0 287.5,321.1 288.2,321.2 288.9,321.4 289.6,320.5 290.4,321.7 291.1,321.5 291.8,322.3 292.5,321.7 293.2,322.6 293.9,323.0 294.6,322.0 295.3,320.3 296.0,320.1 296.7,321.4 297.5,321.3 298.2,323.1 298.9,323.3 299.6,320.6 300.4,319.1 301.1,320.0 301.8,321.2 302.5,319.9 303.3,319.4 304.0,320.3 304.7,320.5 305.5,321.5 306.2,320.3 306.9,320.0 307.6,321.3 308.4,320.9 309.1,321.0 309.8,319.4 310.5,321.0 311.3,321.0 312.0,321.0" stroke="#268b26"/>
<path d="M59.9,456.5 59.9,455.8 59.9,455.1 59.9,454.6 59.9,454.3 59.9,454.1 59.9,453.7 59.9,453.2 59.9,451.2 59.9,450.3 59.9,450.1 59.9,450.8 59.9,448.5 59.9,448.2 60.0,445.9 60.0,444.8 60.0,446.3 60.0,444.6 60.0,443.2 60.0,441.6 60.0,442.8 60.0,442.9 60.0,441.5 60.0,439.6 60.0,438.6 60.0,439.3 60.0,438.0 60.0,436.9 60.0,437.0 60.0,436.3 60.0,435.9 60.0,433.6 60.0,434.2 60.0,435.0 60.0,433.6 60.0,432.1 60.0,431.5 60.0,429.3 60.0,428.9 60.0,427.0 60.0,427.7 60.1,426.9 60.1,426.8 60.1,427.4 60.1,425.8 60.1,424.9 60.1,424.1 60.1,422.6 60.1,423.1 60.1,421.8 60.1,420.3 60.1,420.9 60.1,420.4 60.1,419.0 60.1,416.9 60.1,417.8 60.1,416.0 60.1,416.7 60.1,415.3 60.1,415.0 60.1,414.6 60.1,414.7 60.1,413.1 60.1,411.6 60.1,411.5 60.1,410.4 60.1,410.1 60.2,410.2 60.2,408.2 60.2,407.6 60.2,406.5 60.2,405.8 60.2,407.0 60.2,406.0 60.2,403.4 60.2,401.6 60.2,400.9 60.2,401.8 60.2,400.8 60.2,398.8 60.2,399.8 60.4,399.7 60.6,397.3 60.8,397.2 61.0,397.6 61.2,398.0 61.4,394.9 61.5,394.8 61.7,395.0 61.9,394.2 62.1,393.1 62.3,393.1 62.5,390.8 62.7,391.1 62.9,391.8 63.1,391.0 63.3,388.5 63.5,386.7 63.7,387.8 63.8,386.6 64.0,386.0 64.2,385.1 64.4,384.8 64.6,383.9 64.8,384.1 65.0,383.7 65.4,381.7 65.8,382.2 66.3,381.0 66.7,380.2 67.1,381.0 67.5,379.1 67.9,378.4 68.4,377.7 68.8,377.8 69.2,375.7 69.6,375.4 70.1,377.2 70.5,377.3 70.9,375.7 71.3,372.9 71.7,371.7 72.2,372.3 72.6,372.7 73.0,372.4 73.5,373.0 74.1,371.3 74.6,370.6 75.2,369.5 75.7,370.2 76.3,369.7 76.8,368.4 77.4,368.8 77.9,367.8 78.5,368.1 79.0,367.6 79.6,365.9 80.3,365.3 80.9,366.4 81.6,366.0 82.2,365.9 82.9,364.5 83.5,363.7 84.1,363.0 84.8,363.2 85.4,363.2 86.1,363.6 86.7,363.2 87.4,361.9 88.0,362.0 88.7,362.3 89.5,361.6 90.2,362.3 90.9,363.2 91.7,363.0 92.4,362.7 93.1,363.1 93.9,363.0 94.6,363.9 95.3,363.5 96.1,362.7 96.8,362.3 97.5,362.6 98.3,362.9 99.0,362.8 99.7,362.6 100.3,363.3 101.0,364.1 101.7,364.4 102.3,364.0 103.0,363.4 103.7,362.2 104.3,362.5 105.0,361.7 105.7,360.1 106.3,360.8 107.0,360.5 107.7,360.7 108.4,360.7 109.1,360.3 109.9,361.3 110.6,360.7 111.3,360.0 112.0,360.7 112.7,360.3 113.4,359.8 114.1,359.0 114.9,358.9 115.6,358.7 116.3,357.7 117.0,357.9 117.7,357.1 118.4,357.7 119.1,358.7 119.9,359.3 120.6,356.8 121.3,357.1 122.0,358.0 122.7,356.8 123.4,355.2 124.1,356.2 124.9,357.1 125.6,356.3 126.3,355.1 127.0,354.7 127.7,355.7 128.5,354.6 129.2,354.3 129.9,354.8 130.6,355.3 131.4,354.6 132.1,351.8 132.8,353.2 133.5,354.6 134.3,354.1 135.0,355.0 135.7,355.0 136.5,354.6 137.2,355.4 137.9,355.5 138.6,354.3 139.4,354.2 140.1,355.7 140.8,354.8 141.5,355.2 142.3,355.5 143.0,356.0 143.7,357.9 144.5,357.3 145.2,357.5 145.9,356.4 146.6,354.8 147.4,353.6 148.1,354.3 148.8,354.2 149.5,355.5 150.3,355.9 151.0,356.1 151.8,354.8 152.5,355.3 153.2,354.9 154.0,355.8 154.8,355.3 155.5,356.4 156.2,356.0 157.0,357.0 157.7,356.5 158.3,356.2 159.0,357.9 159.7,359.0 160.3,357.6 161.0,357.2 161.7,357.8 162.3,358.8 163.0,357.6 163.7,357.4 164.3,358.2 165.0,359.4 165.7,360.3 166.3,359.7 167.0,360.8 167.6,358.5 168.2,358.9 168.8,359.1 169.5,358.0 170.1,357.7 170.7,357.6 171.3,356.3 171.9,356.8 172.5,357.3 173.2,357.1 173.8,355.3 174.4,355.5 175.0,355.0 175.7,354.6 176.3,353.6 177.0,355.0 177.7,354.1 178.3,352.1 179.0,353.3 179.7,352.3 180.3,352.7 181.0,353.6 181.8,353.2 182.5,353.4 183.2,353.6 184.0,354.4 184.7,353.7 185.4,354.5 186.1,352.2 186.9,353.2 187.6,353.6 188.3,353.2 189.0,352.9 189.7,352.8 190.4,353.7 191.1,354.3 191.9,353.6 192.6,353.1 193.3,352.8 194.0,353.1 194.7,352.6 195.4,352.6 196.1,352.7 196.9,352.4 197.6,353.0 198.3,353.3 199.0,354.5 199.7,353.6 200.4,353.7 201.1,353.1 201.9,352.6 202.6,354.5 203.3,353.6 204.0,353.2 204.7,353.0 205.5,352.1 206.2,353.5 206.9,354.3 207.6,354.6 208.4,355.4 209.1,355.2 209.8,353.6 210.5,355.0 211.3,351.9 212.0,355.2 212.7,353.1 213.3,353.6 214.0,354.9 214.7,354.4 215.3,352.5 216.0,352.2 216.7,353.2 217.3,353.5 218.0,352.8 218.7,350.8 219.3,351.9 220.0,351.6 220.7,351.6 221.3,351.1 222.0,351.1 222.7,351.4 223.3,350.6 224.0,349.6 224.7,349.8 225.3,350.6 226.0,352.5 226.7,351.0 227.3,350.6 228.0,349.3 228.6,348.0 229.2,348.5 229.8,349.2 230.4,350.4 231.0,350.8 231.6,350.2 232.2,349.8 232.8,351.3 233.4,351.2 234.0,351.9 234.6,352.6 235.2,353.2 235.8,353.8 236.4,352.7 237.0,353.9 237.6,354.5 238.2,354.2 238.8,355.5 239.4,357.1 240.0,357.2 240.6,354.5 241.1,355.8 241.7,356.3 242.3,354.7 242.9,353.3 243.4,354.6 244.0,355.2 244.7,354.2 245.3,353.2 246.0,354.7 246.7,355.4 247.3,354.9 248.0,356.0 248.7,355.9 249.3,355.5 250.0,356.3 250.7,356.1 251.3,356.3 252.0,356.7 252.7,356.0 253.5,355.5 254.2,355.7 254.9,356.3 255.6,356.1 256.4,356.5 257.1,355.3 257.8,355.3 258.5,356.2 259.3,355.1 260.0,354.4 260.6,355.9 261.2,356.2 261.8,356.9 262.4,356.5 263.0,355.9 263.6,356.8 264.2,357.8 264.8,358.2 265.4,358.6 266.0,358.6 266.7,358.2 267.5,359.9 268.2,358.6 268.9,358.8 269.6,358.0 270.4,358.3 271.1,358.5 271.8,359.0 272.5,358.6 273.3,359.5 274.0,359.6 274.7,358.8 275.4,358.5 276.1,358.2 276.9,359.1 277.6,359.1 278.3,359.4 279.0,359.6 279.7,359.8 280.4,359.4 281.1,357.2 281.9,358.1 282.6,359.5 283.3,359.7 284.0,362.3 284.7,361.3 285.4,360.9 286.1,359.3 286.8,360.1 287.5,361.7 288.2,360.6 288.9,362.5 289.6,360.2 290.4,358.5 291.1,360.4 291.8,361.2 292.5,361.3 293.2,361.4 293.9,362.1 294.6,361.2 295.3,360.9 296.0,360.6 296.7,361.7 297.5,362.6 298.2,362.6 298.9,361.0 299.6,363.1 300.4,361.6 301.1,361.5 301.8,361.5 302.5,362.5 303.3,363.1 304.0,362.5 304.7,363.6 305.5,363.7 306.2,362.6 306.9,361.2 307.6,360.9 308.4,360.8 309.1,360.4 309.8,361.7 310.5,361.9 311.3,362.0 312.0,362.0" stroke="#0000ff"/>
<path d="M59.9,456.5 59.9,455.8 59.9,455.1 59.9,453.9 59.9,453.7 59.9,453.2 59.9,453.1 59.9,451.4 59.9,450.8 59.9,451.4 59.9,450.6 59.9,449.1 59.9,448.8 59.9,448.2 60.0,445.8 60.0,444.8 60.0,444.6 60.0,444.3 60.0,443.7 60.0,442.4 60.0,442.3 60.0,442.5 60.0,440.3 60.0,440.2 60.0,439.8 60.0,439.7 60.0,438.2 60.0,436.5 60.0,436.7 60.0,437.0 60.0,436.5 60.0,435.1 60.0,435.2 60.0,432.5 60.0,431.3 60.0,430.9 60.0,430.1 60.0,430.5 60.0,429.4 60.0,428.0 60.0,427.2 60.1,426.0 60.1,426.2 60.1,427.2 60.1,425.9 60.1,424.4 60.1,424.3 60.1,424.1 60.1,423.5 60.1,422.7 60.1,421.3 60.1,420.7 60.1,420.2 60.1,418.9 60.1,418.1 60.1,417.1 60.1,416.8 60.1,416.1 60.1,414.0 60.1,415.1 60.1,415.2 60.1,415.0 60.1,414.8 60.1,414.4 60.1,412.1 60.1,411.1 60.1,409.8 60.2,408.7 60.2,408.7 60.2,407.4 60.2,406.7 60.2,407.6 60.2,404.7 60.2,404.2 60.2,404.7 60.2,403.1 60.2,402.8 60.2,403.0 60.2,402.5 60.2,401.0 60.2,399.1 60.4,399.2 60.7,398.8 60.9,399.5 61.2,397.8 61.4,395.4 61.7,395.3 61.9,396.1 62.1,395.4 62.4,393.4 62.6,394.3 62.9,393.4 63.1,392.4 63.4,390.4 63.6,389.8 63.8,391.5 64.1,390.1 64.3,388.7 64.6,387.4 64.8,386.5 65.1,385.1 65.3,385.7 65.5,388.3 65.8,386.7 66.0,385.2 66.3,382.9 66.5,381.0 66.8,382.9 67.0,380.0 67.4,379.5 67.8,380.3 68.1,379.5 68.5,376.6 68.9,377.3 69.2,376.8 69.6,375.8 70.0,375.8 70.4,373.9 70.8,373.7 71.1,374.3 71.5,373.5 71.9,371.8 72.2,373.7 72.6,371.9 73.0,371.2 73.7,370.7 74.3,370.3 75.0,370.1 75.6,370.1 76.3,370.4 76.9,369.1 77.6,368.1 78.2,369.5 78.9,369.5 79.5,368.3 80.2,369.6 80.8,368.0 81.5,367.0 82.1,365.9 82.8,366.3 83.4,366.3 84.1,363.3 84.7,365.5 85.4,364.8 86.0,363.9 86.7,363.6 87.3,363.9 88.0,364.2 88.7,365.2 89.4,364.8 90.1,364.1 90.8,364.1 91.5,364.3 92.2,365.5 92.8,364.4 93.5,364.7 94.2,365.3 94.9,365.1 95.6,365.5 96.3,367.2 97.0,368.5 97.7,366.6 98.3,367.2 99.0,366.3 99.7,368.1 100.3,368.1 101.0,368.5 101.7,368.7 102.3,367.5 103.0,367.6 103.7,368.7 104.3,369.0 105.0,369.4 105.7,370.8 106.3,369.7 107.0,370.4 107.7,369.9 108.5,370.5 109.2,372.0 109.9,370.3 110.6,371.1 111.4,370.6 112.1,371.2 112.8,370.4 113.5,369.8 114.3,370.5 115.0,371.5 115.7,371.0 116.5,373.1 117.2,372.2 117.9,372.3 118.6,370.7 119.4,370.0 120.1,369.7 120.8,372.0 121.5,371.2 122.3,369.6 123.0,370.3 123.7,369.9 124.3,370.3 125.0,371.0 125.7,369.2 126.3,369.7 127.0,369.1 127.7,368.5 128.3,370.1 129.0,367.3 129.7,366.1 130.3,365.1 131.0,365.1 131.5,365.9 132.0,364.4 132.5,365.5 133.0,364.9 133.5,363.2 134.0,364.0 134.5,363.5 135.0,363.3 135.5,362.4 136.0,361.4 136.5,362.8 137.0,363.2 137.7,361.7 138.3,361.7 139.0,360.9 139.7,358.8 140.3,360.3 141.0,358.6 141.7,359.4 142.3,358.5 143.0,357.5 143.7,357.1 144.3,356.7 145.0,355.5 145.6,355.3 146.2,357.5 146.8,356.4 147.4,355.2 148.0,354.7 148.6,354.4 149.2,354.3 149.8,355.6 150.4,355.7 151.0,353.5 151.7,352.8 152.5,355.1 153.2,355.2 153.9,354.7 154.6,354.5 155.4,354.7 156.1,353.5 156.8,353.8 157.5,354.1 158.3,354.5 159.0,354.8 159.7,356.3 160.3,356.7 161.0,356.7 161.7,356.8 162.3,357.1 163.0,356.8 163.7,356.8 164.3,358.3 165.0,358.9 165.7,358.1 166.3,357.8 167.0,359.1 167.7,359.4 168.3,357.9 169.0,357.9 169.7,357.6 170.3,359.5 171.0,360.1 171.7,360.7 172.3,360.2 173.0,359.8 173.7,361.9 174.4,360.5 175.1,360.1 175.8,359.0 176.4,359.8 177.1,360.6 177.8,359.5 178.5,358.7 179.2,358.3 179.9,359.9 180.6,359.7 181.2,357.1 181.9,358.3 182.6,360.3 183.3,359.0 184.0,359.1 184.7,357.0 185.5,357.8 186.2,357.2 186.9,357.6 187.6,356.5 188.4,356.1 189.1,356.7 189.8,357.7 190.5,356.6 191.3,356.2 192.0,356.4 192.6,354.8 193.2,353.9 193.8,354.8 194.5,354.8 195.1,354.4 195.7,354.5 196.3,354.7 196.9,354.6 197.5,353.5 198.2,353.2 198.8,352.4 199.4,351.4 200.0,352.4 200.7,351.6 201.4,349.5 202.1,350.3 202.9,351.6 203.6,350.2 204.3,349.6 205.0,349.8 205.7,350.7 206.4,350.7 207.1,352.1 207.9,350.4 208.6,350.1 209.3,349.8 210.0,350.5 210.7,350.4 211.3,351.1 212.0,351.2 212.7,351.4 213.3,350.8 214.0,349.9 214.7,351.2 215.3,351.8 216.0,351.0 216.7,352.2 217.3,352.5 218.0,354.0 218.6,354.2 219.1,353.8 219.7,354.0 220.3,354.8 220.9,355.2 221.4,355.4 222.0,355.6 222.6,356.5 223.1,357.3 223.7,357.8 224.3,358.2 224.9,357.9 225.4,358.7 226.0,360.4 226.7,360.1 227.3,359.9 228.0,358.9 228.7,357.3 229.3,355.3 230.0,357.0 230.7,356.6 231.3,355.9 232.0,355.5 232.6,357.2 233.1,357.0 233.7,355.0 234.3,354.8 234.9,355.4 235.4,354.2 236.0,354.8 236.5,353.0 237.0,354.5 237.5,354.9 238.0,354.8 238.5,355.8 239.0,355.7 239.5,356.4 240.0,357.7 240.5,359.1 241.0,358.4 241.5,359.1 242.0,361.4 242.7,361.8 243.3,359.5 244.0,361.0 244.7,361.3 245.3,360.8 246.0,360.8 246.7,361.5 247.3,362.1 248.0,363.2 248.7,362.3 249.3,363.0 250.0,363.9 250.7,364.5 251.4,365.4 252.1,364.8 252.9,364.2 253.6,364.8 254.3,365.6 255.0,365.3 255.7,364.8 256.4,364.6 257.1,363.9 257.9,362.9 258.6,363.7 259.3,364.4 260.0,363.9 260.7,363.4 261.5,363.6 262.2,363.5 262.9,363.5 263.6,363.1 264.4,360.4 265.1,359.7 265.8,361.7 266.5,362.0 267.3,362.1 268.0,362.5 268.7,360.4 269.4,360.9 270.1,362.2 270.8,363.1 271.5,363.2 272.2,362.4 272.9,362.9 273.6,363.6 274.4,363.3 275.1,363.3 275.8,363.8 276.5,362.9 277.2,363.2 277.9,363.4 278.6,362.0 279.3,363.4 280.0,364.6 280.7,365.4 281.4,363.7 282.1,362.8 282.8,362.4 283.5,363.2 284.2,365.5 284.9,365.2 285.6,364.6 286.4,361.7 287.1,362.6 287.8,364.4 288.5,364.5 289.2,363.7 289.9,365.3 290.6,364.4 291.3,365.3 292.0,366.1 292.7,364.7 293.4,364.8 294.1,364.9 294.8,365.8 295.5,365.4 296.2,365.4 296.9,364.5 297.6,365.9 298.4,365.3 299.1,364.3 299.8,363.8 300.5,365.2 301.2,366.9 301.9,365.5 302.6,363.9 303.3,365.0 304.0,365.3 304.7,365.5 305.5,364.9 306.2,366.4 306.9,366.6 307.6,365.8 308.4,366.0 309.1,365.4 309.8,364.4 310.5,365.9 311.3,365.9 312.0,366.0" stroke="#ff4500"/>
<path d="M59.9,456.5 59.9,455.8 59.9,455.1 59.9,454.6 59.9,453.4 59.9,451.9 59.9,451.8 59.9,452.5 59.9,452.0 59.9,449.5 59.9,449.2 59.9,449.9 59.9,447.3 59.9,446.5 60.0,446.8 60.0,445.5 60.0,444.3 60.0,443.3 60.0,443.5 60.0,442.0 60.0,442.8 60.0,441.0 60.0,441.1 60.0,440.0 60.0,437.5 60.0,437.9 60.0,436.9 60.0,436.4 60.0,436.9 60.0,437.0 60.0,436.0 60.0,433.4 60.0,434.9 60.0,434.2 60.0,433.0 60.0,432.2 60.0,430.5 60.0,431.7 60.0,429.7 60.0,429.0 60.0,428.3 60.1,427.3 60.1,428.0 60.1,426.5 60.1,425.4 60.1,424.9 60.1,423.6 60.1,423.6 60.1,422.5 60.1,421.8 60.1,421.1 60.1,419.7 60.1,419.4 60.1,418.0 60.1,419.5 60.1,418.3 60.1,417.9 60.1,416.2 60.1,415.3 60.1,415.6 60.1,414.1 60.1,412.9 60.1,413.4 60.1,412.2 60.1,411.7 60.1,411.3 60.1,410.9 60.2,410.2 60.2,409.1 60.2,407.3 60.2,406.3 60.2,406.0 60.2,404.5 60.2,404.9 60.2,403.8 60.2,402.9 60.2,402.0 60.2,401.9 60.2,400.3 60.2,399.5 60.2,398.7 60.5,398.2 60.7,398.0 61.0,397.1 61.2,396.2 61.5,395.7 61.8,396.0 62.0,394.6 62.3,395.3 62.6,394.3 62.8,392.4 63.1,391.7 63.3,391.8 63.6,391.5 63.9,389.5 64.1,388.7 64.4,389.9 64.6,390.1 64.9,388.8 65.2,388.3 65.4,386.8 65.7,385.9 66.0,386.1 66.2,387.5 66.5,385.3 66.7,383.7 67.0,383.6 67.4,383.6 67.8,382.0 68.2,381.4 68.6,380.1 69.0,379.9 69.4,380.3 69.8,380.2 70.2,380.3 70.6,378.1 71.0,377.2 71.4,376.8 71.8,375.8 72.2,373.8 72.6,373.8 73.0,373.3 73.4,372.4 73.8,372.7 74.2,372.4 74.6,370.7 75.0,370.4 75.7,370.0 76.4,371.9 77.1,372.6 77.7,371.5 78.4,368.6 79.1,367.8 79.8,367.5 80.5,369.5 81.2,369.4 81.8,369.2 82.5,369.3 83.2,367.9 83.9,368.3 84.6,367.4 85.3,365.3 85.9,365.5 86.6,366.4 87.3,366.2 88.0,365.0 88.7,366.3 89.4,365.4 90.1,366.8 90.8,365.7 91.5,366.6 92.2,367.2 92.9,367.2 93.6,366.5 94.3,367.8 95.0,367.2 95.7,367.3 96.3,367.9 97.0,370.3 97.7,368.9 98.3,368.3 99.0,368.3 99.7,368.9 100.3,369.9 101.0,370.9 101.7,372.9 102.3,372.9 103.0,372.1 103.7,372.4 104.4,373.3 105.1,373.2 105.7,373.6 106.4,374.1 107.1,370.4 107.8,373.6 108.5,375.4 109.2,374.8 109.8,374.3 110.5,374.2 111.2,375.6 111.9,375.1 112.6,374.3 113.3,376.1 113.9,376.5 114.6,375.9 115.3,376.0 116.0,377.0 116.7,377.7 117.4,379.3 118.1,379.2 118.8,380.0 119.4,379.7 120.1,379.8 120.8,379.7 121.5,378.3 122.2,379.5 122.9,380.5 123.6,379.5 124.2,379.9 124.9,379.8 125.6,380.7 126.3,380.6 127.0,381.4 127.7,382.3 128.4,380.1 129.1,380.9 129.9,381.8 130.6,382.4 131.3,382.3 132.0,381.8 132.7,381.9 133.4,382.6 134.1,382.5 134.9,383.4 135.6,384.8 136.3,384.1 137.0,384.5 137.7,383.8 138.4,383.5 139.1,383.5 139.9,384.9 140.6,384.5 141.3,384.2 142.0,385.6 142.7,385.7 143.4,386.2 144.1,386.1 144.9,386.9 145.6,386.2 146.3,387.3 147.0,386.5 147.7,387.8 148.3,387.4 149.0,386.8 149.7,387.1 150.3,388.1 151.0,388.1 151.7,388.5 152.3,389.1 153.0,388.3 153.7,389.1 154.3,388.9 155.0,389.7 155.7,391.8 156.3,390.0 157.0,389.7 157.7,391.1 158.3,392.5 159.0,391.1 159.7,390.9 160.5,392.4 161.2,390.4 161.9,390.4 162.6,392.8 163.4,392.5 164.1,392.4 164.8,391.3 165.5,392.2 166.3,392.3 167.0,391.5 167.7,392.8 168.5,392.6 169.2,393.8 169.9,394.0 170.6,393.5 171.4,394.0 172.1,393.4 172.8,392.7 173.5,393.2 174.3,392.0 175.0,392.4 175.8,393.4 176.5,391.8 177.2,392.5 178.0,392.4 178.8,391.8 179.5,391.5 180.2,392.2 181.0,393.6 181.8,393.2 182.5,393.2 183.2,393.4 184.0,393.0 184.7,393.1 185.4,393.1 186.1,393.5 186.9,392.3 187.6,391.6 188.3,392.3 189.0,392.2 189.7,393.2 190.4,391.6 191.1,390.8 191.9,391.5 192.6,391.3 193.3,391.4 194.0,391.4 194.7,391.2 195.3,390.3 196.0,390.0 196.7,390.5 197.3,389.7 198.0,388.1 198.7,389.6 199.3,389.5 200.0,389.0 200.7,387.3 201.3,387.8 202.0,385.8 202.7,386.4 203.3,385.4 204.0,384.7 204.7,385.3 205.3,385.2 206.0,384.6 206.7,384.9 207.3,386.5 208.0,385.6 208.7,383.3 209.3,383.2 210.0,384.0 210.7,383.7 211.3,383.3 212.0,382.1 212.7,382.6 213.4,380.9 214.1,380.5 214.9,381.7 215.6,382.5 216.3,382.5 217.0,381.3 217.5,382.5 218.1,382.4 218.6,381.5 219.2,382.2 219.7,382.8 220.2,383.4 220.8,384.1 221.3,385.5 221.8,385.3 222.4,385.6 222.9,385.5 223.5,386.2 224.0,386.5 224.7,387.4 225.3,389.5 226.0,388.5 226.7,390.1 227.3,389.6 228.0,388.9 228.7,387.8 229.3,389.0 230.0,390.8 230.7,390.3 231.3,389.9 232.0,391.5 232.7,390.7 233.4,390.9 234.1,390.4 234.8,390.4 235.5,392.7 236.2,392.4 236.9,392.7 237.6,392.0 238.4,392.8 239.1,393.5 239.8,393.7 240.5,392.3 241.2,393.2 241.9,394.7 242.6,392.7 243.3,392.6 244.0,393.7 244.7,393.5 245.4,393.9 246.1,392.5 246.8,392.6 247.5,393.4 248.2,393.0 248.9,392.2 249.6,392.2 250.4,392.6 251.1,392.9 251.8,393.2 252.5,391.7 253.2,391.3 253.9,392.2 254.6,391.7 255.3,392.5 256.0,392.8 256.7,393.5 257.3,393.1 258.0,394.7 258.7,395.2 259.3,394.0 260.0,393.9 260.7,395.2 261.3,396.3 262.0,394.9 262.7,395.4 263.3,396.9 264.0,397.0 264.7,395.0 265.4,396.8 266.1,398.6 266.9,398.1 267.6,397.1 268.3,398.3 269.0,398.1 269.7,396.0 270.4,396.1 271.1,396.2 271.9,397.2 272.6,399.0 273.3,399.2 274.0,398.9 274.7,397.5 275.4,396.2 276.1,397.2 276.9,397.0 277.6,397.3 278.3,397.0 279.0,397.9 279.7,398.1 280.4,397.1 281.1,399.6 281.9,398.9 282.6,398.2 283.3,397.6 284.0,397.5 284.7,397.4 285.4,399.6 286.1,397.2 286.8,397.3 287.5,398.7 288.2,397.2 288.9,396.7 289.6,397.9 290.3,399.4 291.0,398.8 291.7,397.4 292.4,396.5 293.1,396.6 293.8,396.6 294.5,396.2 295.2,397.3 295.9,397.0 296.6,396.4 297.3,396.8 298.0,397.2 298.7,397.5 299.4,396.8 300.1,397.3 300.8,399.0 301.5,397.5 302.2,397.0 302.9,398.5 303.6,398.8 304.3,398.1 305.0,399.0 305.7,398.3 306.4,398.0 307.1,398.4 307.8,398.6 308.5,399.5 309.2,400.1 309.9,397.5 310.6,398.9 311.3,399.0 312.0,399.0" stroke="#6a98ee"/>
<path d="M59.9,456.5 59.9,455.8 60.0,455.1 60.0,455.1 60.1,455.5 60.1,453.5 60.1,452.5 60.2,451.4 60.2,450.8 60.3,449.8 60.3,450.4 60.3,447.5 60.4,447.4 60.4,447.1 60.5,447.8 60.5,444.2 60.5,444.5 60.6,443.6 60.6,443.1 60.7,443.1 60.7,442.7 60.7,442.8 60.8,442.4 60.8,441.3 60.9,439.4 60.9,439.1 61.0,437.7 61.0,436.8 61.0,435.9 61.1,436.9 61.1,434.8 61.2,434.3 61.2,433.5 61.2,434.0 61.3,432.9 61.3,431.9 61.4,431.1 61.4,430.1 61.4,429.5 61.5,429.1 61.5,427.6 61.6,426.9 61.6,427.3 61.6,426.6 61.7,425.9 61.7,424.8 61.8,423.7 61.8,423.6 61.8,422.7 61.9,421.9 61.9,422.0 62.0,421.2 62.0,421.0 62.2,420.1 62.3,418.6 62.5,418.4 62.7,417.6 62.9,415.7 63.0,415.1 63.2,416.0 63.4,415.7 63.6,413.3 63.7,412.6 63.9,411.3 64.1,411.4 64.2,409.5 64.4,407.9 64.6,409.1 64.8,407.5 64.9,406.4 65.1,407.3 65.3,406.5 65.4,404.2 65.6,404.1 65.8,404.8 66.0,404.7 66.1,403.3 66.3,403.0 66.5,402.8 66.7,401.0 66.8,401.4 67.0,399.8 67.6,399.4 68.2,398.4 68.8,398.2 69.4,398.5 70.0,399.2 70.6,397.4 71.2,396.4 71.8,396.3 72.4,395.4 73.0,396.3 73.4,397.3 73.9,395.8 74.3,395.2 74.8,395.3 75.2,393.2 75.7,392.6 76.1,391.7 76.6,390.7 77.0,391.2 77.7,390.5 78.3,390.2 79.0,391.0 79.7,391.0 80.3,391.6 81.0,389.2 81.7,388.7 82.3,389.7 83.0,389.2 83.7,387.3 84.3,387.4 85.0,387.2 85.7,387.7 86.3,386.1 87.0,385.0 87.7,384.5 88.3,384.7 89.0,385.4 89.7,385.8 90.4,386.6 91.1,386.1 91.9,385.2 92.6,385.8 93.3,386.6 94.0,387.3 94.7,387.5 95.4,385.3 96.1,385.8 96.9,387.0 97.6,388.0 98.3,388.6 99.0,388.6 99.7,387.7 100.4,388.0 101.1,389.0 101.8,387.8 102.5,388.5 103.2,389.7 103.9,390.7 104.6,390.0 105.4,390.0 106.1,391.1 106.8,391.4 107.5,391.0 108.2,390.4 108.9,390.5 109.6,390.6 110.3,390.3 111.0,391.3 111.7,391.1 112.4,390.8 113.1,390.8 113.8,390.5 114.5,390.3 115.2,392.4 115.9,392.6 116.6,392.7 117.4,391.6 118.1,392.5 118.8,392.0 119.5,391.6 120.2,392.2 120.9,393.7 121.6,393.4 122.3,393.3 123.0,393.4 123.7,393.9 124.4,393.5 125.1,392.4 125.8,394.4 126.5,392.8 127.2,393.2 127.9,394.6 128.6,394.1 129.3,394.0 130.0,393.9 130.7,394.4 131.4,393.7 132.1,394.6 132.8,394.5 133.5,394.2 134.2,396.6 134.9,395.2 135.6,395.2 136.3,394.1 137.0,393.5 137.7,394.2 138.4,394.7 139.1,395.3 139.9,396.2 140.6,396.7 141.3,396.5 142.0,398.4 142.7,397.6 143.4,397.5 144.1,397.3 144.9,397.7 145.6,397.1 146.3,397.6 147.0,397.3 147.7,399.3 148.4,398.6 149.1,397.9 149.8,398.8 150.5,398.4 151.2,398.2 151.9,398.4 152.6,398.6 153.4,398.4 154.1,399.1 154.8,399.5 155.5,399.7 156.2,399.3 156.9,400.2 157.6,401.4 158.3,401.5 159.0,398.6 159.7,400.0 160.4,398.1 161.1,397.9 161.8,399.5 162.5,401.3 163.2,400.3 163.9,399.1 164.6,399.9 165.4,400.1 166.1,401.5 166.8,401.4 167.5,400.8 168.2,399.5 168.9,400.4 169.6,400.6 170.3,400.3 171.0,400.1 171.7,400.5 172.4,400.7 173.2,399.6 173.9,400.1 174.6,401.8 175.3,401.6 176.1,400.1 176.8,401.0 177.5,403.1 178.2,401.9 178.9,401.4 179.7,400.7 180.4,402.4 181.1,400.6 181.8,401.2 182.6,400.4 183.3,401.7 184.0,401.5 184.7,401.9 185.5,402.5 186.2,403.1 186.9,402.1 187.6,401.6 188.4,401.3 189.1,401.3 189.8,400.9 190.5,401.9 191.3,400.4 192.0,399.8 192.8,402.4 193.5,401.3 194.2,399.7 195.0,400.8 195.8,402.0 196.5,400.6 197.2,400.2 198.0,401.3 198.7,401.2 199.4,402.0 200.1,401.8 200.9,402.5 201.6,403.4 202.3,404.1 203.0,404.2 203.7,404.0 204.4,404.2 205.1,404.6 205.9,403.8 206.6,403.8 207.3,404.4 208.0,404.8 208.7,404.4 209.3,405.2 210.0,408.2 210.7,407.0 211.3,407.3 212.0,407.7 212.7,407.0 213.3,406.6 214.0,408.3 214.7,407.9 215.3,408.9 216.0,409.0 216.7,408.9 217.5,409.0 218.2,408.2 218.9,407.3 219.6,407.0 220.4,408.5 221.1,409.9 221.8,408.4 222.5,407.3 223.3,407.7 224.0,408.3 224.7,409.4 225.3,409.7 226.0,409.9 226.7,410.9 227.3,410.3 228.0,411.6 228.7,410.4 229.3,410.8 230.0,411.3 230.7,412.2 231.3,411.4 232.0,411.7 232.7,412.3 233.4,412.6 234.1,414.1 234.8,412.4 235.5,412.7 236.2,412.7 236.9,412.8 237.6,414.4 238.4,414.4 239.1,412.7 239.8,412.2 240.5,413.0 241.2,414.4 241.9,414.0 242.6,416.2 243.3,415.2 244.0,414.8 244.7,416.0 245.4,416.8 246.1,417.0 246.8,415.7 247.5,415.6 248.2,416.7 248.9,415.1 249.6,415.0 250.4,415.4 251.1,415.9 251.8,414.8 252.5,415.8 253.2,415.5 253.9,417.2 254.6,417.7 255.3,416.0 256.0,415.4 256.7,416.0 257.4,417.3 258.1,415.4 258.8,416.0 259.5,414.4 260.2,415.1 260.9,415.7 261.6,415.4 262.4,416.1 263.1,416.8 263.8,416.4 264.5,417.1 265.2,416.5 265.9,416.5 266.6,414.4 267.3,415.0 268.0,414.2 268.7,415.6 269.4,416.2 270.1,416.5 270.8,417.3 271.5,416.4 272.2,416.3 272.9,415.2 273.6,416.3 274.4,416.3 275.1,415.9 275.8,416.6 276.5,415.3 277.2,415.3 277.9,414.9 278.6,415.3 279.3,416.5 280.0,415.9 280.7,416.0 281.5,416.3 282.2,415.9 282.9,415.9 283.6,416.9 284.4,416.5 285.1,416.9 285.8,416.2 286.5,415.5 287.3,416.5 288.0,417.8 288.7,417.3 289.5,415.6 290.2,417.4 290.9,418.9 291.6,416.6 292.4,416.8 293.1,416.8 293.8,417.4 294.5,416.3 295.3,416.5 296.0,416.9 296.7,417.1 297.5,417.3 298.2,416.3 298.9,417.3 299.6,416.8 300.4,416.8 301.1,418.9 301.8,419.4 302.5,417.1 303.3,417.0 304.0,417.7 304.7,417.8 305.5,416.7 306.2,417.2 306.9,416.2 307.6,416.6 308.4,416.1 309.1,416.8 309.8,417.3 310.5,417.0 311.3,417.0 312.0,417.0" stroke="#4deb4d"/>
<path d="M59.9,456.5 59.9,455.8 59.9,455.1 59.9,454.7 60.0,453.7 60.0,452.2 60.0,452.2 60.0,452.0 60.0,450.3 60.0,448.6 60.0,449.4 60.1,448.6 60.1,450.0 60.1,447.3 60.1,446.3 60.1,445.7 60.1,446.0 60.1,445.2 60.2,443.1 60.2,442.5 60.2,441.8 60.2,442.3 60.2,440.7 60.2,440.1 60.2,439.9 60.3,438.7 60.3,437.5 60.3,438.2 60.3,436.0 60.3,435.5 60.3,435.9 60.3,435.7 60.4,434.5 60.4,434.9 60.4,432.1 60.4,431.4 60.4,432.1 60.4,430.5 60.4,428.7 60.5,429.0 60.5,429.2 60.5,428.7 60.5,428.4 60.5,425.4 60.5,424.7 60.5,425.7 60.6,424.8 60.6,422.6 60.6,424.0 60.6,423.5 60.8,422.3 61.1,421.2 61.3,421.1 61.6,419.7 61.8,417.5 62.0,415.5 62.3,414.6 62.5,415.1 62.8,415.1 63.0,415.2 63.5,415.3 64.0,414.8 64.5,413.6 65.0,411.5 65.5,410.5 66.0,412.7 66.5,412.9 67.0,411.7 67.7,409.4 68.4,410.8 69.1,410.9 69.9,410.4 70.6,410.1 71.3,409.7 72.0,410.0 72.7,408.9 73.4,410.4 74.1,410.5 74.9,409.9 75.6,410.3 76.3,411.0 77.0,410.9 77.7,409.3 78.4,409.3 79.1,408.9 79.9,409.5 80.6,409.8 81.3,410.6 82.0,408.8 82.7,409.2 83.4,410.5 84.1,410.3 84.9,410.3 85.6,409.9 86.3,409.2 87.0,408.8 87.7,408.5 88.4,408.9 89.1,409.5 89.8,409.1 90.5,410.6 91.2,408.8 91.9,409.2 92.6,409.2 93.4,409.2 94.1,409.0 94.8,407.8 95.5,406.4 96.2,408.1 96.9,408.4 97.6,408.6 98.3,408.3 99.0,408.8 99.7,407.5 100.4,406.8 101.1,409.0 101.9,409.9 102.6,409.3 103.3,408.3 104.0,408.4 104.7,409.1 105.4,407.2 106.1,407.2 106.9,407.6 107.6,407.6 108.3,406.9 109.0,405.7 109.7,406.7 110.3,408.0 111.0,408.3 111.7,409.1 112.3,410.0 113.0,409.9 113.7,408.3 114.3,408.0 115.0,408.7 115.7,408.9 116.3,408.5 117.0,409.9 117.7,409.9 118.3,410.8 119.0,409.9 119.7,410.3 120.3,412.7 121.0,411.7 121.7,412.3 122.3,412.6 123.0,412.3 123.7,412.1 124.5,411.9 125.2,411.0 125.9,411.5 126.6,410.5 127.4,409.6 128.1,410.3 128.8,409.6 129.5,409.1 130.3,408.5 131.0,410.5 131.7,410.9 132.5,409.5 133.2,409.2 133.9,409.4 134.6,410.1 135.4,409.1 136.1,409.9 136.8,409.1 137.5,409.1 138.3,408.7 139.0,410.2 139.6,409.3 140.1,410.8 140.7,411.6 141.3,412.8 141.9,411.5 142.4,412.8 143.0,411.2 143.6,412.6 144.1,414.4 144.7,414.6 145.3,414.5 145.9,415.5 146.4,414.4 147.0,415.1 147.7,415.3 148.5,414.7 149.2,413.6 149.9,416.5 150.6,414.8 151.4,413.7 152.1,413.8 152.8,413.9 153.5,414.1 154.3,413.9 155.0,413.1 155.7,411.7 156.5,411.9 157.2,412.5 157.9,413.5 158.6,412.1 159.4,413.4 160.1,412.9 160.8,411.8 161.5,411.4 162.3,412.5 163.0,411.7 163.7,413.1 164.3,411.6 165.0,412.4 165.7,412.4 166.3,414.2 167.0,414.2 167.7,414.9 168.3,414.4 169.0,414.5 169.7,414.8 170.3,414.0 171.0,414.7 171.7,415.0 172.4,416.1 173.1,415.1 173.7,415.6 174.4,416.0 175.1,415.5 175.8,415.7 176.5,415.7 177.2,416.7 177.8,417.4 178.5,416.2 179.2,416.3 179.9,417.1 180.6,417.2 181.3,417.3 181.9,417.2 182.6,418.6 183.3,417.7 184.0,417.9 184.7,417.9 185.3,419.4 186.0,419.6 186.7,418.9 187.3,419.2 188.0,420.0 188.7,420.0 189.3,420.7 190.0,420.2 190.7,421.9 191.3,423.2 192.0,423.0 192.7,420.8 193.3,420.6 194.0,422.1 194.7,423.4 195.3,422.1 196.0,422.2 196.7,423.1 197.3,424.5 198.0,423.8 198.7,423.3 199.3,424.8 200.0,425.1 200.7,424.1 201.3,424.7 202.0,424.8 202.7,425.4 203.3,425.4 204.0,425.5 204.7,426.7 205.4,425.4 206.1,425.2 206.9,426.7 207.6,426.8 208.3,426.3 209.0,426.6 209.7,426.0 210.4,426.4 211.1,427.0 211.9,426.5 212.6,427.7 213.3,427.6 214.0,428.0 214.7,428.4 215.4,426.9 216.1,428.6 216.9,428.4 217.6,428.4 218.3,428.9 219.0,428.0 219.7,427.3 220.4,427.8 221.1,428.4 221.9,429.1 222.6,429.7 223.3,429.6 224.0,428.0 224.7,428.3 225.4,428.3 226.1,429.0 226.8,428.4 227.5,427.9 228.2,428.9 228.9,430.5 229.6,430.5 230.4,430.6 231.1,429.8 231.8,429.0 232.5,430.7 233.2,430.1 233.9,431.1 234.6,431.5 235.3,432.3 236.0,431.0 236.7,430.7 237.4,429.6 238.1,429.4 238.8,430.7 239.5,431.4 240.2,431.2 240.9,432.4 241.6,431.8 242.4,430.4 243.1,429.2 243.8,432.2 244.5,432.7 245.2,433.1 245.9,431.6 246.6,431.0 247.3,432.4 248.0,433.6 248.7,432.4 249.4,431.5 250.1,432.1 250.8,432.5 251.5,431.0 252.2,431.8 252.9,433.5 253.6,432.0 254.4,431.7 255.1,431.8 255.8,432.5 256.5,432.5 257.2,433.5 257.9,432.6 258.6,432.5 259.3,433.5 260.0,433.2 260.7,433.0 261.5,432.6 262.2,433.5 262.9,433.2 263.6,434.6 264.4,434.4 265.1,433.3 265.8,434.2 266.5,435.0 267.3,436.0 268.0,437.8 268.7,437.1 269.4,436.2 270.1,435.7 270.9,436.8 271.6,435.1 272.3,435.5 273.0,436.4 273.7,436.4 274.4,435.2 275.1,435.7 275.9,435.8 276.6,436.2 277.3,435.6 278.0,435.7 278.7,436.3 279.4,437.1 280.1,435.9 280.9,435.1 281.6,436.7 282.3,436.6 283.0,437.8 283.7,437.3 284.4,437.6 285.1,437.8 285.9,438.8 286.6,437.5 287.3,436.4 288.0,438.7 288.7,438.4 289.4,438.0 290.1,439.4 290.8,437.7 291.5,437.4 292.2,436.8 292.9,438.5 293.6,439.2 294.4,439.2 295.1,438.5 295.8,439.9 296.5,440.6 297.2,439.2 297.9,438.8 298.6,439.2 299.3,439.9 300.0,440.4 300.7,440.1 301.4,440.2 302.1,440.1 302.8,439.6 303.5,440.2 304.2,440.7 304.9,441.7 305.6,442.3 306.4,440.4 307.1,441.7 307.8,442.7 308.5,442.5 309.2,442.8 309.9,443.1 310.6,443.0 311.3,443.2 312.0,443.4" stroke="#ee8a2c"/>
<line x1="59.9" y1="421.6" x2="311.8" y2="421.6" stroke="#222" stroke-width="1.6" stroke-dasharray="3.95,2.2"/>
</g>
<path d="M212.40,343.10 L210.85,347.87 L205.84,347.87 L209.89,350.81 L208.34,355.58 L212.40,352.64 L216.46,355.58 L214.91,350.81 L218.96,347.87 L213.95,347.87Z" fill="#ff4500" stroke="#b5231a" stroke-width="1" stroke-linejoin="miter"/>
<path d="M232.40,341.10 L230.85,345.87 L225.84,345.87 L229.89,348.81 L228.34,353.58 L232.40,350.64 L236.46,353.58 L234.91,348.81 L238.96,345.87 L233.95,345.87Z" fill="#0a0ae0" stroke="#000030" stroke-width="1" stroke-linejoin="miter"/>
<path d="M216.40,374.50 L214.85,379.27 L209.84,379.27 L213.89,382.21 L212.34,386.98 L216.40,384.04 L220.46,386.98 L218.91,382.21 L222.96,379.27 L217.95,379.27Z" fill="#6a98ee" stroke="#2f4f9a" stroke-width="1" stroke-linejoin="miter"/>
<path d="M198.00,395.10 L196.45,399.87 L191.44,399.87 L195.49,402.81 L193.94,407.58 L198.00,404.64 L202.06,407.58 L200.51,402.81 L204.56,399.87 L199.55,399.87Z" fill="#4deb4d" stroke="#1f7a1f" stroke-width="1" stroke-linejoin="miter"/>
<path d="M186.40,409.10 L184.85,413.87 L179.84,413.87 L183.89,416.81 L182.34,421.58 L186.40,418.64 L190.46,421.58 L188.91,416.81 L192.96,413.87 L187.95,413.87Z" fill="#ee8a2c" stroke="#8a4a12" stroke-width="1" stroke-linejoin="miter"/>
<line x1="221" y1="345" x2="221" y2="354" stroke="#b5231a" stroke-width="1.15"/>
<path d="M219.1,350.8 L221,352.4 L222.9,350.8 L221,356 Z" fill="#b5231a" stroke="#b5231a" stroke-width="0.6" stroke-linejoin="round"/>
<line x1="242" y1="343" x2="242" y2="353" stroke="#000030" stroke-width="1.15"/>
<path d="M240.1,349.8 L242,351.4 L243.9,349.8 L242,355 Z" fill="#000030" stroke="#000030" stroke-width="0.6" stroke-linejoin="round"/>
<line x1="226" y1="376" x2="226" y2="386" stroke="#2f4f9a" stroke-width="1.15"/>
<path d="M224.1,382.8 L226,384.4 L227.9,382.8 L226,388 Z" fill="#2f4f9a" stroke="#2f4f9a" stroke-width="0.6" stroke-linejoin="round"/>
<line x1="207.6" y1="396" x2="207.6" y2="405" stroke="#1f7a1f" stroke-width="1.15"/>
<path d="M205.7,401.8 L207.6,403.4 L209.5,401.8 L207.6,407 Z" fill="#1f7a1f" stroke="#1f7a1f" stroke-width="0.6" stroke-linejoin="round"/>
<line x1="195.4" y1="410" x2="195.4" y2="420" stroke="#8a4a12" stroke-width="1.15"/>
<path d="M193.5,416.8 L195.4,418.4 L197.3,416.8 L195.4,422 Z" fill="#8a4a12" stroke="#8a4a12" stroke-width="0.6" stroke-linejoin="round"/>
<text transform="translate(269.80,353.90) scale(0.9822,1)" font-family="Liberation Serif" font-size="8.40" font-weight="bold" text-anchor="start" fill="#111" stroke="#111" stroke-width="0.25" xml:space="preserve">Divergence</text>
<text transform="translate(269.80,373.50) scale(0.9822,1)" font-family="Liberation Serif" font-size="8.40" font-weight="bold" text-anchor="start" fill="#111" stroke="#111" stroke-width="0.25" xml:space="preserve">Divergence</text>
<text transform="translate(269.80,392.90) scale(0.9822,1)" font-family="Liberation Serif" font-size="8.40" font-weight="bold" text-anchor="start" fill="#111" stroke="#111" stroke-width="0.25" xml:space="preserve">Divergence</text>
<text transform="translate(269.80,413.30) scale(0.9822,1)" font-family="Liberation Serif" font-size="8.40" font-weight="bold" text-anchor="start" fill="#111" stroke="#111" stroke-width="0.25" xml:space="preserve">Divergence</text>
<text transform="translate(280.80,435.50) scale(0.9822,1)" font-family="Liberation Serif" font-size="8.40" font-weight="bold" text-anchor="start" fill="#111" stroke="#111" stroke-width="0.25" xml:space="preserve">Divergence</text>
<rect x="47.3" y="294.5" width="277.30" height="205.90" fill="none" stroke="#505050" stroke-width="1"/>
<g stroke="#505050" stroke-width="1">
<line x1="59.90" y1="500.4" x2="59.90" y2="503.9"/>
<line x1="87.89" y1="500.4" x2="87.89" y2="503.9"/>
<line x1="115.88" y1="500.4" x2="115.88" y2="503.9"/>
<line x1="143.87" y1="500.4" x2="143.87" y2="503.9"/>
<line x1="171.86" y1="500.4" x2="171.86" y2="503.9"/>
<line x1="199.85" y1="500.4" x2="199.85" y2="503.9"/>
<line x1="227.84" y1="500.4" x2="227.84" y2="503.9"/>
<line x1="255.83" y1="500.4" x2="255.83" y2="503.9"/>
<line x1="283.82" y1="500.4" x2="283.82" y2="503.9"/>
<line x1="311.81" y1="500.4" x2="311.81" y2="503.9"/>
<line x1="43.8" y1="500.60" x2="47.3" y2="500.60"/>
<line x1="43.8" y1="481.45" x2="47.3" y2="481.45"/>
<line x1="43.8" y1="462.30" x2="47.3" y2="462.30"/>
<line x1="43.8" y1="443.15" x2="47.3" y2="443.15"/>
<line x1="43.8" y1="424.00" x2="47.3" y2="424.00"/>
<line x1="43.8" y1="404.85" x2="47.3" y2="404.85"/>
<line x1="43.8" y1="385.70" x2="47.3" y2="385.70"/>
<line x1="43.8" y1="366.55" x2="47.3" y2="366.55"/>
<line x1="43.8" y1="347.40" x2="47.3" y2="347.40"/>
<line x1="43.8" y1="328.25" x2="47.3" y2="328.25"/>
<line x1="43.8" y1="309.10" x2="47.3" y2="309.10"/>
</g>
<text transform="translate(59.90,512.20) scale(1.0528,1)" font-family="Liberation Sans" font-size="8.30" text-anchor="middle" fill="#262626" stroke="#262626" stroke-width="0.17" xml:space="preserve">0</text>
<text transform="translate(87.89,512.20) scale(1.0528,1)" font-family="Liberation Sans" font-size="8.30" text-anchor="middle" fill="#262626" stroke="#262626" stroke-width="0.17" xml:space="preserve">1000</text>
<text transform="translate(115.88,512.20) scale(1.0528,1)" font-family="Liberation Sans" font-size="8.30" text-anchor="middle" fill="#262626" stroke="#262626" stroke-width="0.17" xml:space="preserve">2000</text>
<text transform="translate(143.87,512.20) scale(1.0528,1)" font-family="Liberation Sans" font-size="8.30" text-anchor="middle" fill="#262626" stroke="#262626" stroke-width="0.17" xml:space="preserve">3000</text>
<text transform="translate(171.86,512.20) scale(1.0528,1)" font-family="Liberation Sans" font-size="8.30" text-anchor="middle" fill="#262626" stroke="#262626" stroke-width="0.17" xml:space="preserve">4000</text>
<text transform="translate(199.85,512.20) scale(1.0528,1)" font-family="Liberation Sans" font-size="8.30" text-anchor="middle" fill="#262626" stroke="#262626" stroke-width="0.17" xml:space="preserve">5000</text>
<text transform="translate(227.84,512.20) scale(1.0528,1)" font-family="Liberation Sans" font-size="8.30" text-anchor="middle" fill="#262626" stroke="#262626" stroke-width="0.17" xml:space="preserve">6000</text>
<text transform="translate(255.83,512.20) scale(1.0528,1)" font-family="Liberation Sans" font-size="8.30" text-anchor="middle" fill="#262626" stroke="#262626" stroke-width="0.17" xml:space="preserve">7000</text>
<text transform="translate(283.82,512.20) scale(1.0528,1)" font-family="Liberation Sans" font-size="8.30" text-anchor="middle" fill="#262626" stroke="#262626" stroke-width="0.17" xml:space="preserve">8000</text>
<text transform="translate(311.81,512.20) scale(1.0528,1)" font-family="Liberation Sans" font-size="8.30" text-anchor="middle" fill="#262626" stroke="#262626" stroke-width="0.17" xml:space="preserve">9000</text>
<text transform="translate(40.80,503.90) scale(1.0623,1)" font-family="Liberation Sans" font-size="8.30" text-anchor="end" fill="#262626" stroke="#262626" stroke-width="0.17" xml:space="preserve">−100</text>
<text transform="translate(40.80,484.75) scale(1.0753,1)" font-family="Liberation Sans" font-size="8.30" text-anchor="end" fill="#262626" stroke="#262626" stroke-width="0.17" xml:space="preserve">−75</text>
<text transform="translate(40.80,465.60) scale(1.0753,1)" font-family="Liberation Sans" font-size="8.30" text-anchor="end" fill="#262626" stroke="#262626" stroke-width="0.17" xml:space="preserve">−50</text>
<text transform="translate(40.80,446.45) scale(1.0753,1)" font-family="Liberation Sans" font-size="8.30" text-anchor="end" fill="#262626" stroke="#262626" stroke-width="0.17" xml:space="preserve">−25</text>
<text transform="translate(40.80,427.30) scale(1.0225,1)" font-family="Liberation Sans" font-size="8.30" text-anchor="end" fill="#262626" stroke="#262626" stroke-width="0.17" xml:space="preserve">0</text>
<text transform="translate(40.80,408.15) scale(1.0225,1)" font-family="Liberation Sans" font-size="8.30" text-anchor="end" fill="#262626" stroke="#262626" stroke-width="0.17" xml:space="preserve">25</text>
<text transform="translate(40.80,389.00) scale(1.0225,1)" font-family="Liberation Sans" font-size="8.30" text-anchor="end" fill="#262626" stroke="#262626" stroke-width="0.17" xml:space="preserve">50</text>
<text transform="translate(40.80,369.85) scale(1.0225,1)" font-family="Liberation Sans" font-size="8.30" text-anchor="end" fill="#262626" stroke="#262626" stroke-width="0.17" xml:space="preserve">75</text>
<text transform="translate(40.80,350.70) scale(1.0225,1)" font-family="Liberation Sans" font-size="8.30" text-anchor="end" fill="#262626" stroke="#262626" stroke-width="0.17" xml:space="preserve">100</text>
<text transform="translate(40.80,331.55) scale(1.0225,1)" font-family="Liberation Sans" font-size="8.30" text-anchor="end" fill="#262626" stroke="#262626" stroke-width="0.17" xml:space="preserve">125</text>
<text transform="translate(40.80,312.40) scale(1.0225,1)" font-family="Liberation Sans" font-size="8.30" text-anchor="end" fill="#262626" stroke="#262626" stroke-width="0.17" xml:space="preserve">150</text>
<text transform="translate(185.95,522.80) scale(1.0364,1)" font-family="Liberation Sans" font-size="9.40" text-anchor="middle" fill="#262626" stroke="#262626" stroke-width="0.17" xml:space="preserve">episodes</text>
<text transform="translate(15.20,397.45) rotate(-90) scale(1.0671,1)" font-family="Liberation Sans" font-size="9.40" text-anchor="middle" fill="#262626" stroke="#262626" stroke-width="0.17" xml:space="preserve">average episodes rewards</text>
<text transform="translate(185.95,289.30) scale(1.0824,1)" font-family="Liberation Sans" font-size="11.40" text-anchor="middle" fill="#262626" stroke="#262626" stroke-width="0.17" xml:space="preserve">Training Scenario-3  (Intense interference)</text>
</g>
<g>
<g stroke="#d3d3d3" stroke-width="1">
<line x1="418.40" y1="294.5" x2="418.40" y2="500.2"/>
<line x1="446.39" y1="294.5" x2="446.39" y2="500.2"/>
<line x1="474.38" y1="294.5" x2="474.38" y2="500.2"/>
<line x1="502.37" y1="294.5" x2="502.37" y2="500.2"/>
<line x1="530.36" y1="294.5" x2="530.36" y2="500.2"/>
<line x1="558.35" y1="294.5" x2="558.35" y2="500.2"/>
<line x1="586.34" y1="294.5" x2="586.34" y2="500.2"/>
<line x1="614.33" y1="294.5" x2="614.33" y2="500.2"/>
<line x1="642.32" y1="294.5" x2="642.32" y2="500.2"/>
<line x1="670.31" y1="294.5" x2="670.31" y2="500.2"/>
<line x1="405.7" y1="485.62" x2="683.0" y2="485.62"/>
<line x1="405.7" y1="461.00" x2="683.0" y2="461.00"/>
<line x1="405.7" y1="436.38" x2="683.0" y2="436.38"/>
<line x1="405.7" y1="411.77" x2="683.0" y2="411.77"/>
<line x1="405.7" y1="387.15" x2="683.0" y2="387.15"/>
<line x1="405.7" y1="362.54" x2="683.0" y2="362.54"/>
<line x1="405.7" y1="337.93" x2="683.0" y2="337.93"/>
<line x1="405.7" y1="313.31" x2="683.0" y2="313.31"/>
</g>
<clipPath id="cpd"><rect x="405.7" y="294.5" width="277.3" height="205.7"/></clipPath>
<g clip-path="url(#cpd)" fill="none" stroke-width="2.1" stroke-linejoin="round" stroke-linecap="round">
<path d="M418.4,486.0 418.4,485.3 418.4,484.6 418.4,484.0 418.5,483.9 418.5,482.0 418.5,481.8 418.5,481.8 418.5,480.6 418.5,480.3 418.6,479.4 418.6,478.3 418.6,476.5 418.6,476.7 418.6,475.7 418.6,474.7 418.7,474.8 418.7,474.0 418.7,472.9 418.7,472.8 418.7,472.9 418.7,472.5 418.8,470.6 418.8,470.7 418.8,468.7 418.8,469.8 418.8,469.0 418.8,467.4 418.8,467.0 418.9,466.1 418.9,463.6 418.9,463.6 418.9,464.9 418.9,461.6 418.9,461.1 419.0,460.9 419.0,461.0 419.0,460.8 419.0,459.0 419.0,458.3 419.0,458.9 419.1,457.9 419.1,457.2 419.1,456.1 419.1,456.1 419.1,455.0 419.1,453.3 419.2,451.1 419.2,450.7 419.2,451.5 419.2,449.7 419.2,449.5 419.2,450.0 419.2,449.1 419.3,449.2 419.3,448.4 419.3,446.8 419.3,445.7 419.3,446.0 419.3,444.9 419.4,444.5 419.4,444.9 419.4,443.1 419.4,441.8 419.4,441.8 419.4,439.4 419.5,439.5 419.5,438.9 419.5,439.1 419.5,436.5 419.5,436.4 419.5,436.0 419.6,434.1 419.6,433.7 419.6,434.3 419.6,434.9 419.6,434.4 419.6,432.1 419.6,431.2 419.7,431.3 419.7,429.8 419.7,428.5 419.7,427.6 419.7,428.1 419.7,426.2 419.8,427.1 419.8,425.8 419.8,425.6 419.8,424.3 419.8,423.7 419.8,423.3 419.9,422.2 419.9,422.7 419.9,422.7 419.9,420.3 419.9,418.9 419.9,418.5 420.0,417.1 420.0,416.7 420.0,417.4 420.0,416.2 420.0,414.9 420.1,414.4 420.1,412.6 420.1,413.2 420.2,413.1 420.2,413.0 420.2,410.9 420.3,410.3 420.3,408.2 420.3,407.4 420.4,406.2 420.4,407.6 420.4,406.5 420.5,406.7 420.5,406.4 420.5,404.3 420.6,403.5 420.6,402.8 420.6,402.0 420.7,403.5 420.7,401.6 420.7,400.4 420.8,399.0 420.8,398.5 420.8,398.1 420.9,396.9 420.9,396.7 420.9,396.4 421.0,395.0 421.0,393.8 421.2,393.5 421.4,392.8 421.6,392.9 421.8,391.6 422.0,391.0 422.3,390.2 422.5,389.9 422.8,388.5 423.1,388.2 423.3,386.9 423.6,387.1 423.9,387.6 424.1,386.7 424.4,383.7 424.7,384.3 424.9,383.0 425.2,382.9 425.5,382.4 425.7,381.5 426.0,382.0 426.4,381.6 426.9,378.5 427.3,378.4 427.7,380.4 428.1,379.3 428.6,377.3 429.0,377.7 429.4,376.9 429.9,373.7 430.3,373.9 430.7,373.9 431.1,374.2 431.6,372.3 432.0,371.4 432.5,372.9 433.0,374.2 433.5,373.3 434.0,371.7 434.5,371.3 435.0,370.9 435.5,368.9 436.0,369.3 436.5,369.2 437.0,368.4 437.5,368.9 438.0,367.8 438.7,366.0 439.3,367.3 440.0,369.2 440.7,367.4 441.3,365.2 442.0,363.4 442.7,364.5 443.3,363.3 444.0,363.9 444.7,364.2 445.3,364.1 446.0,362.3 446.7,364.2 447.3,364.3 448.0,364.1 448.7,364.1 449.3,362.5 450.0,363.6 450.7,362.6 451.3,360.7 452.0,362.4 452.7,361.6 453.3,359.9 454.0,361.7 454.7,360.9 455.3,361.7 456.0,360.9 456.7,359.8 457.3,359.0 458.0,358.4 458.7,358.7 459.3,357.5 460.0,357.3 460.7,356.4 461.3,358.4 462.0,357.7 462.7,356.6 463.3,356.2 464.0,356.6 464.7,356.3 465.3,356.6 466.0,355.7 466.7,354.9 467.4,355.0 468.1,354.8 468.9,354.2 469.6,356.0 470.3,356.7 471.0,355.0 471.7,354.4 472.4,354.0 473.1,355.1 473.9,353.4 474.6,353.5 475.3,354.5 476.0,354.7 476.7,353.0 477.4,353.4 478.1,354.2 478.9,353.0 479.6,353.5 480.3,352.9 481.0,353.8 481.7,352.5 482.4,352.2 483.1,351.6 483.9,352.6 484.6,351.8 485.3,351.0 486.0,352.0 486.7,352.0 487.3,350.5 488.0,350.3 488.7,349.6 489.3,350.4 490.0,349.8 490.7,349.9 491.3,350.5 492.0,349.2 492.7,350.8 493.3,349.0 494.0,348.7 494.7,347.9 495.3,349.7 496.0,348.0 496.7,347.3 497.3,346.9 498.0,347.0 498.7,347.8 499.3,348.5 500.0,347.0 500.7,346.9 501.3,345.2 502.0,346.5 502.7,345.6 503.3,345.5 504.0,344.1 504.7,344.9 505.3,344.2 506.0,344.2 506.7,345.2 507.3,343.5 508.0,343.3 508.7,342.9 509.3,342.1 510.0,342.6 510.7,341.8 511.3,341.1 512.0,340.6 512.7,340.1 513.3,339.3 514.0,339.7 514.7,339.6 515.5,339.0 516.2,340.7 516.9,339.3 517.6,340.6 518.4,338.9 519.1,339.4 519.8,339.4 520.5,339.6 521.3,339.2 522.0,338.5 522.7,339.0 523.5,338.5 524.2,339.3 524.9,337.8 525.6,338.4 526.4,337.3 527.1,338.8 527.8,337.9 528.5,337.4 529.3,337.7 530.0,336.7 530.7,337.6 531.3,335.3 532.0,336.4 532.7,337.7 533.3,339.0 534.0,337.4 534.7,337.0 535.3,335.8 536.0,334.4 536.7,334.8 537.3,333.7 538.0,332.5 538.7,332.0 539.4,334.3 540.1,334.7 540.9,333.4 541.6,331.5 542.3,332.0 543.0,334.1 543.7,333.3 544.4,333.0 545.1,332.3 545.9,331.9 546.6,333.5 547.3,333.7 548.0,332.0 548.7,331.1 549.4,330.5 550.1,330.8 550.9,329.3 551.6,330.4 552.3,329.2 553.0,331.1 553.7,329.6 554.4,329.8 555.1,330.4 555.9,329.7 556.6,329.9 557.3,328.5 558.0,329.2 558.7,328.2 559.4,328.9 560.1,329.1 560.9,327.5 561.6,327.1 562.3,325.4 563.0,325.6 563.7,328.2 564.4,325.9 565.1,326.7 565.9,326.1 566.6,326.1 567.3,326.1 568.0,325.9 568.7,324.6 569.4,324.3 570.1,326.4 570.9,325.4 571.6,324.4 572.3,325.0 573.0,326.5 573.7,324.7 574.4,323.9 575.1,325.0 575.9,325.8 576.6,325.2 577.3,324.3 578.0,324.3 578.7,325.0 579.4,323.5 580.1,325.9 580.9,324.1 581.6,323.6 582.3,323.7 583.0,323.6 583.7,322.7 584.4,322.4 585.1,322.2 585.9,322.5 586.6,322.1 587.3,322.7 588.0,322.1 588.7,321.6 589.4,320.7 590.1,320.9 590.9,319.6 591.6,319.3 592.3,318.8 593.0,321.0 593.7,321.8 594.4,322.0 595.1,322.0 595.9,322.2 596.6,321.4 597.3,320.5 598.0,321.3 598.7,320.8 599.4,320.4 600.1,320.7 600.9,319.2 601.6,320.7 602.3,322.4 603.0,319.5 603.7,320.7 604.4,321.7 605.1,319.5 605.9,319.8 606.6,319.5 607.3,320.2 608.0,320.9 608.7,322.2 609.4,323.8 610.1,321.8 610.9,320.6 611.6,320.7 612.3,321.2 613.0,322.1 613.7,322.1 614.3,322.5 615.0,323.5 615.7,321.4 616.3,321.1 617.0,320.0 617.7,322.1 618.3,322.1 619.0,323.7 619.7,323.9 620.5,322.6 621.2,320.8 621.9,321.9 622.6,321.8 623.4,322.8 624.1,322.3 624.8,322.1 625.5,321.6 626.3,320.8 627.0,321.5 627.7,321.5 628.5,322.2 629.2,320.2 629.9,321.3 630.6,322.5 631.4,321.3 632.1,322.0 632.8,320.5 633.5,321.3 634.3,322.0 635.0,321.8 635.7,322.0 636.5,320.4 637.2,320.8 637.9,320.1 638.6,320.8 639.4,321.6 640.1,321.8 640.8,321.1 641.5,320.7 642.3,320.4 643.0,321.0 643.7,318.1 644.5,318.4 645.2,320.7 645.9,319.4 646.6,318.4 647.4,318.9 648.1,318.8 648.8,318.4 649.5,319.1 650.3,318.8 651.0,317.7 651.7,319.7 652.5,320.0 653.2,319.5 653.9,319.2 654.6,319.7 655.4,320.3 656.1,321.8 656.8,321.5 657.5,319.6 658.3,320.0 659.0,321.8 659.7,320.7 660.5,320.4 661.2,320.7 661.9,321.5 662.6,321.8 663.4,321.3 664.1,321.5 664.8,319.2 665.5,320.5 666.2,320.2 667.0,320.3 667.7,319.5 668.4,319.3 669.1,320.5 669.9,320.6 670.6,320.6" stroke="#84199f"/>
<path d="M418.4,486.0 418.4,485.3 418.4,484.6 418.4,483.2 418.4,482.3 418.5,482.7 418.5,482.8 418.5,481.4 418.5,479.3 418.5,480.5 418.5,479.5 418.5,478.5 418.5,478.3 418.5,476.7 418.5,473.5 418.6,474.6 418.6,474.5 418.6,475.0 418.6,473.9 418.6,472.8 418.6,470.8 418.6,472.0 418.6,472.2 418.6,470.5 418.7,470.2 418.7,468.5 418.7,467.1 418.7,467.8 418.7,467.4 418.7,465.8 418.7,467.0 418.7,465.0 418.7,465.6 418.7,462.3 418.8,462.7 418.8,462.4 418.8,460.6 418.8,460.8 418.8,461.0 418.8,458.5 418.8,457.6 418.8,457.0 418.8,458.3 418.9,456.0 418.9,456.6 418.9,454.5 418.9,452.8 418.9,453.0 418.9,451.1 418.9,451.6 418.9,451.5 418.9,450.0 418.9,449.4 419.0,447.1 419.0,445.8 419.0,445.5 419.0,446.6 419.0,446.1 419.0,445.0 419.1,443.7 419.1,441.4 419.1,441.8 419.2,443.4 419.2,441.5 419.3,441.2 419.3,441.2 419.3,440.0 419.4,439.0 419.4,437.8 419.4,437.3 419.5,436.0 419.5,435.7 419.6,434.3 419.6,434.0 419.6,433.8 419.7,432.8 419.7,431.9 419.7,432.5 419.8,431.4 419.8,429.7 419.9,429.7 419.9,428.2 419.9,427.2 420.0,427.5 420.0,428.8 420.0,427.4 420.1,427.1 420.1,425.7 420.1,422.6 420.2,423.8 420.2,423.1 420.3,420.7 420.3,419.6 420.3,421.7 420.4,420.0 420.4,419.9 420.4,418.5 420.5,417.8 420.5,415.6 420.6,417.1 420.6,416.3 420.6,416.3 420.7,414.9 420.7,413.1 420.7,413.8 420.8,411.1 420.8,410.0 420.9,411.0 420.9,409.9 420.9,408.6 421.0,408.5 421.0,409.2 421.2,407.7 421.5,406.4 421.8,406.9 422.0,405.4 422.2,404.2 422.5,404.8 422.8,403.4 423.0,402.2 423.2,404.2 423.5,401.2 423.8,400.4 424.0,399.4 424.1,399.9 424.2,399.4 424.2,398.1 424.3,394.9 424.4,393.9 424.6,396.1 424.9,395.3 425.1,394.2 425.3,394.7 425.5,392.1 425.8,390.7 426.0,390.6 426.4,392.0 426.9,391.0 427.3,388.8 427.7,386.8 428.1,387.5 428.6,388.1 429.0,385.5 429.4,385.3 429.9,386.0 430.3,385.6 430.7,385.4 431.1,382.9 431.6,383.2 432.0,383.9 432.5,382.2 433.0,381.6 433.5,382.7 434.0,381.7 434.5,380.6 435.0,379.8 435.5,378.5 436.0,379.0 436.5,378.5 437.0,379.0 437.5,376.1 438.0,378.4 438.6,376.7 439.2,375.8 439.8,377.1 440.5,376.0 441.1,374.6 441.7,374.4 442.3,375.6 442.9,373.5 443.5,372.6 444.2,373.7 444.8,371.4 445.4,371.3 446.0,373.8 446.7,372.8 447.3,371.1 448.0,369.9 448.7,369.5 449.3,369.1 450.0,370.0 450.7,369.0 451.3,369.8 452.0,369.1 452.8,367.1 453.5,368.8 454.2,369.3 455.0,368.7 455.8,368.7 456.5,369.8 457.2,368.8 458.0,369.6 458.6,368.5 459.2,367.1 459.8,367.3 460.5,367.3 461.1,366.4 461.7,365.7 462.3,364.7 462.9,366.1 463.5,366.0 464.2,366.6 464.8,366.6 465.4,365.7 466.0,363.4 466.7,364.2 467.3,363.1 468.0,361.6 468.7,361.5 469.3,362.2 470.0,361.6 470.7,361.2 471.3,361.2 472.0,361.0 472.7,361.5 473.3,361.8 474.0,361.6 474.6,359.9 475.1,360.7 475.7,361.8 476.3,359.8 476.9,358.8 477.4,359.2 478.0,358.9 478.6,359.6 479.1,357.6 479.7,357.1 480.3,356.8 480.9,357.3 481.4,355.2 482.0,354.9 482.6,354.1 483.2,354.2 483.9,353.9 484.5,352.6 485.1,352.6 485.8,353.3 486.4,352.0 487.0,352.4 487.6,352.8 488.2,352.4 488.9,351.7 489.5,352.3 490.1,351.1 490.8,350.8 491.4,349.3 492.0,349.8 492.6,348.5 493.2,347.9 493.9,348.0 494.5,347.8 495.1,348.2 495.8,348.7 496.4,348.0 497.0,345.9 497.6,344.1 498.2,346.1 498.9,344.9 499.5,345.0 500.1,344.6 500.8,343.9 501.4,343.1 502.0,343.0 502.6,345.3 503.2,343.8 503.8,342.7 504.5,339.9 505.1,340.4 505.7,342.2 506.3,341.2 506.9,338.2 507.5,339.0 508.2,338.7 508.8,339.1 509.4,340.0 510.0,340.3 510.8,339.4 511.5,338.1 512.2,338.3 513.0,337.3 513.8,337.4 514.5,337.1 515.2,335.9 516.0,336.9 516.7,339.3 517.3,338.6 518.0,339.0 518.7,338.6 519.3,340.8 520.0,341.3 520.7,340.5 521.3,340.2 522.0,339.6 522.7,339.5 523.5,339.8 524.2,341.0 524.9,342.5 525.6,342.7 526.4,343.0 527.1,341.9 527.8,342.3 528.5,343.5 529.3,344.1 530.0,345.0 530.7,343.3 531.3,342.6 532.0,343.2 532.7,341.7 533.3,342.5 534.0,342.3 534.7,342.3 535.3,339.0 536.0,339.8 536.7,340.5 537.3,338.9 538.0,340.1 538.7,342.5 539.4,339.2 540.1,339.0 540.9,339.1 541.6,338.9 542.3,338.9 543.0,338.0 543.7,336.9 544.4,336.8 545.1,338.1 545.8,337.5 546.5,338.1 547.2,337.0 547.9,336.3 548.6,337.9 549.4,337.4 550.1,337.0 550.8,335.5 551.5,335.9 552.2,338.3 552.9,339.0 553.6,336.8 554.3,337.0 555.0,337.6 555.7,337.7 556.3,337.6 557.0,336.6 557.7,336.6 558.3,335.3 559.0,334.6 559.7,334.9 560.3,333.3 561.0,334.0 561.7,333.2 562.3,333.2 563.0,335.1 563.7,334.6 564.4,332.8 565.1,332.3 565.9,333.6 566.6,332.4 567.3,333.1 568.0,332.4 568.7,332.3 569.4,331.8 570.1,332.4 570.9,331.7 571.6,330.7 572.3,330.1 573.0,330.6 573.7,330.5 574.4,332.2 575.1,330.6 575.9,330.4 576.6,329.8 577.3,328.9 578.0,328.6 578.7,329.1 579.4,328.7 580.1,329.1 580.9,327.5 581.6,328.0 582.3,329.1 583.0,329.9 583.7,327.9 584.5,328.0 585.2,327.6 585.9,326.3 586.6,326.8 587.4,325.5 588.1,326.2 588.8,326.8 589.5,326.5 590.3,326.9 591.0,325.6 591.7,326.3 592.3,323.7 593.0,325.0 593.7,324.7 594.3,325.7 595.0,324.4 595.7,325.0 596.3,324.1 597.0,322.7 597.7,324.0 598.3,323.7 599.0,324.3 599.7,323.9 600.5,322.6 601.2,323.3 601.9,322.0 602.6,319.8 603.4,320.4 604.1,319.6 604.8,320.5 605.5,321.0 606.3,320.6 607.0,321.6 607.7,320.6 608.5,320.8 609.2,320.6 609.9,320.7 610.6,320.4 611.4,319.2 612.1,319.7 612.8,320.2 613.5,319.5 614.3,320.1 615.0,319.6 615.7,317.6 616.3,319.2 617.0,320.5 617.7,321.0 618.3,319.0 619.0,318.6 619.7,318.7 620.3,320.5 621.0,319.1 621.7,320.3 622.3,321.5 623.0,321.1 623.7,320.3 624.5,320.7 625.2,320.6 625.9,320.3 626.6,321.0 627.4,321.2 628.1,319.3 628.8,319.4 629.5,318.9 630.3,319.6 631.0,318.7 631.6,319.0 632.1,319.8 632.7,320.2 633.3,319.9 633.9,320.5 634.4,322.3 635.0,322.7 635.7,323.9 636.5,321.6 637.2,321.7 637.9,322.9 638.6,322.4 639.4,321.5 640.1,321.6 640.8,322.8 641.5,321.7 642.3,321.5 643.0,322.9 643.7,320.0 644.4,321.5 645.1,321.6 645.8,321.4 646.5,320.3 647.2,321.0 647.9,321.3 648.6,322.8 649.4,322.9 650.1,320.6 650.8,319.2 651.5,320.9 652.2,321.2 652.9,320.8 653.6,321.6 654.3,322.5 655.0,322.7 655.7,322.2 656.4,321.4 657.1,321.6 657.8,321.3 658.5,321.8 659.3,322.0 660.0,322.5 660.7,321.1 661.4,319.8 662.1,320.0 662.8,320.6 663.5,320.2 664.2,322.4 664.9,322.8 665.6,323.3 666.3,324.5 667.1,322.6 667.8,321.6 668.5,320.8 669.2,321.6 669.9,321.6 670.6,321.6" stroke="#ff4500"/>
<path d="M418.4,486.0 418.4,485.3 418.4,484.6 418.5,483.9 418.5,482.2 418.5,480.5 418.5,482.4 418.5,480.8 418.6,481.2 418.6,479.5 418.6,478.3 418.6,478.1 418.7,477.6 418.7,475.8 418.7,476.7 418.7,474.3 418.7,474.2 418.8,474.5 418.8,474.9 418.8,471.7 418.8,472.2 418.8,471.8 418.9,472.2 418.9,469.7 418.9,470.6 418.9,469.1 418.9,468.8 419.0,466.0 419.0,467.2 419.0,467.8 419.0,465.1 419.1,466.0 419.1,464.5 419.1,464.8 419.1,462.0 419.1,462.9 419.2,462.4 419.2,460.3 419.2,459.3 419.2,458.1 419.2,458.3 419.3,456.8 419.3,455.3 419.3,455.9 419.3,454.5 419.3,454.8 419.4,453.9 419.4,453.7 419.4,453.9 419.4,452.2 419.5,451.0 419.5,449.0 419.5,448.8 419.5,448.6 419.5,448.3 419.6,447.3 419.6,446.7 419.6,446.5 419.7,445.3 419.8,445.8 420.0,443.5 420.1,442.5 420.2,440.9 420.3,440.5 420.5,441.7 420.6,442.0 420.7,439.6 420.8,440.1 420.9,439.9 421.1,438.7 421.2,440.5 421.3,437.2 421.4,435.4 421.5,435.4 421.7,435.1 421.8,435.2 421.9,433.6 422.0,432.5 422.1,429.2 422.3,429.2 422.4,429.2 422.5,430.2 422.6,429.4 422.8,427.9 422.9,426.8 423.0,425.9 423.2,423.7 423.4,424.6 423.6,424.3 423.9,421.2 424.1,421.1 424.3,421.3 424.5,423.4 424.7,420.5 424.9,418.3 425.1,419.9 425.4,417.8 425.6,416.3 425.8,416.5 426.0,414.8 426.3,413.8 426.7,414.5 427.0,414.4 427.3,413.1 427.7,413.1 428.0,410.1 428.3,410.9 428.7,410.4 429.0,410.0 429.3,409.8 429.7,409.8 430.0,410.0 430.6,407.3 431.2,406.1 431.8,407.3 432.4,406.7 433.0,407.0 433.6,405.3 434.2,404.5 434.8,403.2 435.4,404.5 436.0,404.9 436.6,405.5 437.2,405.0 437.8,403.7 438.4,404.2 439.0,403.5 439.6,403.0 440.2,401.8 440.8,400.3 441.4,399.8 442.0,400.2 442.5,400.6 443.1,399.0 443.6,396.8 444.2,398.1 444.7,396.9 445.3,397.9 445.8,397.9 446.4,397.8 446.9,395.5 447.5,394.9 448.0,393.7 448.7,395.9 449.3,394.6 450.0,396.4 450.7,395.7 451.3,394.9 452.0,392.6 452.7,392.3 453.3,394.3 454.0,394.2 454.7,391.6 455.3,392.0 456.0,392.3 456.7,390.2 457.3,390.7 458.0,390.4 458.7,390.4 459.4,389.6 460.1,388.0 460.9,390.4 461.6,391.8 462.3,390.4 463.0,392.5 463.7,390.1 464.4,389.4 465.1,391.1 465.9,389.5 466.6,388.6 467.3,388.1 468.0,388.1 468.7,388.9 469.3,390.1 470.0,388.7 470.7,389.7 471.3,388.6 472.0,387.3 472.7,386.4 473.3,386.0 474.0,386.8 474.7,385.2 475.3,383.9 476.0,384.3 476.7,386.3 477.3,386.6 478.0,384.9 478.7,385.2 479.3,383.5 480.0,383.6 480.7,383.4 481.3,384.1 482.0,382.4 482.7,384.2 483.3,382.8 484.0,381.6 484.7,382.2 485.3,380.6 486.0,380.4 486.7,380.1 487.3,379.7 488.0,379.5 488.7,379.2 489.3,380.1 490.0,379.0 490.7,378.7 491.3,380.3 492.0,379.8 492.7,377.1 493.3,377.5 494.0,377.1 494.7,379.0 495.5,380.1 496.2,380.2 496.9,377.3 497.6,377.3 498.4,376.7 499.1,376.3 499.8,377.4 500.5,376.1 501.3,376.2 502.0,377.0 502.6,376.4 503.2,377.2 503.8,376.8 504.5,375.5 505.1,373.1 505.7,374.3 506.3,375.3 506.9,374.7 507.5,373.2 508.2,372.2 508.8,373.6 509.4,371.3 510.0,372.3 510.7,370.8 511.3,369.6 512.0,370.7 512.7,371.5 513.3,372.1 514.0,370.9 514.7,369.4 515.3,372.1 516.0,371.8 516.7,369.9 517.3,369.9 518.0,369.6 518.7,366.5 519.3,366.1 520.0,366.6 520.7,368.6 521.3,369.3 522.0,366.5 522.7,366.0 523.3,365.7 524.0,366.4 524.7,366.3 525.3,365.7 526.0,364.5 526.7,364.4 527.5,364.4 528.2,364.7 528.9,364.8 529.6,363.9 530.4,364.1 531.1,362.0 531.8,363.7 532.5,365.0 533.3,362.8 534.0,365.7 534.7,363.7 535.4,365.0 536.1,363.4 536.8,364.4 537.5,364.5 538.2,362.1 538.8,362.2 539.5,362.9 540.2,364.0 540.9,362.2 541.6,364.8 542.3,364.2 543.0,362.7 543.7,363.2 544.4,361.0 545.1,362.8 545.9,364.4 546.6,364.5 547.3,362.7 548.0,362.6 548.6,363.1 549.1,363.8 549.7,363.5 550.2,362.6 550.8,361.6 551.3,361.7 551.9,361.4 552.4,362.5 553.0,363.7 553.8,360.4 554.5,359.9 555.2,359.9 556.0,358.2 556.8,360.1 557.5,359.6 558.2,359.8 559.0,358.4 559.7,358.9 560.3,359.9 561.0,358.6 561.7,356.9 562.3,357.5 563.0,357.0 563.7,357.8 564.3,356.5 565.0,355.8 565.7,356.7 566.3,356.3 567.0,355.4 567.7,357.5 568.5,356.6 569.2,357.2 569.9,356.5 570.6,356.1 571.4,356.5 572.1,355.1 572.8,355.0 573.5,355.3 574.3,357.2 575.0,356.9 575.7,357.1 576.5,357.1 577.2,356.4 577.9,357.2 578.6,354.6 579.4,354.4 580.1,354.8 580.8,354.9 581.5,355.9 582.3,356.2 583.0,355.5 583.6,354.3 584.1,353.8 584.7,355.1 585.3,354.8 585.9,354.0 586.4,354.5 587.0,354.0 587.7,353.7 588.5,353.5 589.2,352.6 589.9,351.2 590.6,351.6 591.4,352.0 592.1,353.0 592.8,353.3 593.5,354.6 594.3,352.3 595.0,350.0 595.7,349.1 596.5,351.8 597.2,353.3 597.9,354.0 598.6,354.9 599.4,353.5 600.1,351.7 600.8,352.1 601.5,353.1 602.3,352.1 603.0,353.0 603.7,352.5 604.5,351.8 605.2,352.7 605.9,352.0 606.6,355.3 607.4,356.5 608.1,353.8 608.8,353.8 609.5,353.8 610.3,353.4 611.0,354.0 611.7,355.2 612.4,352.3 613.1,353.2 613.8,353.3 614.5,352.2 615.2,352.7 615.9,353.0 616.6,355.4 617.4,353.9 618.1,352.8 618.8,353.2 619.5,353.0 620.2,353.4 620.9,354.7 621.6,352.8 622.3,353.5 623.0,353.1 623.7,352.7 624.4,352.4 625.1,353.0 625.8,353.1 626.5,350.9 627.2,354.5 627.9,355.0 628.6,353.6 629.4,352.2 630.1,351.3 630.8,352.1 631.5,353.0 632.2,352.3 632.9,352.3 633.6,353.1 634.3,352.9 635.0,354.8 635.7,352.6 636.5,351.5 637.2,350.7 637.9,351.0 638.6,350.9 639.4,351.8 640.1,352.5 640.8,351.6 641.5,351.8 642.3,352.3 643.0,350.4 643.7,348.4 644.4,349.6 645.1,349.6 645.8,349.6 646.5,350.5 647.2,352.6 647.9,353.5 648.6,353.4 649.4,352.1 650.1,351.2 650.8,353.2 651.5,351.6 652.2,350.6 652.9,351.8 653.6,353.0 654.3,350.4 655.0,349.7 655.7,350.6 656.4,350.0 657.1,348.9 657.8,347.7 658.5,349.6 659.3,350.5 660.0,349.1 660.7,348.8 661.4,350.1 662.1,350.7 662.8,349.9 663.5,350.0 664.2,352.8 664.9,353.0 665.6,351.5 666.3,351.2 667.1,350.6 667.8,350.4 668.5,351.7 669.2,350.6 669.9,350.6 670.6,350.6" stroke="#6a98ee"/>
<path d="M418.4,486.0 418.4,485.3 418.4,484.6 418.4,484.1 418.5,484.0 418.5,483.8 418.5,483.4 418.5,483.0 418.5,480.7 418.5,479.8 418.5,479.6 418.6,480.7 418.6,478.1 418.6,477.8 418.6,475.1 418.6,473.9 418.6,475.9 418.6,474.0 418.7,472.5 418.7,470.6 418.7,472.3 418.7,472.5 418.7,470.9 418.7,468.8 418.7,467.7 418.8,468.7 418.8,467.2 418.8,466.1 418.8,466.3 418.8,465.7 418.8,465.2 418.8,462.7 418.9,463.6 418.9,464.6 418.9,463.2 418.9,461.4 418.9,460.8 418.9,458.3 418.9,457.9 419.0,455.7 419.0,456.7 419.0,456.0 419.0,455.9 419.1,456.8 419.2,455.1 419.3,454.1 419.4,453.3 419.4,451.6 419.5,452.4 419.6,451.0 419.7,449.2 419.8,450.2 419.9,449.7 420.0,448.1 420.1,445.7 420.1,447.0 420.2,445.0 420.3,446.0 420.4,444.4 420.5,444.2 420.6,443.9 420.7,444.2 420.8,442.3 420.9,440.6 420.9,440.7 421.0,439.5 421.1,439.4 421.2,439.7 421.3,437.3 421.4,436.7 421.5,435.6 421.6,434.9 421.6,436.5 421.7,435.4 421.8,432.4 421.9,430.2 422.0,429.6 422.3,430.9 422.7,429.9 423.0,427.6 423.3,429.1 423.7,429.2 424.0,426.4 424.3,426.4 424.7,427.1 425.0,427.7 425.3,424.1 425.7,424.1 426.0,424.6 426.5,423.9 427.1,423.0 427.6,423.4 428.2,420.9 428.7,421.7 429.3,423.0 429.8,422.3 430.4,419.6 430.9,417.8 431.5,419.5 432.0,418.4 432.7,418.2 433.3,417.6 434.0,417.7 434.7,417.1 435.3,417.8 436.0,417.8 436.7,415.8 437.3,416.8 438.0,415.6 438.7,415.1 439.3,416.4 440.0,414.5 440.8,414.2 441.5,413.9 442.2,414.7 443.0,412.7 443.8,412.8 444.5,415.6 445.2,416.4 446.0,415.0 446.7,412.1 447.5,411.2 448.2,412.6 448.9,413.8 449.6,414.1 450.4,415.2 451.1,413.6 451.8,413.2 452.5,412.3 453.3,413.7 454.0,413.5 454.6,412.1 455.2,412.7 455.8,411.7 456.5,412.2 457.1,411.9 457.7,409.7 458.3,409.1 458.9,410.5 459.5,410.0 460.2,410.0 460.8,408.3 461.4,407.4 462.0,406.6 462.6,406.8 463.2,406.9 463.8,407.5 464.4,407.0 465.0,405.5 465.6,405.5 466.2,405.4 466.8,404.0 467.4,404.3 468.0,404.8 468.7,404.6 469.3,404.3 470.0,405.0 470.7,404.9 471.3,406.1 472.0,405.7 472.7,404.8 473.3,404.3 474.0,404.8 474.7,405.3 475.3,405.2 476.0,405.6 476.4,407.3 476.8,409.3 477.2,410.5 477.6,411.0 478.0,411.1 478.7,409.6 479.3,410.0 480.0,408.9 480.7,407.0 481.3,407.8 482.0,407.4 482.7,407.6 483.3,407.5 484.0,406.9 484.7,408.1 485.3,407.3 486.0,406.3 486.7,407.5 487.5,407.1 488.2,406.7 488.9,405.8 489.6,405.8 490.4,405.8 491.1,404.7 491.8,405.2 492.5,404.3 493.3,405.3 494.0,406.7 494.7,407.8 495.5,405.0 496.2,405.7 496.9,407.3 497.6,406.1 498.4,404.5 499.1,406.1 499.8,407.5 500.5,406.9 501.3,405.8 502.0,405.6 502.7,406.7 503.3,405.0 504.0,404.4 504.7,404.9 505.3,405.3 506.0,404.2 506.7,400.5 507.3,402.0 508.0,403.6 508.7,402.7 509.3,403.6 510.0,403.0 510.7,402.2 511.5,402.9 512.2,402.7 512.9,400.9 513.6,400.5 514.4,401.9 515.1,400.6 515.8,400.8 516.5,400.8 517.3,401.1 518.0,403.5 518.7,402.6 519.5,402.9 520.2,401.4 520.9,399.4 521.6,397.8 522.4,398.5 523.1,398.3 523.8,400.0 524.5,400.4 525.3,400.6 526.0,398.6 526.7,399.2 527.5,398.6 528.2,399.6 528.9,398.9 529.6,400.3 530.4,399.7 531.1,400.8 531.8,400.1 532.5,399.5 533.3,401.4 534.0,402.6 534.8,400.5 535.5,399.6 536.2,400.1 537.0,401.0 537.8,399.0 538.5,398.3 539.2,398.9 540.0,399.8 540.8,400.5 541.5,399.2 542.2,400.1 543.0,397.6 543.7,398.3 544.3,398.8 545.0,397.6 545.7,397.5 546.3,397.6 547.0,396.1 547.7,396.9 548.3,397.9 549.0,397.8 549.7,395.7 550.3,396.2 551.0,395.9 551.7,395.5 552.3,394.3 553.0,396.3 553.7,395.2 554.3,392.9 555.0,394.5 555.7,393.5 556.3,394.1 557.0,395.4 557.7,394.3 558.3,393.9 559.0,393.7 559.7,394.1 560.3,392.9 561.0,393.5 561.7,390.2 562.3,391.2 563.0,391.4 563.7,390.6 564.4,390.0 565.1,389.6 565.9,390.4 566.6,391.0 567.3,389.9 568.0,389.0 568.7,388.5 569.4,388.6 570.1,387.9 570.9,387.8 571.6,387.9 572.3,387.5 573.0,388.3 573.7,388.5 574.5,390.0 575.2,389.0 575.9,389.1 576.6,388.3 577.4,387.7 578.1,390.0 578.8,388.9 579.5,388.5 580.3,387.9 581.0,386.4 581.7,388.1 582.4,388.9 583.1,389.3 583.9,390.2 584.6,389.9 585.3,387.8 586.0,389.4 586.5,385.8 587.0,390.2 587.5,388.5 588.0,389.9 588.5,392.3 589.0,392.5 589.5,390.9 590.0,391.4 590.7,392.7 591.4,393.2 592.1,392.5 592.8,390.1 593.5,391.6 594.2,391.3 594.9,391.5 595.6,390.9 596.3,391.0 597.0,391.5 597.7,390.4 598.3,389.2 599.0,389.4 599.7,390.4 600.3,392.8 601.0,390.9 601.7,390.4 602.3,388.7 603.0,386.2 603.7,386.1 604.3,386.2 605.0,387.0 605.7,386.8 606.3,385.3 607.0,384.0 607.7,385.1 608.3,384.3 609.0,384.3 609.7,384.4 610.3,384.6 611.0,384.5 611.7,382.4 612.3,383.2 613.0,383.2 613.7,382.1 614.3,383.0 615.0,384.3 615.7,383.7 616.3,380.6 617.0,382.5 617.7,384.0 618.3,382.9 619.0,382.1 619.7,384.6 620.3,386.1 621.0,384.9 621.7,383.7 622.3,385.6 623.0,386.5 623.7,385.9 624.3,387.3 625.0,387.2 625.7,386.3 626.5,386.9 627.2,386.2 627.9,386.0 628.6,386.1 629.4,385.5 630.1,384.9 630.8,385.3 631.5,386.3 632.3,386.1 633.0,386.8 633.7,385.5 634.4,385.9 635.1,387.2 635.9,386.2 636.6,385.6 637.3,387.1 638.0,387.0 638.7,387.4 639.4,386.5 640.1,385.4 640.9,386.0 641.6,386.8 642.3,387.0 643.0,387.1 643.7,386.1 644.3,385.4 645.0,387.4 645.7,385.5 646.3,385.5 647.0,384.3 647.7,384.5 648.3,384.4 649.0,384.9 649.7,384.7 650.3,386.2 651.0,386.7 651.7,385.7 652.3,385.3 653.0,385.1 653.7,386.2 654.3,386.2 655.0,386.7 655.7,386.6 656.5,386.6 657.2,385.9 657.9,382.8 658.6,383.7 659.4,385.2 660.1,385.2 660.8,388.1 661.5,386.8 662.3,386.1 663.0,384.0 663.8,384.8 664.5,386.8 665.3,385.3 666.0,387.6 666.8,384.6 667.6,382.5 668.3,384.7 669.1,385.0 669.8,385.0 670.6,385.0" stroke="#4deb4d"/>
<path d="M418.4,486.0 418.4,485.3 418.5,484.6 418.5,483.7 418.6,482.8 418.6,481.5 418.6,482.1 418.7,479.8 418.7,478.4 418.8,478.9 418.8,477.5 418.8,476.4 418.9,477.5 418.9,476.2 419.0,475.4 419.0,475.3 419.0,472.8 419.1,473.0 419.1,472.7 419.2,471.8 419.2,470.4 419.2,469.3 419.3,470.5 419.3,471.1 419.4,470.3 419.4,470.6 419.4,469.5 419.5,466.0 419.5,465.7 419.6,465.3 419.6,463.2 419.6,464.5 419.7,465.0 419.7,462.2 419.8,461.8 419.8,460.8 419.8,460.9 419.9,458.5 419.9,460.1 420.0,459.3 420.0,457.5 420.0,457.1 420.1,457.9 420.1,456.2 420.2,454.1 420.2,452.5 420.2,453.1 420.3,451.6 420.3,451.7 420.4,451.5 420.4,449.8 420.4,450.6 420.5,448.9 420.5,448.8 420.6,448.3 420.6,446.5 420.6,445.6 420.7,446.7 420.7,445.5 420.8,444.6 420.8,443.2 420.8,441.5 420.9,442.4 420.9,441.9 421.0,440.2 421.0,439.8 421.7,439.8 422.4,439.7 423.1,438.8 423.9,439.2 424.6,438.5 425.3,438.9 426.0,438.4 426.7,437.4 427.3,438.8 428.0,438.3 428.7,438.5 429.3,437.7 430.0,437.2 430.7,436.5 431.3,437.3 432.0,437.9 432.7,436.6 433.3,435.1 434.0,434.4 434.7,436.1 435.3,434.3 436.0,433.9 436.7,434.5 437.3,434.9 438.0,434.2 438.7,434.4 439.5,433.8 440.2,432.2 440.9,433.0 441.6,433.2 442.4,433.2 443.1,433.6 443.8,432.4 444.5,433.0 445.3,432.0 446.0,430.5 446.7,432.0 447.5,430.9 448.2,433.0 448.9,433.2 449.6,431.3 450.4,430.3 451.1,430.9 451.8,431.4 452.5,431.1 453.3,430.3 454.0,429.4 454.7,430.9 455.5,429.8 456.2,428.9 456.9,430.7 457.6,431.4 458.4,428.9 459.1,428.8 459.8,428.6 460.5,427.0 461.3,427.1 462.0,425.9 462.7,426.4 463.5,428.4 464.2,428.5 464.9,427.3 465.6,426.9 466.4,425.6 467.1,427.4 467.8,426.2 468.5,425.6 469.3,426.7 470.0,428.2 470.7,427.5 471.5,425.1 472.2,425.5 472.9,425.9 473.6,424.3 474.4,425.5 475.1,427.2 475.8,426.2 476.5,423.5 477.3,425.5 478.0,426.1 478.7,427.1 479.5,427.9 480.2,427.2 480.9,425.5 481.6,423.8 482.4,423.0 483.1,423.7 483.8,423.9 484.5,424.6 485.3,423.9 486.0,424.4 486.7,424.2 487.5,424.0 488.2,423.6 488.9,422.6 489.6,423.2 490.4,423.2 491.1,422.2 491.8,423.1 492.5,423.1 493.3,422.8 494.0,423.5 494.7,421.5 495.5,420.3 496.2,421.0 496.9,421.7 497.6,422.1 498.4,418.7 499.1,419.0 499.8,419.8 500.5,422.2 501.3,422.6 502.0,421.7 502.7,420.0 503.5,419.4 504.2,420.3 504.9,420.2 505.6,419.4 506.4,419.5 507.1,419.9 507.8,421.2 508.5,422.0 509.3,418.9 510.0,418.6 510.7,417.9 511.5,417.5 512.2,419.4 512.9,419.2 513.6,418.9 514.4,419.0 515.1,417.9 515.8,417.4 516.5,419.0 517.3,419.9 518.0,419.4 518.7,419.3 519.5,417.1 520.2,416.5 520.9,416.1 521.6,416.3 522.4,415.5 523.1,416.6 523.8,417.4 524.5,418.9 525.3,418.1 526.0,417.7 526.7,415.6 527.5,416.8 528.2,418.4 528.9,416.5 529.6,415.9 530.4,416.0 531.1,417.2 531.8,416.5 532.5,416.7 533.3,415.2 534.0,414.8 534.7,415.8 535.4,414.8 536.1,416.1 536.8,416.8 537.5,416.4 538.2,416.0 539.0,417.0 539.7,416.5 540.4,414.7 541.1,414.5 541.8,415.5 542.5,414.7 543.2,414.2 543.9,413.8 544.6,414.8 545.3,415.5 546.0,416.4 546.8,415.6 547.5,414.2 548.2,413.4 548.9,414.0 549.6,413.6 550.3,413.8 551.0,413.8 551.7,413.7 552.5,413.0 553.2,414.5 553.9,416.1 554.6,414.9 555.4,414.1 556.1,414.0 556.8,413.1 557.5,414.4 558.3,413.3 559.0,412.6 559.7,413.9 560.3,414.0 561.0,411.1 561.7,410.5 562.3,411.4 563.0,409.7 563.7,410.2 564.5,411.0 565.2,409.4 565.9,409.5 566.6,409.4 567.4,413.0 568.1,411.9 568.8,411.9 569.5,411.4 570.3,411.3 571.0,411.7 571.7,410.8 572.5,412.9 573.2,411.8 573.9,412.0 574.6,411.4 575.4,411.7 576.1,410.3 576.8,409.0 577.5,409.8 578.3,410.7 579.0,409.9 579.7,411.1 580.5,412.3 581.2,409.5 581.9,409.0 582.6,411.4 583.4,411.2 584.1,410.5 584.8,409.6 585.5,410.8 586.3,411.1 587.0,412.2 587.7,412.5 588.5,411.9 589.2,412.2 589.9,411.4 590.6,411.2 591.4,410.5 592.1,412.4 592.8,413.2 593.5,410.8 594.3,409.6 595.0,410.0 595.8,409.3 596.6,409.6 597.4,408.2 598.2,408.6 599.0,409.7 599.7,409.4 600.3,408.8 601.0,408.5 601.7,407.8 602.3,408.2 603.0,409.4 603.7,409.3 604.3,411.3 605.0,411.1 605.7,410.9 606.3,412.2 607.0,413.7 607.7,413.6 608.5,412.2 609.2,412.2 609.9,412.7 610.6,413.3 611.4,413.6 612.1,411.2 612.8,410.5 613.5,410.2 614.3,411.3 615.0,412.8 615.7,410.0 616.5,411.0 617.2,410.8 617.9,411.1 618.6,410.4 619.4,411.3 620.1,410.5 620.8,412.0 621.5,410.8 622.3,412.1 623.0,410.3 623.7,412.6 624.5,411.2 625.2,410.1 625.9,410.9 626.6,411.5 627.4,411.8 628.1,412.2 628.8,412.5 629.5,411.2 630.3,413.7 631.0,413.1 631.7,413.7 632.5,411.8 633.2,411.2 633.9,411.3 634.6,412.1 635.4,411.1 636.1,411.5 636.8,411.7 637.5,411.6 638.3,410.2 639.0,412.4 639.7,411.6 640.3,410.6 641.0,410.4 641.7,410.2 642.3,409.9 643.0,411.1 643.7,409.6 644.5,409.0 645.2,408.1 645.9,409.0 646.6,409.0 647.4,408.7 648.1,409.8 648.8,411.6 649.5,413.4 650.3,411.4 651.0,409.5 651.7,410.3 652.5,410.5 653.2,411.4 653.9,410.8 654.6,410.7 655.4,411.6 656.1,411.2 656.8,410.1 657.5,409.7 658.3,411.0 659.0,409.6 659.7,410.2 660.5,409.8 661.2,410.1 661.9,410.7 662.6,410.8 663.4,408.5 664.1,409.6 664.8,407.4 665.5,407.2 666.2,408.6 667.0,408.4 667.7,409.8 668.4,411.3 669.1,409.2 669.9,409.1 670.6,409.0" stroke="#ee8a2c"/>
<line x1="418.4" y1="425.6" x2="670.3" y2="425.6" stroke="#222" stroke-width="1.6" stroke-dasharray="3.95,2.2"/>
</g>
<rect x="405.7" y="294.5" width="277.30" height="205.70" fill="none" stroke="#505050" stroke-width="1"/>
<g stroke="#505050" stroke-width="1">
<line x1="418.40" y1="500.2" x2="418.40" y2="503.7"/>
<line x1="446.39" y1="500.2" x2="446.39" y2="503.7"/>
<line x1="474.38" y1="500.2" x2="474.38" y2="503.7"/>
<line x1="502.37" y1="500.2" x2="502.37" y2="503.7"/>
<line x1="530.36" y1="500.2" x2="530.36" y2="503.7"/>
<line x1="558.35" y1="500.2" x2="558.35" y2="503.7"/>
<line x1="586.34" y1="500.2" x2="586.34" y2="503.7"/>
<line x1="614.33" y1="500.2" x2="614.33" y2="503.7"/>
<line x1="642.32" y1="500.2" x2="642.32" y2="503.7"/>
<line x1="670.31" y1="500.2" x2="670.31" y2="503.7"/>
<line x1="402.2" y1="485.62" x2="405.7" y2="485.62"/>
<line x1="402.2" y1="461.00" x2="405.7" y2="461.00"/>
<line x1="402.2" y1="436.38" x2="405.7" y2="436.38"/>
<line x1="402.2" y1="411.77" x2="405.7" y2="411.77"/>
<line x1="402.2" y1="387.15" x2="405.7" y2="387.15"/>
<line x1="402.2" y1="362.54" x2="405.7" y2="362.54"/>
<line x1="402.2" y1="337.93" x2="405.7" y2="337.93"/>
<line x1="402.2" y1="313.31" x2="405.7" y2="313.31"/>
</g>
<text transform="translate(418.40,512.00) scale(1.0528,1)" font-family="Liberation Sans" font-size="8.30" text-anchor="middle" fill="#262626" stroke="#262626" stroke-width="0.17" xml:space="preserve">0</text>
<text transform="translate(446.39,512.00) scale(1.0528,1)" font-family="Liberation Sans" font-size="8.30" text-anchor="middle" fill="#262626" stroke="#262626" stroke-width="0.17" xml:space="preserve">1000</text>
<text transform="translate(474.38,512.00) scale(1.0528,1)" font-family="Liberation Sans" font-size="8.30" text-anchor="middle" fill="#262626" stroke="#262626" stroke-width="0.17" xml:space="preserve">2000</text>
<text transform="translate(502.37,512.00) scale(1.0528,1)" font-family="Liberation Sans" font-size="8.30" text-anchor="middle" fill="#262626" stroke="#262626" stroke-width="0.17" xml:space="preserve">3000</text>
<text transform="translate(530.36,512.00) scale(1.0528,1)" font-family="Liberation Sans" font-size="8.30" text-anchor="middle" fill="#262626" stroke="#262626" stroke-width="0.17" xml:space="preserve">4000</text>
<text transform="translate(558.35,512.00) scale(1.0528,1)" font-family="Liberation Sans" font-size="8.30" text-anchor="middle" fill="#262626" stroke="#262626" stroke-width="0.17" xml:space="preserve">5000</text>
<text transform="translate(586.34,512.00) scale(1.0528,1)" font-family="Liberation Sans" font-size="8.30" text-anchor="middle" fill="#262626" stroke="#262626" stroke-width="0.17" xml:space="preserve">6000</text>
<text transform="translate(614.33,512.00) scale(1.0528,1)" font-family="Liberation Sans" font-size="8.30" text-anchor="middle" fill="#262626" stroke="#262626" stroke-width="0.17" xml:space="preserve">7000</text>
<text transform="translate(642.32,512.00) scale(1.0528,1)" font-family="Liberation Sans" font-size="8.30" text-anchor="middle" fill="#262626" stroke="#262626" stroke-width="0.17" xml:space="preserve">8000</text>
<text transform="translate(670.31,512.00) scale(1.0528,1)" font-family="Liberation Sans" font-size="8.30" text-anchor="middle" fill="#262626" stroke="#262626" stroke-width="0.17" xml:space="preserve">9000</text>
<text transform="translate(399.20,488.92) scale(1.0753,1)" font-family="Liberation Sans" font-size="8.30" text-anchor="end" fill="#262626" stroke="#262626" stroke-width="0.17" xml:space="preserve">−25</text>
<text transform="translate(399.20,464.30) scale(1.0225,1)" font-family="Liberation Sans" font-size="8.30" text-anchor="end" fill="#262626" stroke="#262626" stroke-width="0.17" xml:space="preserve">0</text>
<text transform="translate(399.20,439.69) scale(1.0225,1)" font-family="Liberation Sans" font-size="8.30" text-anchor="end" fill="#262626" stroke="#262626" stroke-width="0.17" xml:space="preserve">25</text>
<text transform="translate(399.20,415.07) scale(1.0225,1)" font-family="Liberation Sans" font-size="8.30" text-anchor="end" fill="#262626" stroke="#262626" stroke-width="0.17" xml:space="preserve">50</text>
<text transform="translate(399.20,390.45) scale(1.0225,1)" font-family="Liberation Sans" font-size="8.30" text-anchor="end" fill="#262626" stroke="#262626" stroke-width="0.17" xml:space="preserve">75</text>
<text transform="translate(399.20,365.84) scale(1.0225,1)" font-family="Liberation Sans" font-size="8.30" text-anchor="end" fill="#262626" stroke="#262626" stroke-width="0.17" xml:space="preserve">100</text>
<text transform="translate(399.20,341.23) scale(1.0225,1)" font-family="Liberation Sans" font-size="8.30" text-anchor="end" fill="#262626" stroke="#262626" stroke-width="0.17" xml:space="preserve">125</text>
<text transform="translate(399.20,316.61) scale(1.0225,1)" font-family="Liberation Sans" font-size="8.30" text-anchor="end" fill="#262626" stroke="#262626" stroke-width="0.17" xml:space="preserve">150</text>
<text transform="translate(544.35,522.60) scale(1.0364,1)" font-family="Liberation Sans" font-size="9.40" text-anchor="middle" fill="#262626" stroke="#262626" stroke-width="0.17" xml:space="preserve">episodes</text>
<text transform="translate(378.10,397.35) rotate(-90) scale(1.0671,1)" font-family="Liberation Sans" font-size="9.40" text-anchor="middle" fill="#262626" stroke="#262626" stroke-width="0.17" xml:space="preserve">average episodes rewards</text>
<text transform="translate(544.35,289.30) scale(1.0689,1)" font-family="Liberation Sans" font-size="11.40" text-anchor="middle" fill="#262626" stroke="#262626" stroke-width="0.17" xml:space="preserve">Training Scenario-4  (No severe anomalies)</text>
</g>
<rect x="51.6" y="187.7" width="271.2" height="39.9" rx="2" ry="2" fill="#ffffff" fill-opacity="0.82" stroke="#d0d0d0" stroke-width="0.9"/>
<line x1="55.0" y1="194.6" x2="71.6" y2="194.6" stroke="#84199f" stroke-width="1.9"/>
<text transform="translate(78.30,197.20) scale(0.9785,1)" font-family="Liberation Sans" font-size="8.70" text-anchor="start" fill="#262626" stroke="#262626" stroke-width="0.17" xml:space="preserve">CEL(Rules)</text>
<line x1="55.0" y1="207.1" x2="71.6" y2="207.1" stroke="#0000ff" stroke-width="1.9"/>
<text transform="translate(78.30,209.70) scale(0.9888,1)" font-family="Liberation Sans" font-size="8.70" text-anchor="start" fill="#262626" stroke="#262626" stroke-width="0.17" xml:space="preserve">CEL(Rule1)</text>
<line x1="55.0" y1="219.7" x2="71.6" y2="219.7" stroke="#268b26" stroke-width="1.9"/>
<text transform="translate(78.30,222.30) scale(0.9888,1)" font-family="Liberation Sans" font-size="8.70" text-anchor="start" fill="#262626" stroke="#262626" stroke-width="0.17" xml:space="preserve">CEL(Rule2)</text>
<line x1="141.2" y1="194.6" x2="157.6" y2="194.6" stroke="#ff4500" stroke-width="1.9"/>
<text transform="translate(164.50,197.20) scale(1.0022,1)" font-family="Liberation Sans" font-size="8.70" text-anchor="start" fill="#262626" stroke="#262626" stroke-width="0.17" xml:space="preserve">EL(EA+SI)</text>
<line x1="141.2" y1="207.1" x2="157.6" y2="207.1" stroke="#6a98ee" stroke-width="1.9"/>
<text transform="translate(164.50,209.70) scale(0.9606,1)" font-family="Liberation Sans" font-size="8.70" text-anchor="start" fill="#262626" stroke="#262626" stroke-width="0.17" xml:space="preserve">EL(EA)</text>
<line x1="141.2" y1="219.7" x2="157.6" y2="219.7" stroke="#4deb4d" stroke-width="1.9"/>
<text transform="translate(164.50,222.30) scale(0.9641,1)" font-family="Liberation Sans" font-size="8.70" text-anchor="start" fill="#262626" stroke="#262626" stroke-width="0.17" xml:space="preserve">EL(SI)</text>
<line x1="224.2" y1="194.6" x2="240.6" y2="194.6" stroke="#ee8a2c" stroke-width="1.9"/>
<text transform="translate(247.60,197.20) scale(0.9455,1)" font-family="Liberation Sans" font-size="8.70" text-anchor="start" fill="#262626" stroke="#262626" stroke-width="0.17" xml:space="preserve">EL(STF)</text>
<line x1="224.2" y1="207.1" x2="240.6" y2="207.1" stroke="#1a1a1a" stroke-width="1.3" stroke-dasharray="4.3,1.9"/>
<text transform="translate(247.60,209.70) scale(0.9568,1)" font-family="Liberation Sans" font-size="8.70" text-anchor="start" fill="#262626" stroke="#262626" stroke-width="0.17" xml:space="preserve">NBV</text>
<path d="M232.40,215.90 L231.32,219.22 L227.83,219.22 L230.66,221.27 L229.58,224.58 L232.40,222.53 L235.22,224.58 L234.14,221.27 L236.97,219.22 L233.48,219.22Z" fill="#fff" stroke="#111" stroke-width="1.3"/>
<text transform="translate(247.60,222.30) scale(1.0781,1)" font-family="Liberation Sans" font-size="8.70" text-anchor="start" fill="#262626" stroke="#262626" stroke-width="0.17" xml:space="preserve">Divergence Point</text>
<rect x="410.0" y="187.7" width="271.2" height="39.9" rx="2" ry="2" fill="#ffffff" fill-opacity="0.82" stroke="#d0d0d0" stroke-width="0.9"/>
<line x1="413.4" y1="194.6" x2="430.0" y2="194.6" stroke="#84199f" stroke-width="1.9"/>
<text transform="translate(436.70,197.20) scale(0.9785,1)" font-family="Liberation Sans" font-size="8.70" text-anchor="start" fill="#262626" stroke="#262626" stroke-width="0.17" xml:space="preserve">CEL(Rules)</text>
<line x1="413.4" y1="207.1" x2="430.0" y2="207.1" stroke="#0000ff" stroke-width="1.9"/>
<text transform="translate(436.70,209.70) scale(0.9888,1)" font-family="Liberation Sans" font-size="8.70" text-anchor="start" fill="#262626" stroke="#262626" stroke-width="0.17" xml:space="preserve">CEL(Rule1)</text>
<line x1="413.4" y1="219.7" x2="430.0" y2="219.7" stroke="#268b26" stroke-width="1.9"/>
<text transform="translate(436.70,222.30) scale(0.9888,1)" font-family="Liberation Sans" font-size="8.70" text-anchor="start" fill="#262626" stroke="#262626" stroke-width="0.17" xml:space="preserve">CEL(Rule2)</text>
<line x1="499.59999999999997" y1="194.6" x2="516.0" y2="194.6" stroke="#ff4500" stroke-width="1.9"/>
<text transform="translate(522.90,197.20) scale(1.0022,1)" font-family="Liberation Sans" font-size="8.70" text-anchor="start" fill="#262626" stroke="#262626" stroke-width="0.17" xml:space="preserve">EL(EA+SI)</text>
<line x1="499.59999999999997" y1="207.1" x2="516.0" y2="207.1" stroke="#6a98ee" stroke-width="1.9"/>
<text transform="translate(522.90,209.70) scale(0.9606,1)" font-family="Liberation Sans" font-size="8.70" text-anchor="start" fill="#262626" stroke="#262626" stroke-width="0.17" xml:space="preserve">EL(EA)</text>
<line x1="499.59999999999997" y1="219.7" x2="516.0" y2="219.7" stroke="#4deb4d" stroke-width="1.9"/>
<text transform="translate(522.90,222.30) scale(0.9641,1)" font-family="Liberation Sans" font-size="8.70" text-anchor="start" fill="#262626" stroke="#262626" stroke-width="0.17" xml:space="preserve">EL(SI)</text>
<line x1="582.5999999999999" y1="194.6" x2="599.0" y2="194.6" stroke="#ee8a2c" stroke-width="1.9"/>
<text transform="translate(606.00,197.20) scale(0.9455,1)" font-family="Liberation Sans" font-size="8.70" text-anchor="start" fill="#262626" stroke="#262626" stroke-width="0.17" xml:space="preserve">EL(STF)</text>
<line x1="582.5999999999999" y1="207.1" x2="599.0" y2="207.1" stroke="#1a1a1a" stroke-width="1.3" stroke-dasharray="4.3,1.9"/>
<text transform="translate(606.00,209.70) scale(0.9568,1)" font-family="Liberation Sans" font-size="8.70" text-anchor="start" fill="#262626" stroke="#262626" stroke-width="0.17" xml:space="preserve">NBV</text>
<path d="M590.80,215.90 L589.72,219.22 L586.23,219.22 L589.06,221.27 L587.98,224.58 L590.80,222.53 L593.62,224.58 L592.54,221.27 L595.37,219.22 L591.88,219.22Z" fill="#fff" stroke="#111" stroke-width="1.3"/>
<text transform="translate(606.00,222.30) scale(1.0781,1)" font-family="Liberation Sans" font-size="8.70" text-anchor="start" fill="#262626" stroke="#262626" stroke-width="0.17" xml:space="preserve">Divergence Point</text>
<rect x="51.6" y="456.4" width="271.2" height="39.9" rx="2" ry="2" fill="#ffffff" fill-opacity="0.82" stroke="#d0d0d0" stroke-width="0.9"/>
<line x1="55.0" y1="463.29999999999995" x2="71.6" y2="463.29999999999995" stroke="#84199f" stroke-width="1.9"/>
<text transform="translate(78.30,465.90) scale(0.9785,1)" font-family="Liberation Sans" font-size="8.70" text-anchor="start" fill="#262626" stroke="#262626" stroke-width="0.17" xml:space="preserve">CEL(Rules)</text>
<line x1="55.0" y1="475.79999999999995" x2="71.6" y2="475.79999999999995" stroke="#268b26" stroke-width="1.9"/>
<text transform="translate(78.30,478.40) scale(0.9888,1)" font-family="Liberation Sans" font-size="8.70" text-anchor="start" fill="#262626" stroke="#262626" stroke-width="0.17" xml:space="preserve">CEL(Rule2)</text>
<line x1="55.0" y1="488.4" x2="71.6" y2="488.4" stroke="#0000ff" stroke-width="1.9"/>
<text transform="translate(78.30,491.00) scale(0.9888,1)" font-family="Liberation Sans" font-size="8.70" text-anchor="start" fill="#262626" stroke="#262626" stroke-width="0.17" xml:space="preserve">CEL(Rule1)</text>
<line x1="141.2" y1="463.29999999999995" x2="157.6" y2="463.29999999999995" stroke="#ff4500" stroke-width="1.9"/>
<text transform="translate(164.50,465.90) scale(1.0022,1)" font-family="Liberation Sans" font-size="8.70" text-anchor="start" fill="#262626" stroke="#262626" stroke-width="0.17" xml:space="preserve">EL(EA+SI)</text>
<line x1="141.2" y1="475.79999999999995" x2="157.6" y2="475.79999999999995" stroke="#6a98ee" stroke-width="1.9"/>
<text transform="translate(164.50,478.40) scale(0.9606,1)" font-family="Liberation Sans" font-size="8.70" text-anchor="start" fill="#262626" stroke="#262626" stroke-width="0.17" xml:space="preserve">EL(EA)</text>
<line x1="141.2" y1="488.4" x2="157.6" y2="488.4" stroke="#4deb4d" stroke-width="1.9"/>
<text transform="translate(164.50,491.00) scale(0.9641,1)" font-family="Liberation Sans" font-size="8.70" text-anchor="start" fill="#262626" stroke="#262626" stroke-width="0.17" xml:space="preserve">EL(SI)</text>
<line x1="224.2" y1="463.29999999999995" x2="240.6" y2="463.29999999999995" stroke="#ee8a2c" stroke-width="1.9"/>
<text transform="translate(247.60,465.90) scale(0.9455,1)" font-family="Liberation Sans" font-size="8.70" text-anchor="start" fill="#262626" stroke="#262626" stroke-width="0.17" xml:space="preserve">EL(STF)</text>
<line x1="224.2" y1="475.79999999999995" x2="240.6" y2="475.79999999999995" stroke="#1a1a1a" stroke-width="1.3" stroke-dasharray="4.3,1.9"/>
<text transform="translate(247.60,478.40) scale(0.9568,1)" font-family="Liberation Sans" font-size="8.70" text-anchor="start" fill="#262626" stroke="#262626" stroke-width="0.17" xml:space="preserve">NBV</text>
<path d="M232.40,484.60 L231.32,487.92 L227.83,487.92 L230.66,489.97 L229.58,493.28 L232.40,491.23 L235.22,493.28 L234.14,489.97 L236.97,487.92 L233.48,487.92Z" fill="#fff" stroke="#111" stroke-width="1.3"/>
<text transform="translate(247.60,491.00) scale(1.0781,1)" font-family="Liberation Sans" font-size="8.70" text-anchor="start" fill="#262626" stroke="#262626" stroke-width="0.17" xml:space="preserve">Divergence Point</text>
<rect x="530.8" y="457.0" width="148.4" height="38.6" rx="2" ry="2" fill="#ffffff" fill-opacity="0.82" stroke="#d0d0d0" stroke-width="0.9"/>
<line x1="534.8" y1="462.9" x2="551.2" y2="462.9" stroke="#84199f" stroke-width="1.9"/>
<text transform="translate(558.40,465.50) scale(0.9785,1)" font-family="Liberation Sans" font-size="8.70" text-anchor="start" fill="#262626" stroke="#262626" stroke-width="0.17" xml:space="preserve">CEL(Rules)</text>
<line x1="534.8" y1="475.7" x2="551.2" y2="475.7" stroke="#ff4500" stroke-width="1.9"/>
<text transform="translate(558.40,478.30) scale(1.0022,1)" font-family="Liberation Sans" font-size="8.70" text-anchor="start" fill="#262626" stroke="#262626" stroke-width="0.17" xml:space="preserve">EL(EA+SI)</text>
<line x1="534.8" y1="487.9" x2="551.2" y2="487.9" stroke="#6a98ee" stroke-width="1.9"/>
<text transform="translate(558.40,490.50) scale(0.9606,1)" font-family="Liberation Sans" font-size="8.70" text-anchor="start" fill="#262626" stroke="#262626" stroke-width="0.17" xml:space="preserve">EL(EA)</text>
<line x1="620.3" y1="462.9" x2="637.1" y2="462.9" stroke="#4deb4d" stroke-width="1.9"/>
<text transform="translate(643.70,465.50) scale(0.9641,1)" font-family="Liberation Sans" font-size="8.70" text-anchor="start" fill="#262626" stroke="#262626" stroke-width="0.17" xml:space="preserve">EL(SI)</text>
<line x1="620.3" y1="475.7" x2="637.1" y2="475.7" stroke="#ee8a2c" stroke-width="1.9"/>
<text transform="translate(643.70,478.30) scale(0.9455,1)" font-family="Liberation Sans" font-size="8.70" text-anchor="start" fill="#262626" stroke="#262626" stroke-width="0.17" xml:space="preserve">EL(STF)</text>
<line x1="620.3" y1="487.9" x2="637.1" y2="487.9" stroke="#1a1a1a" stroke-width="1.3" stroke-dasharray="4.3,1.9"/>
<text transform="translate(643.70,490.50) scale(0.9568,1)" font-family="Liberation Sans" font-size="8.70" text-anchor="start" fill="#262626" stroke="#262626" stroke-width="0.17" xml:space="preserve">NBV</text>
<text transform="translate(0.30,13.60) scale(1.0388,1)" font-family="Liberation Sans" font-size="18.00" font-weight="bold" text-anchor="start" fill="#000" stroke="#000" stroke-width="0.17" xml:space="preserve">a</text>
<text transform="translate(362.60,13.60) scale(0.9822,1)" font-family="Liberation Sans" font-size="18.00" font-weight="bold" text-anchor="start" fill="#000" stroke="#000" stroke-width="0.17" xml:space="preserve">b</text>
<text transform="translate(0.30,278.40) scale(0.9989,1)" font-family="Liberation Sans" font-size="18.00" font-weight="bold" text-anchor="start" fill="#000" stroke="#000" stroke-width="0.17" xml:space="preserve">c</text>
<text transform="translate(362.40,277.90) scale(0.9822,1)" font-family="Liberation Sans" font-size="18.00" font-weight="bold" text-anchor="start" fill="#000" stroke="#000" stroke-width="0.17" xml:space="preserve">d</text>
</svg></body></html>
